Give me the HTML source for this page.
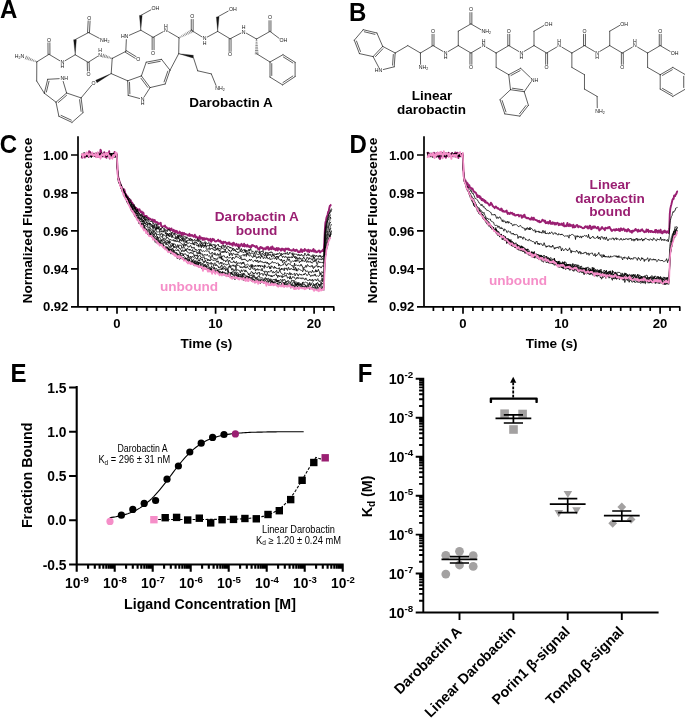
<!DOCTYPE html>
<html lang="en"><head><meta charset="utf-8"><title>Darobactin A binding figure</title>
<style>html,body{margin:0;padding:0;background:#fff}svg{display:block}text{font-family:'Liberation Sans',Arial,Helvetica,sans-serif}</style></head><body>
<svg width="685" height="720" viewBox="0 0 685 720">
<rect width="685" height="720" fill="#fff"/>
<g font-weight="bold" font-size="26" fill="#000">
<text transform="translate(0.1 17.6) scale(0.925 1)">A</text>
<text transform="translate(348.9 21.2) scale(0.925 1)">B</text>
<text transform="translate(-0.2 153.4) scale(0.925 1)">C</text>
<text transform="translate(349.4 153.4) scale(0.925 1)">D</text>
<text transform="translate(10.6 381.9) scale(0.925 1)">E</text>
<text transform="translate(357.8 382.4) scale(0.925 1)">F</text>
</g>
<g id="structA">
<g stroke="#141414" stroke-width="0.68" stroke-linecap="round" fill="none">
<path stroke-width="0.5" d="M36.89 61.67L36.71 62.13M35.4 60.88L35.08 61.67M33.91 60.09L33.46 61.21M32.42 59.3L31.84 60.76M30.93 58.51L30.22 60.3M29.45 57.72L28.59 59.84M27.96 56.93L26.97 59.38M26.47 56.14L25.35 58.92"/>
<path d="M36.8 61.9L49 54.3"/>
<path d="M49 54.3L59.74 60.71"/>
<path d="M65.07 60.73L75.2 54.8"/>
<path d="M75.2 54.8L88.2 62.3"/>
<path d="M88.2 62.3L97.57 56.44"/>
<path stroke-width="0.5" d="M112.27 58.16L112.13 58.64M110.83 57.51L110.56 58.39M109.38 56.86L109 58.14M107.94 56.21L107.43 57.88M106.49 55.56L105.87 57.63M105.05 54.91L104.3 57.38M103.6 54.25L102.74 57.13"/>
<path d="M112.2 58.4L125.8 51.4"/>
<path d="M125.8 51.4L126.35 39.6"/>
<path d="M129.34 35.25L140.8 30.2"/>
<path d="M140.8 30.2L153.1 37.3"/>
<path d="M153.1 37.3L163.19 31.7"/>
<path d="M168.58 31.76L179 37.8"/>
<path stroke-width="0.5" d="M179.12 38.02L178.88 37.58M180.65 37.37L180.28 36.68M182.18 36.71L181.69 35.78M183.71 36.06L183.09 34.88M185.24 35.4L184.49 33.98M186.78 34.75L185.89 33.08M188.31 34.09L187.29 32.18M189.84 33.44L188.69 31.28M191.37 32.78L190.1 30.38M192.9 32.13L191.5 29.47"/>
<path d="M192.2 30.8L201.97 36.86"/>
<path d="M207.33 37.02L217.7 31.4"/>
<path d="M217.7 31.4L230.1 38.8"/>
<path d="M230.1 38.8L240.95 33.13"/>
<path d="M246.39 33.24L256.5 39"/>
<path d="M256.5 39L270 31.4"/>
<path d="M270 31.4L279.13 38.33"/>
<path d="M49.95 54.29L49.87 42.89M48.05 54.31L47.97 42.91"/>
<path d="M87.25 62.32L87.47 70.93M89.15 62.28L89.37 70.88"/>
<path d="M125.3 52.21L135.16 58.28M126.3 50.59L136.16 56.67"/>
<path d="M152.15 37.3L152.15 49.7M154.05 37.3L154.05 49.7"/>
<path d="M193.15 30.8L193.15 19.5M191.25 30.8L191.25 19.5"/>
<path d="M229.15 38.8L229.15 51.4M231.05 38.8L231.05 51.4"/>
<path d="M270.95 31.4L270.95 20.7M269.05 31.4L269.05 20.7"/>
<path d="M89.45 32.65L90.08 21.05M87.55 32.55L88.18 20.94"/>
<path d="M75 39.7L88.5 32.6"/>
<path d="M88.5 32.6L99.26 38.26"/>
<path d="M140.8 15.4L150.88 9.89"/>
<path d="M217.7 16.9L228.19 11.1"/>
<path stroke-width="0.5" d="M256.25 39L256.75 39M256.13 40.65L256.91 40.64M256.02 42.3L257.07 42.28M255.9 43.94L257.23 43.92M255.78 45.59L257.39 45.57M255.67 47.23L257.56 47.21M255.55 48.88L257.72 48.85M255.43 50.53L257.88 50.49M255.32 52.17L258.04 52.14M255.2 53.82L258.2 53.78"/>
<path d="M256.7 53.8L270 62"/>
<path d="M270 62L283 54.7"/>
<path d="M283 54.7L295.1 62.3M283.42 57.03L292.81 62.93"/>
<path d="M295.1 62.3L295.1 76.6"/>
<path d="M295.1 76.6L282.6 84.9M292.8 76.03L282.96 82.56"/>
<path d="M282.6 84.9L270 77.1"/>
<path d="M270 77.1L270 62M271.75 75.5L271.75 63.6"/>
<path d="M36.8 61.9L36.7 81"/>
<path d="M36.7 81L44.3 93.2"/>
<path d="M44.3 93.2L47.7 79.3M46.38 92.06L49.02 81.27"/>
<path d="M47.7 79.3L59.2 78.67"/>
<path d="M63.18 81.47L66.6 93"/>
<path d="M66.6 93L56 102.2M66.54 95.37L58.36 102.47"/>
<path d="M56 102.2L44.3 93.2"/>
<path d="M56 102.2L58.9 116.3"/>
<path d="M58.9 116.3L72 122.4M61.09 115.39L71.29 120.14"/>
<path d="M72 122.4L83 112.7"/>
<path d="M83 112.7L81.1 97.9M81.06 111.34L79.57 99.71"/>
<path d="M81.1 97.9L66.6 93"/>
<path d="M81.1 97.9L91.62 85.28"/>
<path d="M112.2 58.4L111.2 73.6"/>
<path d="M111.2 73.6L127.7 80.8"/>
<path d="M127.7 80.8L128.2 95.4M129.5 82.34L129.89 93.74"/>
<path d="M128.2 95.4L139.61 98.49"/>
<path d="M144.27 96.69L150.1 87.6"/>
<path d="M150.1 87.6L141.4 75.9M147.74 87.36L140.95 78.23"/>
<path d="M141.4 75.9L127.7 80.8"/>
<path d="M141.4 75.9L146.2 62.2"/>
<path d="M146.2 62.2L161.5 59.3M148.1 63.62L160.25 61.32"/>
<path d="M161.5 59.3L170 70.2"/>
<path d="M170 70.2L165.2 84M167.82 71.14L164.07 81.91"/>
<path d="M165.2 84L150.1 87.6"/>
<path d="M170 70.2L178.7 53.7"/>
<path d="M179 37.8L178.7 53.7"/>
<path d="M193.1 56.6L197.7 70.8"/>
<path d="M197.7 70.8L211.3 73.9"/>
<path d="M211.3 73.9L216.02 85.43"/>
</g>
<g fill="#141414" stroke="#141414" stroke-width="0.3"><path d="M75.2 54.8L76.35 39.68L73.65 39.72Z"/><path d="M140.8 30.2L142.15 15.4L139.45 15.4Z"/><path d="M217.7 31.4L219.05 16.9L216.35 16.9Z"/><path d="M111.2 73.6L95.71 80.26L96.97 82.65Z"/><path d="M178.7 53.7L192.83 57.92L193.37 55.28Z"/></g>
<g font-family="'Liberation Sans',Arial,sans-serif" font-size="5.2" fill="#141414" text-anchor="middle">
<text x="19.6" y="58.07">H<tspan font-size="3.6" dy="1.1">2</tspan><tspan dy="-1.1">N</tspan></text>
<text x="48.9" y="41.67">O</text>
<text x="62.4" y="64.17">N</text>
<text x="62.4" y="68.44">H</text>
<text x="89.3" y="19.77">O</text>
<text x="104.81" y="41.57">NH<tspan font-size="3.6" dy="1.1">2</tspan></text>
<text x="88.5" y="75.87">O</text>
<text x="100.2" y="56.67">N</text>
<text x="100.2" y="52.41">H</text>
<text x="138.3" y="60.97">O</text>
<text x="124.63" y="38.37">HN</text>
<text x="155.47" y="10.27">OH</text>
<text x="153.1" y="54.67">O</text>
<text x="165.9" y="32.07">N</text>
<text x="165.9" y="27.81">H</text>
<text x="192.2" y="18.27">O</text>
<text x="204.6" y="40.37">N</text>
<text x="204.6" y="44.64">H</text>
<text x="232.77" y="11.47">OH</text>
<text x="230.1" y="56.37">O</text>
<text x="243.7" y="33.57">N</text>
<text x="243.7" y="29.31">H</text>
<text x="270" y="19.47">O</text>
<text x="283.47" y="42.07">OH</text>
<text x="64.17" y="80.37">NH</text>
<text x="93.6" y="84.77">O</text>
<text x="142.6" y="101.17">N</text>
<text x="142.6" y="105.44">H</text>
<text x="220.01" y="90.17">NH<tspan font-size="3.6" dy="1.1">2</tspan></text>
</g>
<text x="231" y="106.7" font-weight="bold" font-size="13.5" text-anchor="middle" fill="#000">Darobactin A</text>
</g>
<g id="structB">
<g stroke="#141414" stroke-width="0.68" stroke-linecap="round" fill="none">
<path d="M407.8 45.6L420.42 53"/>
<path d="M420.42 53L433.04 45.6"/>
<path d="M433.04 45.6L442.99 51.43"/>
<path d="M448.33 51.43L458.28 45.6"/>
<path d="M458.28 45.6L470.9 53"/>
<path d="M470.9 53L480.85 47.17"/>
<path d="M486.19 47.17L496.14 53"/>
<path d="M496.14 53L508.76 45.6"/>
<path d="M508.76 45.6L518.71 51.43"/>
<path d="M524.05 51.43L534 45.6"/>
<path d="M534 45.6L546.62 53"/>
<path d="M546.62 53L556.57 47.17"/>
<path d="M561.91 47.17L571.86 53"/>
<path d="M571.86 53L584.48 45.6"/>
<path d="M584.48 45.6L594.43 51.43"/>
<path d="M599.77 51.43L609.72 45.6"/>
<path d="M609.72 45.6L622.34 53"/>
<path d="M622.34 53L632.29 47.17"/>
<path d="M637.63 47.17L647.58 53"/>
<path d="M647.58 53L660.2 45.6"/>
<path d="M660.2 45.6L670.15 51.43"/>
<path d="M433.99 45.6L433.99 34.3M432.09 45.6L432.09 34.3"/>
<path d="M509.71 45.6L509.71 34.3M507.81 45.6L507.81 34.3"/>
<path d="M585.43 45.6L585.43 34.3M583.53 45.6L583.53 34.3"/>
<path d="M661.15 45.6L661.15 34.3M659.25 45.6L659.25 34.3"/>
<path d="M469.95 53L469.95 64.3M471.85 53L471.85 64.3"/>
<path d="M545.67 53L545.67 64.3M547.57 53L547.57 64.3"/>
<path d="M621.39 53L621.39 64.3M623.29 53L623.29 64.3"/>
<path d="M420.42 53L420.58 64.3"/>
<path d="M458.28 45.6L458.28 31.2"/>
<path d="M458.28 31.2L470.9 23.9"/>
<path d="M470.9 23.9L480.84 29.65"/>
<path d="M471.85 23.9L471.85 12.6M469.95 23.9L469.95 12.6"/>
<path d="M534 45.6L534 31.2"/>
<path d="M534 31.2L543.94 25.45"/>
<path d="M609.72 45.6L609.72 31.2"/>
<path d="M609.72 31.2L619.66 25.45"/>
<path d="M571.86 53L571.86 67.4"/>
<path d="M571.86 67.4L584.48 74.7"/>
<path d="M584.48 74.7L584.48 89.1"/>
<path d="M584.48 89.1L597.1 96.4"/>
<path d="M597.1 96.4L597.26 107.7"/>
<path d="M647.58 53L647.58 67.4"/>
<path d="M647.58 67.4L660.2 74.7"/>
<path d="M660.2 74.7L672.82 67.4M662.46 75.41L672.31 69.72"/>
<path d="M672.82 67.4L685.44 74.7"/>
<path d="M685.44 74.7L685.44 89.1M683.69 76.3L683.69 87.5"/>
<path d="M685.44 89.1L672.82 96.4"/>
<path d="M672.82 96.4L660.2 89.1M672.31 94.08L662.46 88.39"/>
<path d="M660.2 89.1L660.2 74.7"/>
<path d="M407.8 45.6L395.18 53"/>
<path d="M395.18 53L394.2 66.8M393.32 54.47L392.57 65.08"/>
<path d="M394.2 66.8L383.31 69.54"/>
<path d="M378.86 67.56L373.1 56.6"/>
<path d="M373.1 56.6L382.7 46.4M375.47 56.63L382.88 48.76"/>
<path d="M382.7 46.4L395.18 53"/>
<path d="M382.7 46.4L376.9 33"/>
<path d="M376.9 33L363.2 29.7M374.93 34.33L364.35 31.78"/>
<path d="M363.2 29.7L354.3 40.2"/>
<path d="M354.3 40.2L359.4 53.6M356.5 41.07L360.47 51.48"/>
<path d="M359.4 53.6L373.1 56.6"/>
<path d="M496.14 53L496.14 67.4"/>
<path d="M496.14 67.4L508.76 74.7"/>
<path d="M508.76 74.7L520.7 68.3M511 75.49L520.12 70.6"/>
<path d="M520.7 68.3L530.36 77.56"/>
<path d="M530.82 82.24L524.2 91.7"/>
<path d="M524.2 91.7L510.5 89.7M522.87 89.74L512.34 88.2"/>
<path d="M510.5 89.7L508.76 74.7"/>
<path d="M510.5 89.7L500 99.6"/>
<path d="M500 99.6L504.8 113.9M502.17 100.56L505.95 111.83"/>
<path d="M504.8 113.9L519.9 116.1"/>
<path d="M519.9 116.1L528.4 105.3M519.51 113.76L526.04 105.47"/>
<path d="M528.4 105.3L524.2 91.7"/>
</g>
<g font-family="'Liberation Sans',Arial,sans-serif" font-size="5.2" fill="#141414" text-anchor="middle">
<text x="445.66" y="54.87">N</text>
<text x="445.66" y="59.14">H</text>
<text x="483.52" y="47.47">N</text>
<text x="483.52" y="43.21">H</text>
<text x="521.38" y="54.87">N</text>
<text x="521.38" y="59.14">H</text>
<text x="559.24" y="47.47">N</text>
<text x="559.24" y="43.21">H</text>
<text x="597.1" y="54.87">N</text>
<text x="597.1" y="59.14">H</text>
<text x="634.96" y="47.47">N</text>
<text x="634.96" y="43.21">H</text>
<text x="674.69" y="54.87">OH</text>
<text x="433.04" y="33.07">O</text>
<text x="508.76" y="33.07">O</text>
<text x="584.48" y="33.07">O</text>
<text x="660.2" y="33.07">O</text>
<text x="470.9" y="69.27">O</text>
<text x="546.62" y="69.27">O</text>
<text x="622.34" y="69.27">O</text>
<text x="423.43" y="69.27">NH<tspan font-size="3.6" dy="1.1">2</tspan></text>
<text x="470.9" y="11.37">O</text>
<text x="486.33" y="33.07">NH<tspan font-size="3.6" dy="1.1">2</tspan></text>
<text x="548.49" y="25.77">OH</text>
<text x="624.21" y="25.77">OH</text>
<text x="600.11" y="112.67">NH<tspan font-size="3.6" dy="1.1">2</tspan></text>
<text x="378.43" y="72.17">HN</text>
<text x="534.47" y="81.57">NH</text>
</g>
<text x="432" y="100" font-weight="bold" font-size="13.5" text-anchor="middle" fill="#000">Linear</text>
<text x="431.5" y="113.6" font-weight="bold" font-size="13.5" text-anchor="middle" fill="#000">darobactin</text>
</g>
<g fill="none" stroke-linejoin="round">
<path d="M81.5 158.4L82.1 157.2L82.6 157.4L83.1 155.2L83.7 155.9L84.2 155.8L84.8 157.5L85.3 155.8L85.9 155L86.4 155.7L86.9 155.4L87.5 154.4L88 153.9L88.6 157.1L89.1 151.1L89.7 152.8L90.2 152.1L90.7 154.8L91.3 155.7L91.8 155.8L92.4 153.2L92.9 154.4L93.4 153.9L94 154.3L94.5 154.8L95.1 154.6L95.6 156.6L96.2 155L96.7 153.9L97.2 156.4L97.8 156.6L98.3 156.9L98.9 156.4L99.4 156.9L100 156.5L100.5 149.8L101 150.6L101.6 154L102.1 155.1L102.7 156.4L103.2 155.2L103.7 153.7L104.3 152.2L104.8 153.1L105.4 157.1L105.9 153.7L106.5 157.8L107 153L107.5 154.5L108.1 154.9L108.6 154.1L109.2 151.3L109.7 158.5L110.2 155L110.8 155.5L111.3 154.7L111.9 156.9L112.4 157.5L113 155.7L113.5 154.5L114 156.9L114.6 151.9L115.1 154.2L115.7 155.6L116.2 155.1L116.8 154.3L117.3 164.9L117.8 174.2L118.4 177.6L118.9 178.9L119.5 181.8L120 182.7L120.5 184.1L121.1 185.7L121.6 186.7L122.2 187.9L122.7 189.2L123.3 189.5L123.8 190.9L124.3 189.4L124.9 191.8L125.4 194L126 194.1L126.5 195.6L127.1 197.6L127.6 196.4L128.1 197.9L128.7 199L129.2 198.9L129.8 200.1L130.3 201L130.8 200.2L131.4 202.3L131.9 202.4L132.5 203.2L133 204.1L133.6 205.5L134.1 206L134.6 207L135.2 207.5L135.7 209.6L136.3 207.9L136.8 209.6L137.4 209.2L137.9 209.2L138.4 210.4L139 209.6L139.5 209.3L140.1 210.8L140.6 212.4L141.1 212.1L141.7 211.5L142.2 212.5L142.8 213.8L143.3 212.6L143.9 214.8L144.4 215.8L144.9 216.2L145.5 215.9L146 216.1L146.6 216L147.1 217L147.6 217.6L148.2 218.4L148.7 217.8L149.3 219.4L149.8 219.2L150.4 218.8L150.9 219.5L151.4 220.1L152 220.1L152.5 219.4L153.1 219.8L153.6 221.8L154.2 221.9L154.7 220L155.2 221.5L155.8 222L156.3 222.6L156.9 222L157.4 222.4L157.9 223L158.5 224.4L159 223.3L159.6 223.5L160.1 223.7L160.7 222.7L161.2 226L161.7 226.2L162.3 226.8L162.8 226.5L163.4 226.4L163.9 226.2L164.5 226.4L165 225.6L165.5 227.4L166.1 227.1L166.6 227.4L167.2 228.3L167.7 228.7L168.2 228.4L168.8 229.1L169.3 228.3L169.9 228.7L170.4 230.2L171 229.8L171.5 228.4L172 230.1L172.6 230.3L173.1 231.5L173.7 229.8L174.2 230.6L174.8 231.3L175.3 232.6L175.8 230.7L176.4 231.7L176.9 231L177.5 233L178 233.1L178.5 232.7L179.1 233L179.6 231.6L180.2 232.5L180.7 232.7L181.3 234.5L181.8 235.4L182.3 232.6L182.9 234L183.4 234.6L184 232.9L184.5 234.3L185 234.4L185.6 233.9L186.1 234.4L186.7 234.4L187.2 234.7L187.8 235.5L188.3 235.6L188.8 235L189.4 233.8L189.9 236.1L190.5 235.6L191 235L191.6 235.8L192.1 235.1L192.6 235.7L193.2 236.3L193.7 236.8L194.3 235.6L194.8 234.7L195.3 236.7L195.9 237.6L196.4 236.5L197 237.4L197.5 237.6L198.1 237.9L198.6 239L199.1 237.3L199.7 236.1L200.2 238.3L200.8 238.9L201.3 237.6L201.9 238.3L202.4 237.9L202.9 240L203.5 238.9L204 238L204.6 239.7L205.1 238.5L205.6 239.2L206.2 238.7L206.7 238.4L207.3 239.3L207.8 238.9L208.4 240.5L208.9 239.4L209.4 240.5L210 240.1L210.5 238.8L211.1 241.9L211.6 241.1L212.2 240.5L212.7 238.8L213.2 239.9L213.8 239.2L214.3 240.1L214.9 241.4L215.4 241.5L215.9 241.2L216.5 241.4L217 240.8L217.6 240.6L218.1 239.7L218.7 240.9L219.2 241.5L219.7 241.3L220.3 240.6L220.8 241.4L221.4 243.1L221.9 242.1L222.4 243.1L223 243.9L223.5 241.6L224.1 242.7L224.6 242.4L225.2 241.8L225.7 242.6L226.2 242.8L226.8 244.3L227.3 243.2L227.9 242.9L228.4 242.6L229 244L229.5 242.5L230 244.5L230.6 244L231.1 243.8L231.7 244.7L232.2 243.6L232.7 245.7L233.3 242.8L233.8 242.8L234.4 243.9L234.9 244.7L235.5 245.6L236 244.4L236.5 243.8L237.1 244.9L237.6 246.3L238.2 245.9L238.7 244.5L239.3 246.8L239.8 246.6L240.3 245.2L240.9 244.8L241.4 243.8L242 244.4L242.5 246.2L243 245.7L243.6 246.1L244.1 243.8L244.7 246.6L245.2 244.9L245.8 245.7L246.3 245.6L246.8 246.5L247.4 244.7L247.9 246.6L248.5 246.4L249 245.9L249.5 247.2L250.1 246.1L250.6 246.2L251.2 247.3L251.7 245.2L252.3 245.9L252.8 245L253.3 245.6L253.9 246.1L254.4 245.9L255 246.5L255.5 247.2L256.1 246.4L256.6 246L257.1 247.1L257.7 248.7L258.2 248.3L258.8 249.4L259.3 249.9L259.8 247.9L260.4 247L260.9 247L261.5 248.1L262 247.8L262.6 247.8L263.1 248.9L263.6 249.7L264.2 248.5L264.7 248.7L265.3 248.4L265.8 249.3L266.4 247.2L266.9 247.4L267.4 248.3L268 246.8L268.5 249.7L269.1 249.7L269.6 248.8L270.1 248.1L270.7 247.3L271.2 249.3L271.8 248.7L272.3 246.4L272.9 247.6L273.4 249.2L273.9 248.9L274.5 248.4L275 249.7L275.6 250.3L276.1 249.2L276.7 248L277.2 248.3L277.7 250.6L278.3 248.3L278.8 248.3L279.4 249.2L279.9 249.6L280.4 249.2L281 250.7L281.5 249L282.1 248.5L282.6 249.7L283.2 249.7L283.7 249L284.2 250.8L284.8 251.2L285.3 248.9L285.9 248.4L286.4 248.8L286.9 249.4L287.5 249.4L288 248.4L288.6 249.8L289.1 249.1L289.7 250L290.2 250.2L290.7 250.1L291.3 250.4L291.8 250.8L292.4 250.3L292.9 249.8L293.5 249.1L294 250.6L294.5 250L295.1 251.1L295.6 249.9L296.2 249.9L296.7 249.7L297.2 251L297.8 251.5L298.3 252.3L298.9 251.2L299.4 252L300 252L300.5 250.8L301 249.2L301.6 249.6L302.1 252.1L302.7 251.3L303.2 250.2L303.8 250.1L304.3 250.9L304.8 249L305.4 250.4L305.9 250.3L306.5 250.3L307 250.9L307.5 251.6L308.1 249.8L308.6 249.8L309.2 252.1L309.7 250.6L310.3 250.4L310.8 250.3L311.3 251L311.9 251.3L312.4 250.8L313 249.9L313.5 249L314.1 251.9L314.6 250.7L315.1 250.5L315.7 251.1L316.2 252.3L316.8 251.9L317.3 252.1L317.8 251.3L318.4 251.3L318.9 250.4L319.5 251L320 252.5L320.6 251.9L321.1 251.4L321.6 251.2L322.2 251.1L322.7 250L323.3 249.3L323.8 251.3L324.3 241.8L324.9 229L325.4 222.8L326 220.4L326.5 217.7L327.1 216.2L327.6 214.7L328.1 211.8L328.7 211.2L329.2 208.5L329.8 206L330.3 205.8L330.9 204.8L331.4 204.6" stroke="#9a1f72" stroke-width="1.9"/>
<path d="M81.5 155.1L82.1 156L82.6 155.1L83.1 154.5L83.7 155L84.2 155L84.8 153.7L85.3 155.7L85.9 155.7L86.4 157L86.9 156.2L87.5 156L88 156.2L88.6 155.9L89.1 153.5L89.7 154.8L90.2 155.1L90.7 152.9L91.3 154.5L91.8 156.5L92.4 155L92.9 155.9L93.4 153.7L94 155.8L94.5 155.8L95.1 156.7L95.6 155.3L96.2 156L96.7 155.3L97.2 155.4L97.8 155.7L98.3 154.3L98.9 153.9L99.4 154.7L100 155.8L100.5 156.2L101 155L101.6 152.7L102.1 154.9L102.7 155.7L103.2 155.8L103.7 156.2L104.3 156.2L104.8 155.5L105.4 153.8L105.9 154.7L106.5 155.4L107 156.6L107.5 155.2L108.1 155.1L108.6 156.2L109.2 156.3L109.7 155.4L110.2 154.1L110.8 154.2L111.3 154.6L111.9 155.2L112.4 154.7L113 154.9L113.5 152.9L114 155.6L114.6 155.5L115.1 153.9L115.7 155L116.2 153.6L116.8 154.7L117.3 166.9L117.8 176.4L118.4 181L118.9 182.9L119.5 181.4L120 183.6L120.5 185.3L121.1 186.4L121.6 188.1L122.2 189.1L122.7 191.5L123.3 193.1L123.8 193.3L124.3 195.5L124.9 197.9L125.4 198.4L126 199.7L126.5 199.7L127.1 201.9L127.6 203.6L128.1 204.1L128.7 203.3L129.2 205.4L129.8 206.5L130.3 207.7L130.8 208.4L131.4 208.7L131.9 209.1L132.5 212.8L133 211.6L133.6 213.2L134.1 214.6L134.6 213.1L135.2 215.7L135.7 215.1L136.3 216.4L136.8 219.3L137.4 219.2L137.9 219.5L138.4 221L139 224L139.5 223.5L140.1 223.8L140.6 225.3L141.1 223.4L141.7 225.4L142.2 226.6L142.8 227.3L143.3 228.5L143.9 229.3L144.4 229.1L144.9 229.4L145.5 230.7L146 231.1L146.6 232.9L147.1 232L147.6 233.4L148.2 233.3L148.7 234.8L149.3 235.2L149.8 235.1L150.4 236.8L150.9 234.1L151.4 236.3L152 237.2L152.5 238.5L153.1 237L153.6 237.2L154.2 238.7L154.7 241L155.2 241.1L155.8 240.5L156.3 241.7L156.9 243L157.4 243.7L157.9 243.8L158.5 243.5L159 244.3L159.6 244.3L160.1 241.9L160.7 242.6L161.2 245.8L161.7 245.6L162.3 246.1L162.8 246.8L163.4 246.1L163.9 247.6L164.5 248.2L165 248.7L165.5 248.9L166.1 247.9L166.6 248.4L167.2 250.8L167.7 250.8L168.2 251.5L168.8 250.4L169.3 250.9L169.9 250.7L170.4 251.8L171 254.1L171.5 252.7L172 252.8L172.6 252.8L173.1 254.8L173.7 254.2L174.2 255L174.8 255.5L175.3 254.8L175.8 254.9L176.4 256.3L176.9 257.7L177.5 259L178 257.7L178.5 256L179.1 256.9L179.6 259.5L180.2 259L180.7 257.9L181.3 256.6L181.8 257L182.3 258.1L182.9 258.7L183.4 260.2L184 260.3L184.5 260.4L185 261L185.6 260.5L186.1 261.1L186.7 260.7L187.2 259.8L187.8 260.4L188.3 261L188.8 262L189.4 263.6L189.9 262.9L190.5 262.2L191 263.7L191.6 262.1L192.1 263.4L192.6 263.2L193.2 264L193.7 265.3L194.3 262.6L194.8 265.2L195.3 264L195.9 265.3L196.4 265L197 266.1L197.5 266.2L198.1 265.1L198.6 264L199.1 266.5L199.7 266.5L200.2 265.7L200.8 267.2L201.3 266.4L201.9 267.8L202.4 267L202.9 267.1L203.5 266.5L204 267.3L204.6 269.2L205.1 268L205.6 269.5L206.2 268.3L206.7 267.4L207.3 268.2L207.8 269.6L208.4 268.4L208.9 269.2L209.4 270.9L210 270.6L210.5 269L211.1 270.4L211.6 270.4L212.2 271L212.7 272.6L213.2 272L213.8 271.1L214.3 271.2L214.9 271.7L215.4 273.8L215.9 271.2L216.5 271.2L217 271L217.6 270.8L218.1 272.6L218.7 273.3L219.2 272.7L219.7 271.4L220.3 274.3L220.8 273.8L221.4 274.2L221.9 273.3L222.4 272.3L223 273.8L223.5 275.2L224.1 274.4L224.6 274.6L225.2 276L225.7 274.1L226.2 275.1L226.8 274.3L227.3 276.1L227.9 274.4L228.4 276.5L229 274.7L229.5 277.1L230 274.8L230.6 275.9L231.1 277.5L231.7 276.7L232.2 276L232.7 277.2L233.3 277.2L233.8 276.5L234.4 276.9L234.9 279.8L235.5 278.1L236 277L236.5 276.9L237.1 276.3L237.6 277.9L238.2 275.3L238.7 276.4L239.3 277.2L239.8 276.7L240.3 276.8L240.9 277.8L241.4 278.8L242 277.5L242.5 277.9L243 280.3L243.6 280.2L244.1 278.8L244.7 278.8L245.2 278.8L245.8 278.5L246.3 279L246.8 277.8L247.4 279.6L247.9 280L248.5 279.5L249 279L249.5 279L250.1 278.4L250.6 280.1L251.2 279.1L251.7 279.6L252.3 281.2L252.8 280.8L253.3 278.7L253.9 279.5L254.4 280.9L255 283.2L255.5 282.3L256.1 282.1L256.6 281.3L257.1 279.1L257.7 280.1L258.2 280.8L258.8 282.3L259.3 282.9L259.8 282.3L260.4 282.4L260.9 279.2L261.5 281.7L262 282.6L262.6 281.2L263.1 281.9L263.6 283.4L264.2 281.5L264.7 282.6L265.3 283.9L265.8 282.7L266.4 282.3L266.9 283.1L267.4 282.3L268 282.1L268.5 283.7L269.1 285.3L269.6 286L270.1 284.2L270.7 282.4L271.2 282.3L271.8 281.9L272.3 281.5L272.9 283.2L273.4 282.7L273.9 285L274.5 283.6L275 283.6L275.6 284.1L276.1 284.6L276.7 285.4L277.2 284.5L277.7 283.2L278.3 284.5L278.8 284L279.4 285.1L279.9 284.6L280.4 285.7L281 284.7L281.5 285.1L282.1 284.7L282.6 285.5L283.2 286.3L283.7 285.8L284.2 284.4L284.8 283.6L285.3 285.2L285.9 284.6L286.4 284.6L286.9 284.9L287.5 286.9L288 285.7L288.6 286.7L289.1 284.9L289.7 284.9L290.2 285.1L290.7 288.2L291.3 286L291.8 285.4L292.4 287.2L292.9 285.6L293.5 286.1L294 286.5L294.5 287.1L295.1 287.6L295.6 287.2L296.2 283.8L296.7 285.8L297.2 286.3L297.8 287.3L298.3 287.5L298.9 287.6L299.4 287.9L300 286.4L300.5 287.1L301 286.3L301.6 288L302.1 286.5L302.7 287.1L303.2 286.6L303.8 287.3L304.3 288.2L304.8 286.5L305.4 287.7L305.9 287.7L306.5 288.5L307 287.7L307.5 288.1L308.1 287.6L308.6 287.4L309.2 288.4L309.7 289.4L310.3 287.9L310.8 287.1L311.3 287.2L311.9 289L312.4 287.8L313 287.7L313.5 287.8L314.1 287.8L314.6 288.5L315.1 288.2L315.7 287.5L316.2 288.7L316.8 289.9L317.3 289L317.8 288.5L318.4 290.4L318.9 289.8L319.5 288.4L320 288.8L320.6 288.7L321.1 290L321.6 288.3L322.2 287.1L322.7 288.7L323.3 289.6L323.8 290.3L324.3 277.7L324.9 263.2L325.4 257.8L326 252.2L326.5 249.1L327.1 246.7L327.6 246.6L328.1 243.5L328.7 240.7L329.2 240.6L329.8 237.4L330.3 235.2L330.9 234.1L331.4 234.7" stroke="#000" stroke-width="0.78"/>
<path d="M81.5 155.5L82.1 155.1L82.6 155.7L83.1 157.9L83.7 157.2L84.2 155.7L84.8 154.9L85.3 155.5L85.9 153.9L86.4 155.2L86.9 154.9L87.5 154.6L88 154.9L88.6 153.7L89.1 155L89.7 155.8L90.2 154.4L90.7 155.2L91.3 155.5L91.8 155L92.4 154.5L92.9 155L93.4 154L94 155.4L94.5 156.2L95.1 155.8L95.6 155.4L96.2 153L96.7 152.8L97.2 154.5L97.8 155.3L98.3 155.4L98.9 154.7L99.4 155.6L100 154.6L100.5 155.3L101 156.7L101.6 156.2L102.1 154.8L102.7 153.9L103.2 154.5L103.7 154.8L104.3 153.8L104.8 152.2L105.4 153L105.9 155L106.5 155.5L107 153.8L107.5 154.8L108.1 155.9L108.6 156.7L109.2 156.3L109.7 154.7L110.2 154.9L110.8 155.5L111.3 155L111.9 155.9L112.4 154.4L113 154.3L113.5 153.8L114 154.8L114.6 153.7L115.1 155.4L115.7 153.9L116.2 153.4L116.8 154.3L117.3 165.4L117.8 173.8L118.4 179.8L118.9 182.2L119.5 184.4L120 184.3L120.5 186.6L121.1 189.1L121.6 189.2L122.2 191.4L122.7 190L123.3 192.5L123.8 193.4L124.3 195.9L124.9 197.8L125.4 197.5L126 197.9L126.5 200.4L127.1 202.3L127.6 202.7L128.1 202.8L128.7 204.8L129.2 204.1L129.8 205.7L130.3 206.1L130.8 209.1L131.4 210.9L131.9 211.7L132.5 212.2L133 211.3L133.6 212.6L134.1 213.8L134.6 216L135.2 215.8L135.7 217L136.3 217.5L136.8 218.8L137.4 220.4L137.9 220.3L138.4 220L139 221.9L139.5 222L140.1 221.1L140.6 222.4L141.1 222.8L141.7 225.1L142.2 225.2L142.8 227.2L143.3 227.2L143.9 228.6L144.4 228.8L144.9 230.5L145.5 229.9L146 230.8L146.6 231.1L147.1 232.2L147.6 234.7L148.2 234.1L148.7 233.1L149.3 234L149.8 234.9L150.4 234.5L150.9 233.7L151.4 235L152 236.1L152.5 238L153.1 238.8L153.6 237.6L154.2 238.5L154.7 239.2L155.2 239.2L155.8 240.7L156.3 243.1L156.9 241.8L157.4 240.8L157.9 242.1L158.5 242.4L159 242.3L159.6 241.6L160.1 244.4L160.7 243.9L161.2 243L161.7 245.5L162.3 244.9L162.8 245L163.4 244.5L163.9 245.8L164.5 247L165 248L165.5 248.6L166.1 248.4L166.6 249L167.2 248L167.7 248.3L168.2 250.4L168.8 248.5L169.3 249.2L169.9 251.7L170.4 250.5L171 250.4L171.5 250.7L172 252.4L172.6 252.1L173.1 252.5L173.7 253.7L174.2 252.3L174.8 253.4L175.3 253.6L175.8 254.3L176.4 253.4L176.9 254.6L177.5 256.2L178 257L178.5 258.1L179.1 257.4L179.6 257.3L180.2 257.8L180.7 255.4L181.3 257.4L181.8 258.4L182.3 258.5L182.9 258.7L183.4 257.7L184 258.7L184.5 260.2L185 259.9L185.6 258.5L186.1 259.3L186.7 260.1L187.2 259.7L187.8 260.3L188.3 261.2L188.8 261.6L189.4 259.9L189.9 261.2L190.5 261L191 262.5L191.6 262.6L192.1 260.4L192.6 263.9L193.2 262.3L193.7 262.8L194.3 263.4L194.8 264.6L195.3 263.1L195.9 264.4L196.4 263.9L197 263.3L197.5 265L198.1 265.7L198.6 266.3L199.1 267L199.7 267.1L200.2 266.3L200.8 265.3L201.3 267.2L201.9 268.9L202.4 267.5L202.9 266.2L203.5 265.4L204 266.1L204.6 266L205.1 267.1L205.6 266.6L206.2 267.4L206.7 269.6L207.3 268.5L207.8 269.2L208.4 269.5L208.9 269L209.4 270L210 269.9L210.5 268.3L211.1 268.9L211.6 269.8L212.2 271.1L212.7 269.9L213.2 270.6L213.8 270.3L214.3 270.3L214.9 271.6L215.4 271L215.9 271.7L216.5 271.1L217 271.2L217.6 271.8L218.1 270.7L218.7 272.2L219.2 273.6L219.7 272.9L220.3 272.4L220.8 271.9L221.4 272.5L221.9 272.4L222.4 273.3L223 271.8L223.5 273.5L224.1 273.5L224.6 273.8L225.2 273.8L225.7 273.5L226.2 274.3L226.8 274.1L227.3 273.5L227.9 274.7L228.4 276.1L229 274.8L229.5 275L230 275.6L230.6 274.6L231.1 274.4L231.7 272.5L232.2 273.5L232.7 274.7L233.3 275.1L233.8 278.3L234.4 275.8L234.9 275.1L235.5 275.8L236 276.3L236.5 276.2L237.1 274.4L237.6 275.4L238.2 275.6L238.7 276.8L239.3 275.9L239.8 276.5L240.3 276.8L240.9 275.5L241.4 276.9L242 277.4L242.5 278.2L243 277.8L243.6 276.6L244.1 277.5L244.7 276.8L245.2 276.9L245.8 278.3L246.3 279.7L246.8 276.4L247.4 278.2L247.9 278.7L248.5 279.8L249 278.3L249.5 278L250.1 278.4L250.6 279.6L251.2 281.1L251.7 281.4L252.3 281L252.8 280.8L253.3 279.7L253.9 279.2L254.4 280.4L255 279.9L255.5 280.6L256.1 280.6L256.6 279.8L257.1 280.7L257.7 280.6L258.2 280.3L258.8 279.9L259.3 281.2L259.8 280.7L260.4 283.6L260.9 280.6L261.5 281.7L262 282.9L262.6 281.3L263.1 280.4L263.6 279.8L264.2 280.4L264.7 281.7L265.3 281L265.8 280.9L266.4 281.5L266.9 281.8L267.4 280.9L268 280.4L268.5 282.3L269.1 282.3L269.6 281.4L270.1 280.8L270.7 280.2L271.2 282.9L271.8 281.4L272.3 282.7L272.9 284.7L273.4 282.4L273.9 282.6L274.5 283.1L275 282.8L275.6 282.4L276.1 283.5L276.7 283.1L277.2 284.4L277.7 282.7L278.3 282.9L278.8 283.3L279.4 283.2L279.9 282.8L280.4 282.4L281 282.6L281.5 283.4L282.1 284.8L282.6 283.6L283.2 283L283.7 282.7L284.2 283.9L284.8 282.6L285.3 284.1L285.9 284.8L286.4 284.3L286.9 283.7L287.5 284.6L288 285.5L288.6 286.3L289.1 283.9L289.7 284.5L290.2 284L290.7 285.1L291.3 284.5L291.8 284.7L292.4 284.9L292.9 285.9L293.5 286.3L294 284.6L294.5 287.6L295.1 286.4L295.6 284.3L296.2 284.6L296.7 285.7L297.2 286.1L297.8 287.1L298.3 284.2L298.9 285.9L299.4 285.7L300 284.5L300.5 284.7L301 285.1L301.6 286.1L302.1 285.9L302.7 286.7L303.2 285.8L303.8 286.9L304.3 286.4L304.8 285.9L305.4 285.5L305.9 286.8L306.5 286.5L307 286.9L307.5 287.3L308.1 286.1L308.6 286.1L309.2 287.1L309.7 286.6L310.3 288.1L310.8 287.9L311.3 288.6L311.9 287.9L312.4 286.3L313 286.8L313.5 287.3L314.1 286.9L314.6 287.4L315.1 287.1L315.7 288.5L316.2 287.6L316.8 288.3L317.3 287.5L317.8 287.5L318.4 287.3L318.9 288.7L319.5 286.2L320 288L320.6 288.1L321.1 288.1L321.6 288.4L322.2 289.3L322.7 288L323.3 287.1L323.8 288L324.3 279.1L324.9 264L325.4 256.3L326 253.6L326.5 250.2L327.1 247.4L327.6 245.1L328.1 241.9L328.7 239.3L329.2 240L329.8 239L330.3 234.8L330.9 233.8L331.4 233.2" stroke="#000" stroke-width="0.78"/>
<path d="M81.5 155.3L82.1 154.2L82.6 154.3L83.1 154.9L83.7 154.7L84.2 154.3L84.8 155.1L85.3 155.7L85.9 154L86.4 154.7L86.9 155.5L87.5 154.7L88 156.3L88.6 155.3L89.1 156.3L89.7 155.7L90.2 156.8L90.7 156.1L91.3 154.4L91.8 155L92.4 156.1L92.9 153.7L93.4 155.2L94 153.7L94.5 155.2L95.1 156.4L95.6 153.6L96.2 155.1L96.7 154.3L97.2 153.7L97.8 155.9L98.3 155.2L98.9 155.6L99.4 154.6L100 154.9L100.5 156.1L101 155.2L101.6 154.3L102.1 155.1L102.7 154.5L103.2 155.4L103.7 155.1L104.3 154.7L104.8 154.8L105.4 153.8L105.9 153.8L106.5 153.9L107 154.1L107.5 154.6L108.1 156L108.6 154.3L109.2 153.2L109.7 154.3L110.2 155.1L110.8 155L111.3 153.9L111.9 154.4L112.4 155.8L113 155.3L113.5 155.8L114 155.4L114.6 155.9L115.1 156L115.7 153.9L116.2 153.7L116.8 156.2L117.3 168.2L117.8 176.8L118.4 180L118.9 182.9L119.5 182.6L120 185.9L120.5 185.7L121.1 186.6L121.6 188.9L122.2 190.7L122.7 191.5L123.3 192.5L123.8 195.8L124.3 196.8L124.9 196.3L125.4 197.6L126 199.1L126.5 200.9L127.1 201.9L127.6 203L128.1 200.8L128.7 204.8L129.2 204L129.8 205.5L130.3 206.9L130.8 208L131.4 209.5L131.9 208.8L132.5 210.3L133 211.9L133.6 213L134.1 213.7L134.6 215.7L135.2 216.1L135.7 217.1L136.3 216.8L136.8 217.4L137.4 220.4L137.9 220.2L138.4 219.6L139 222.2L139.5 223.3L140.1 222L140.6 223.3L141.1 224.5L141.7 226L142.2 225.6L142.8 226.7L143.3 226.7L143.9 227L144.4 227.4L144.9 228.9L145.5 229.9L146 230.1L146.6 230.7L147.1 231.1L147.6 232.2L148.2 232.7L148.7 233.6L149.3 234.2L149.8 234.1L150.4 233.5L150.9 235.4L151.4 235.2L152 235.8L152.5 236.5L153.1 236.5L153.6 238.1L154.2 237.8L154.7 238.3L155.2 242.3L155.8 240.1L156.3 239.7L156.9 238.7L157.4 241.6L157.9 241.5L158.5 241.6L159 243.2L159.6 241.9L160.1 242.6L160.7 244.2L161.2 245.3L161.7 245.2L162.3 242.9L162.8 242.8L163.4 247.4L163.9 248.2L164.5 246.4L165 246.9L165.5 247.8L166.1 247.2L166.6 247.8L167.2 248L167.7 248.4L168.2 250L168.8 248.4L169.3 249.9L169.9 249.1L170.4 249.5L171 250.5L171.5 250.9L172 251.4L172.6 253.5L173.1 252.8L173.7 252.2L174.2 254.2L174.8 254.8L175.3 252.8L175.8 252.7L176.4 255.2L176.9 254.1L177.5 254.5L178 253.9L178.5 255.2L179.1 255.6L179.6 256.4L180.2 256L180.7 256.4L181.3 257.2L181.8 257.3L182.3 257.9L182.9 256.9L183.4 258.5L184 259.5L184.5 259.4L185 257.7L185.6 258.9L186.1 258.3L186.7 258.3L187.2 259.6L187.8 259L188.3 259.2L188.8 260L189.4 261L189.9 260.8L190.5 262L191 261.6L191.6 261.9L192.1 261.2L192.6 261.3L193.2 262.4L193.7 261.5L194.3 261.1L194.8 262.2L195.3 263.4L195.9 262.7L196.4 265.4L197 264.5L197.5 263.4L198.1 261.9L198.6 264.3L199.1 262.9L199.7 261.9L200.2 262.3L200.8 266.5L201.3 264.4L201.9 264.9L202.4 264.4L202.9 265.5L203.5 266.4L204 266.3L204.6 264.9L205.1 265.2L205.6 266.5L206.2 266.4L206.7 266L207.3 266.3L207.8 267.1L208.4 268L208.9 268.5L209.4 268.4L210 268.6L210.5 269.8L211.1 270L211.6 268.1L212.2 269.6L212.7 270.3L213.2 269.4L213.8 267.9L214.3 267.8L214.9 269.5L215.4 270.6L215.9 270.5L216.5 271L217 270.8L217.6 270L218.1 271.3L218.7 271.5L219.2 271.2L219.7 271L220.3 271.7L220.8 272.1L221.4 272.6L221.9 272.4L222.4 271.3L223 271.9L223.5 274.8L224.1 272.1L224.6 272.2L225.2 273.1L225.7 272.8L226.2 275.5L226.8 275L227.3 272.3L227.9 270.8L228.4 270.5L229 273.2L229.5 273.3L230 272.7L230.6 274.6L231.1 272.3L231.7 274.2L232.2 273.7L232.7 275.1L233.3 274.1L233.8 274.3L234.4 273.4L234.9 275.4L235.5 274.9L236 273.2L236.5 275.7L237.1 274.9L237.6 274.7L238.2 275.6L238.7 275.7L239.3 274.3L239.8 274.2L240.3 274.9L240.9 275.4L241.4 276.9L242 276.2L242.5 274.5L243 274.9L243.6 277.3L244.1 278.7L244.7 277.8L245.2 276.9L245.8 277.4L246.3 277.4L246.8 276.8L247.4 276.2L247.9 276.8L248.5 276.1L249 278.5L249.5 277.4L250.1 277.2L250.6 279L251.2 277L251.7 279.2L252.3 279.7L252.8 276L253.3 276.5L253.9 277.5L254.4 276.9L255 277L255.5 279.3L256.1 278.4L256.6 277.4L257.1 278.7L257.7 278.8L258.2 279.5L258.8 278.6L259.3 279.6L259.8 280L260.4 280.7L260.9 280.7L261.5 279.7L262 279.2L262.6 280L263.1 280.9L263.6 279.9L264.2 279.6L264.7 278.8L265.3 280.3L265.8 280.7L266.4 279.9L266.9 278.9L267.4 280.1L268 280.6L268.5 281.5L269.1 281.3L269.6 280L270.1 279.9L270.7 279.6L271.2 282.3L271.8 280.6L272.3 281.9L272.9 280.9L273.4 283.5L273.9 282L274.5 282.5L275 280.6L275.6 281.3L276.1 280.4L276.7 281.9L277.2 280L277.7 281.9L278.3 280.2L278.8 282.1L279.4 283.1L279.9 281.6L280.4 282.5L281 282.4L281.5 283.7L282.1 283.1L282.6 282.6L283.2 283.3L283.7 282.4L284.2 284.9L284.8 282.5L285.3 283.1L285.9 281.6L286.4 283L286.9 283.7L287.5 283.7L288 283L288.6 282.6L289.1 283.6L289.7 284.2L290.2 283.2L290.7 282.6L291.3 285L291.8 284.9L292.4 284.6L292.9 282.3L293.5 282.2L294 282.7L294.5 283.1L295.1 284.8L295.6 283.1L296.2 284.2L296.7 284.9L297.2 282.5L297.8 285.2L298.3 283.2L298.9 283.8L299.4 285.1L300 284.4L300.5 285.3L301 284.5L301.6 285.2L302.1 285.9L302.7 282.4L303.2 284.6L303.8 283.8L304.3 284.6L304.8 284.2L305.4 286L305.9 286.2L306.5 288.5L307 285L307.5 284.7L308.1 286.2L308.6 284.7L309.2 284.5L309.7 282.3L310.3 284.4L310.8 284.3L311.3 284.6L311.9 284.5L312.4 285.3L313 285.9L313.5 285L314.1 284.3L314.6 286.5L315.1 287L315.7 286.2L316.2 284.2L316.8 285.7L317.3 287.5L317.8 285.6L318.4 285.2L318.9 284L319.5 285.4L320 284.1L320.6 286.4L321.1 285.4L321.6 285.9L322.2 287.4L322.7 286.9L323.3 285.2L323.8 285.1L324.3 275.7L324.9 260L325.4 253.6L326 249.7L326.5 247.3L327.1 244.8L327.6 243.6L328.1 241.1L328.7 238.9L329.2 238L329.8 236.3L330.3 234.5L330.9 233.1L331.4 231.2" stroke="#000" stroke-width="0.78"/>
<path d="M81.5 156.8L82.1 155L82.6 153.5L83.1 153.5L83.7 153.2L84.2 152.5L84.8 155.3L85.3 155.2L85.9 156.5L86.4 156.6L86.9 154.4L87.5 155.1L88 154.5L88.6 154.8L89.1 154.3L89.7 156.2L90.2 155.4L90.7 155.6L91.3 155.4L91.8 155.1L92.4 154.4L92.9 154.3L93.4 153.5L94 154.9L94.5 154.8L95.1 155.2L95.6 155.4L96.2 154.9L96.7 155L97.2 154.5L97.8 154.1L98.3 155.2L98.9 156.4L99.4 155.3L100 153.3L100.5 156.1L101 156.3L101.6 155.8L102.1 154.4L102.7 155.4L103.2 155.6L103.7 153.7L104.3 154.7L104.8 154L105.4 155.7L105.9 154.7L106.5 155.6L107 154.4L107.5 155.1L108.1 154.9L108.6 154.8L109.2 155.2L109.7 156.2L110.2 155.5L110.8 155.7L111.3 154.8L111.9 154.2L112.4 154.3L113 155.2L113.5 154.1L114 154.6L114.6 153.3L115.1 154.7L115.7 154.9L116.2 157L116.8 154.1L117.3 165.5L117.8 175.6L118.4 178.5L118.9 181.4L119.5 183.7L120 185.2L120.5 186.5L121.1 186.2L121.6 189L122.2 190.5L122.7 192.5L123.3 192.8L123.8 193.8L124.3 195.3L124.9 195.7L125.4 196.8L126 198.6L126.5 198L127.1 202L127.6 201.3L128.1 203.4L128.7 203.7L129.2 205.1L129.8 206.4L130.3 205.3L130.8 207.7L131.4 209.3L131.9 209.2L132.5 209.9L133 213L133.6 213.1L134.1 213.8L134.6 214.4L135.2 215.5L135.7 216.9L136.3 217.9L136.8 216.7L137.4 218.7L137.9 217.1L138.4 219.1L139 220.4L139.5 222.6L140.1 220.9L140.6 222.5L141.1 224.7L141.7 223.8L142.2 222.7L142.8 225.2L143.3 224.7L143.9 225.7L144.4 228.7L144.9 227.8L145.5 229.4L146 228.8L146.6 230.2L147.1 230.4L147.6 231.7L148.2 230.4L148.7 231.5L149.3 232.4L149.8 232.5L150.4 234.9L150.9 235.1L151.4 235.2L152 234.9L152.5 235.2L153.1 235.1L153.6 236.9L154.2 236.8L154.7 238L155.2 239.4L155.8 238.5L156.3 238.9L156.9 240.1L157.4 239.5L157.9 241.2L158.5 240.2L159 241.1L159.6 242.8L160.1 241.6L160.7 241.5L161.2 243.3L161.7 243.9L162.3 244.9L162.8 244.5L163.4 245.2L163.9 245.3L164.5 246.1L165 246.6L165.5 246.7L166.1 247L166.6 246.6L167.2 248L167.7 246.8L168.2 248.7L168.8 248.6L169.3 250.4L169.9 250.3L170.4 250.5L171 249L171.5 252.5L172 250.6L172.6 251.4L173.1 249.9L173.7 250.9L174.2 250.8L174.8 251.8L175.3 253.4L175.8 252.8L176.4 252.5L176.9 252.6L177.5 254.1L178 254L178.5 255L179.1 255.4L179.6 255.6L180.2 253L180.7 254.9L181.3 256.3L181.8 255.5L182.3 255.6L182.9 254.5L183.4 255.3L184 255.8L184.5 256.5L185 257.2L185.6 257.8L186.1 258.9L186.7 259L187.2 258.6L187.8 257.1L188.3 256.3L188.8 258.1L189.4 260.5L189.9 258.3L190.5 258.3L191 259.3L191.6 259.2L192.1 261.2L192.6 260.9L193.2 259.5L193.7 259.4L194.3 262.4L194.8 262.6L195.3 260.5L195.9 262.1L196.4 263.5L197 260.7L197.5 262.1L198.1 263.2L198.6 261.9L199.1 263.9L199.7 263.4L200.2 262.6L200.8 262.1L201.3 263.1L201.9 263.7L202.4 263.2L202.9 264L203.5 263.8L204 265.2L204.6 264.8L205.1 265.1L205.6 264.4L206.2 267L206.7 266L207.3 264.8L207.8 264L208.4 264.7L208.9 266.9L209.4 268L210 267.3L210.5 268.2L211.1 267.5L211.6 265.7L212.2 267.6L212.7 267.4L213.2 267.2L213.8 266.7L214.3 267.9L214.9 267.8L215.4 268.7L215.9 269.3L216.5 268.4L217 268.8L217.6 271L218.1 270.7L218.7 269.5L219.2 269.7L219.7 268.9L220.3 268.9L220.8 269.6L221.4 268.4L221.9 270L222.4 268.2L223 268.8L223.5 269L224.1 269.4L224.6 268.2L225.2 268.2L225.7 270.9L226.2 269.2L226.8 269.3L227.3 270.3L227.9 270.9L228.4 271.3L229 274L229.5 273.5L230 273L230.6 274L231.1 272.4L231.7 273.4L232.2 271.6L232.7 271.8L233.3 272L233.8 271.5L234.4 273.2L234.9 272.2L235.5 272.4L236 271.6L236.5 273.9L237.1 273L237.6 272.5L238.2 272.9L238.7 275.9L239.3 275.3L239.8 274.8L240.3 274.5L240.9 274.6L241.4 273.6L242 274.9L242.5 276.8L243 272.9L243.6 274.7L244.1 273.2L244.7 275.4L245.2 275L245.8 275.2L246.3 276.5L246.8 275.6L247.4 276L247.9 276.9L248.5 277.7L249 277.7L249.5 275.4L250.1 275.2L250.6 275.6L251.2 276.1L251.7 274.8L252.3 274.7L252.8 275.8L253.3 276.4L253.9 274.8L254.4 275.9L255 277L255.5 278L256.1 278.7L256.6 278.3L257.1 277.4L257.7 277.4L258.2 275.8L258.8 276.4L259.3 275.5L259.8 277.4L260.4 278.3L260.9 277.5L261.5 277.9L262 277.8L262.6 277.9L263.1 278.8L263.6 279.4L264.2 279.2L264.7 279.3L265.3 277.4L265.8 278.9L266.4 278.5L266.9 278.2L267.4 279L268 278.5L268.5 278.2L269.1 280.4L269.6 279.2L270.1 279.5L270.7 278.7L271.2 279.6L271.8 280L272.3 280.3L272.9 279.8L273.4 279.2L273.9 280L274.5 279.7L275 279L275.6 280.4L276.1 278.7L276.7 280.5L277.2 281.7L277.7 280.9L278.3 280.5L278.8 280.3L279.4 281L279.9 280.4L280.4 279.5L281 279.4L281.5 280.4L282.1 281.9L282.6 279.4L283.2 279.5L283.7 280.6L284.2 279.7L284.8 279.4L285.3 280.5L285.9 281.8L286.4 281.1L286.9 282.1L287.5 281.8L288 280.2L288.6 281.2L289.1 282.5L289.7 281.7L290.2 281.8L290.7 282.6L291.3 281.9L291.8 279.9L292.4 280.5L292.9 281.1L293.5 281.2L294 280.1L294.5 283.2L295.1 281.6L295.6 282.4L296.2 281.8L296.7 282.4L297.2 282.8L297.8 284.7L298.3 282.8L298.9 282.1L299.4 283.3L300 284.5L300.5 283.5L301 285.2L301.6 284.2L302.1 282.9L302.7 282.3L303.2 282.2L303.8 282.4L304.3 283L304.8 282.7L305.4 282.2L305.9 282.1L306.5 282.7L307 282.9L307.5 282.7L308.1 284.3L308.6 283.8L309.2 285L309.7 284.5L310.3 286L310.8 284.6L311.3 283.3L311.9 283.2L312.4 282.8L313 283.1L313.5 283.5L314.1 285.9L314.6 284.9L315.1 284.2L315.7 284.6L316.2 283.1L316.8 284.3L317.3 282.5L317.8 282.7L318.4 284L318.9 285.6L319.5 285.7L320 285.2L320.6 284.4L321.1 281.9L321.6 284.7L322.2 282.9L322.7 283.8L323.3 284.6L323.8 284.4L324.3 273.5L324.9 258.7L325.4 253L326 249.9L326.5 245.7L327.1 243.4L327.6 240.9L328.1 240.2L328.7 238.3L329.2 236.9L329.8 234.5L330.3 232.9L330.9 231.9L331.4 230.5" stroke="#000" stroke-width="0.78"/>
<path d="M81.5 155.7L82.1 155.8L82.6 156.5L83.1 155.2L83.7 155.4L84.2 154.3L84.8 153.9L85.3 155.6L85.9 156.2L86.4 154.7L86.9 155.8L87.5 155L88 154.4L88.6 155.2L89.1 153.3L89.7 155.3L90.2 154.7L90.7 155.3L91.3 157.8L91.8 155.9L92.4 155.4L92.9 154.5L93.4 155L94 155.7L94.5 155.7L95.1 155.4L95.6 154.4L96.2 155.1L96.7 153.8L97.2 153.9L97.8 155.4L98.3 154.1L98.9 156.9L99.4 155.4L100 156L100.5 155.3L101 154L101.6 154.7L102.1 155.1L102.7 153.8L103.2 155.4L103.7 155.9L104.3 154.3L104.8 154.2L105.4 156.2L105.9 155.1L106.5 154.3L107 155L107.5 155.4L108.1 155L108.6 154.8L109.2 155.6L109.7 154.3L110.2 156.3L110.8 155.4L111.3 153.1L111.9 155.5L112.4 155.2L113 157.2L113.5 156.3L114 156.4L114.6 155.3L115.1 155.5L115.7 153.4L116.2 155.5L116.8 155.1L117.3 166.8L117.8 175.2L118.4 178.3L118.9 182.5L119.5 181L120 184.1L120.5 186.3L121.1 188.7L121.6 189.2L122.2 191.6L122.7 191.2L123.3 192.8L123.8 193.3L124.3 195.3L124.9 195.9L125.4 194.8L126 196.4L126.5 198.6L127.1 201L127.6 200.1L128.1 203.7L128.7 205L129.2 203.6L129.8 205.7L130.3 205.1L130.8 206.4L131.4 205.9L131.9 206.8L132.5 208.9L133 211.2L133.6 211.2L134.1 211.1L134.6 212.9L135.2 216.8L135.7 216L136.3 216.4L136.8 216.8L137.4 217.7L137.9 217.1L138.4 219.8L139 219.3L139.5 222.1L140.1 223.5L140.6 223.2L141.1 223.4L141.7 224.1L142.2 224.5L142.8 223.9L143.3 224.2L143.9 225.2L144.4 225.8L144.9 227.3L145.5 228.4L146 229.5L146.6 229.2L147.1 230.3L147.6 230.2L148.2 229.5L148.7 230L149.3 229.7L149.8 232.2L150.4 234.4L150.9 234.3L151.4 231.7L152 232.6L152.5 234.3L153.1 233.4L153.6 235.2L154.2 234L154.7 236L155.2 236.8L155.8 236.3L156.3 238.3L156.9 238.2L157.4 236.4L157.9 237.8L158.5 239.9L159 239.9L159.6 240L160.1 241L160.7 240.4L161.2 239.8L161.7 241L162.3 240.8L162.8 241.6L163.4 242.3L163.9 243.5L164.5 242.5L165 242.1L165.5 244L166.1 245.1L166.6 244.3L167.2 244.8L167.7 244.2L168.2 244.9L168.8 245.9L169.3 247.6L169.9 246.3L170.4 246.8L171 248.4L171.5 249.2L172 250L172.6 248.1L173.1 248.8L173.7 252L174.2 250.7L174.8 250.3L175.3 250L175.8 249.9L176.4 250.5L176.9 249.8L177.5 249.6L178 250.9L178.5 249.7L179.1 251.3L179.6 252.5L180.2 252.1L180.7 253.7L181.3 253.2L181.8 254L182.3 253.8L182.9 253.3L183.4 255.9L184 254L184.5 253.8L185 254.4L185.6 253.9L186.1 254.3L186.7 255.2L187.2 256.2L187.8 255L188.3 254.8L188.8 257.1L189.4 257.1L189.9 257.7L190.5 256.1L191 257.2L191.6 258.3L192.1 256.1L192.6 256.7L193.2 257.2L193.7 257.5L194.3 258.1L194.8 258.2L195.3 257.5L195.9 258L196.4 259.1L197 259L197.5 257.4L198.1 259.4L198.6 260.8L199.1 260L199.7 261.1L200.2 257.9L200.8 259.2L201.3 259.6L201.9 260.1L202.4 258.8L202.9 261.5L203.5 261.4L204 263L204.6 260.8L205.1 261.6L205.6 260.2L206.2 261.9L206.7 263.2L207.3 263.3L207.8 262L208.4 263.4L208.9 262.8L209.4 263.7L210 264L210.5 264.1L211.1 262.2L211.6 264.4L212.2 263.7L212.7 263.2L213.2 264.6L213.8 265.9L214.3 263.4L214.9 262.7L215.4 264.5L215.9 266L216.5 264.5L217 265.1L217.6 266.1L218.1 266L218.7 268L219.2 267.1L219.7 267.4L220.3 267.7L220.8 266L221.4 266L221.9 264.7L222.4 268.7L223 267.9L223.5 267.9L224.1 266L224.6 265.9L225.2 266.8L225.7 267.2L226.2 268.1L226.8 268.3L227.3 268.3L227.9 270.4L228.4 266.8L229 267.1L229.5 266L230 266.6L230.6 267.6L231.1 267.6L231.7 270.1L232.2 270.1L232.7 268.4L233.3 269.3L233.8 270.8L234.4 269.7L234.9 270.7L235.5 269.8L236 268.2L236.5 270.5L237.1 270.5L237.6 269.6L238.2 270L238.7 270L239.3 271L239.8 270.9L240.3 272.9L240.9 271.4L241.4 269.7L242 271.6L242.5 271.3L243 270.4L243.6 269.8L244.1 269.8L244.7 271.8L245.2 271.9L245.8 269.9L246.3 271.7L246.8 271.4L247.4 272.5L247.9 272.7L248.5 275L249 273.4L249.5 274.6L250.1 273.8L250.6 273.7L251.2 271.5L251.7 271.6L252.3 272L252.8 273.1L253.3 274.2L253.9 272.8L254.4 273.7L255 273.4L255.5 272.3L256.1 273.2L256.6 273.3L257.1 274.4L257.7 272.7L258.2 272.9L258.8 272.8L259.3 272L259.8 274.9L260.4 274.2L260.9 273.4L261.5 273.6L262 273.7L262.6 273.7L263.1 275.6L263.6 274.8L264.2 273.4L264.7 274.3L265.3 274.8L265.8 273.9L266.4 276.3L266.9 274.8L267.4 273.5L268 274.9L268.5 275.8L269.1 274.8L269.6 275.6L270.1 276.2L270.7 275.4L271.2 277L271.8 275.3L272.3 276.7L272.9 276.4L273.4 275.2L273.9 275.7L274.5 275.6L275 274.5L275.6 274.2L276.1 273.6L276.7 276L277.2 275.3L277.7 277.6L278.3 275.9L278.8 275L279.4 276.8L279.9 276.1L280.4 275.7L281 276.5L281.5 277.3L282.1 275.4L282.6 277.7L283.2 276.9L283.7 276L284.2 276.5L284.8 275.4L285.3 275.3L285.9 276.3L286.4 275.3L286.9 276.1L287.5 278.2L288 277.9L288.6 277.3L289.1 277.3L289.7 279.1L290.2 275.8L290.7 278.7L291.3 279.1L291.8 277.7L292.4 277.6L292.9 276.4L293.5 277.3L294 277.5L294.5 277.2L295.1 278.6L295.6 279.5L296.2 279L296.7 277.5L297.2 278.4L297.8 277.2L298.3 278.6L298.9 277.8L299.4 278.3L300 277.7L300.5 278.4L301 278.4L301.6 279.1L302.1 277.6L302.7 278.6L303.2 278.3L303.8 278.1L304.3 279.6L304.8 279.9L305.4 279.3L305.9 277.9L306.5 279.8L307 280.3L307.5 280.4L308.1 279.9L308.6 280.5L309.2 280.4L309.7 279.1L310.3 280.4L310.8 279.7L311.3 280.7L311.9 280L312.4 279.2L313 281.5L313.5 280.1L314.1 279.6L314.6 279.8L315.1 279.6L315.7 279.4L316.2 281L316.8 280.3L317.3 279.4L317.8 278.6L318.4 281L318.9 280.9L319.5 281.6L320 280.6L320.6 281.3L321.1 281.5L321.6 279.8L322.2 278L322.7 281.8L323.3 279.2L323.8 281L324.3 269.3L324.9 255.1L325.4 248.1L326 245.5L326.5 243.4L327.1 240.3L327.6 237.1L328.1 236.5L328.7 233.8L329.2 232.3L329.8 230.8L330.3 229.6L330.9 227.9" stroke="#000" stroke-width="0.78"/>
<path d="M81.5 154.2L82.1 153.9L82.6 153.9L83.1 153.8L83.7 155.1L84.2 154.9L84.8 156.2L85.3 155.8L85.9 155.5L86.4 157.1L86.9 155.1L87.5 155.3L88 155.7L88.6 156.3L89.1 154.9L89.7 155.6L90.2 154.1L90.7 154.9L91.3 155.1L91.8 154.8L92.4 153.6L92.9 154.6L93.4 154.5L94 154.8L94.5 155.8L95.1 154L95.6 155.1L96.2 153.9L96.7 153.9L97.2 154.9L97.8 153.2L98.3 154.8L98.9 156.5L99.4 155.1L100 154.9L100.5 154.8L101 155.5L101.6 155L102.1 154.8L102.7 154.4L103.2 153.9L103.7 153.9L104.3 154.9L104.8 155.1L105.4 153.2L105.9 154L106.5 153.5L107 156.3L107.5 156.8L108.1 154.3L108.6 154.5L109.2 156.2L109.7 154.1L110.2 154.8L110.8 153.4L111.3 154.2L111.9 153.8L112.4 154L113 154.9L113.5 155.4L114 153L114.6 154.7L115.1 155.2L115.7 154.8L116.2 154.3L116.8 155.3L117.3 165.2L117.8 176.2L118.4 181.8L118.9 182.4L119.5 184.1L120 185.6L120.5 184.8L121.1 187L121.6 188.1L122.2 190.3L122.7 190.8L123.3 192.2L123.8 193.2L124.3 191.6L124.9 194.2L125.4 196.8L126 197.1L126.5 197.8L127.1 198.5L127.6 199.9L128.1 201.9L128.7 203.9L129.2 204L129.8 204.6L130.3 206.8L130.8 206.8L131.4 206.9L131.9 208.2L132.5 209.5L133 210L133.6 211L134.1 211.3L134.6 211.4L135.2 212.3L135.7 214.9L136.3 215L136.8 217.2L137.4 216.7L137.9 217.4L138.4 217.5L139 218.8L139.5 219L140.1 219.5L140.6 218.4L141.1 220.2L141.7 221.7L142.2 222L142.8 221L143.3 222.5L143.9 225.5L144.4 226.3L144.9 225.2L145.5 225.6L146 226.4L146.6 226.3L147.1 226.8L147.6 227.4L148.2 228.7L148.7 229.4L149.3 229L149.8 228.8L150.4 230.5L150.9 230.6L151.4 232.3L152 232.6L152.5 233.3L153.1 232.3L153.6 231.8L154.2 233L154.7 233.6L155.2 233.6L155.8 232.7L156.3 234.7L156.9 236.4L157.4 236.8L157.9 238.9L158.5 238.1L159 237L159.6 236.9L160.1 238.1L160.7 239.4L161.2 239.6L161.7 241.4L162.3 239.3L162.8 239.7L163.4 240.6L163.9 239.2L164.5 240.3L165 242.5L165.5 241.4L166.1 242.2L166.6 243.8L167.2 241.8L167.7 242.7L168.2 243.6L168.8 242.1L169.3 243.7L169.9 243.5L170.4 244.9L171 246.7L171.5 247L172 244.8L172.6 246.2L173.1 243.3L173.7 247.8L174.2 246.1L174.8 247.8L175.3 246.7L175.8 247.3L176.4 248.5L176.9 247.3L177.5 246.8L178 246.8L178.5 246.9L179.1 247.9L179.6 249L180.2 248.4L180.7 249.8L181.3 250.2L181.8 251.9L182.3 250.1L182.9 249.7L183.4 250.6L184 251.9L184.5 250.3L185 250.5L185.6 249.7L186.1 251L186.7 250.7L187.2 252L187.8 252.4L188.3 252.6L188.8 252.9L189.4 253.5L189.9 252.7L190.5 252L191 253.4L191.6 252.5L192.1 253.2L192.6 254L193.2 253.4L193.7 254.8L194.3 256.8L194.8 254.7L195.3 255.6L195.9 256L196.4 254.9L197 256.3L197.5 254.7L198.1 257.3L198.6 256.3L199.1 255.6L199.7 255.2L200.2 255.9L200.8 257L201.3 257.7L201.9 257.9L202.4 256.8L202.9 257.4L203.5 257.2L204 256.5L204.6 259.2L205.1 259.3L205.6 258.5L206.2 258.8L206.7 258.7L207.3 258.9L207.8 260.9L208.4 259.4L208.9 260L209.4 260.9L210 259.6L210.5 260.7L211.1 259.3L211.6 259.2L212.2 259.5L212.7 260.3L213.2 260.1L213.8 260.6L214.3 259.9L214.9 260.5L215.4 260.3L215.9 260.3L216.5 260.9L217 262.4L217.6 261L218.1 260.8L218.7 262.1L219.2 264.2L219.7 264.1L220.3 263.4L220.8 262L221.4 263.7L221.9 262.4L222.4 263.1L223 263L223.5 264.6L224.1 263.9L224.6 263.7L225.2 264.4L225.7 263.9L226.2 264.9L226.8 265L227.3 264.7L227.9 264.5L228.4 263.6L229 263.4L229.5 265.6L230 267.6L230.6 265.4L231.1 265.9L231.7 266.4L232.2 265.2L232.7 265L233.3 266.3L233.8 264.8L234.4 266L234.9 266.7L235.5 265.5L236 268.2L236.5 263.7L237.1 264.7L237.6 265.6L238.2 265L238.7 265.5L239.3 266L239.8 266.1L240.3 267.8L240.9 266.5L241.4 266.8L242 268.1L242.5 267.7L243 266.5L243.6 266.7L244.1 267.7L244.7 265.7L245.2 267L245.8 268.1L246.3 267.9L246.8 266.6L247.4 266.2L247.9 267.7L248.5 268.4L249 268.7L249.5 269.1L250.1 269.9L250.6 268.5L251.2 266.5L251.7 267.5L252.3 268.8L252.8 268.5L253.3 268.8L253.9 269.5L254.4 267.9L255 268.6L255.5 271.2L256.1 269.5L256.6 269.4L257.1 270.2L257.7 268.6L258.2 269.1L258.8 270.4L259.3 269.9L259.8 269.4L260.4 270.2L260.9 270.4L261.5 270.6L262 268.3L262.6 270.9L263.1 271.2L263.6 271.3L264.2 271.1L264.7 272.8L265.3 271.2L265.8 271.2L266.4 271.5L266.9 271.1L267.4 273.3L268 272.3L268.5 271L269.1 271.7L269.6 272.2L270.1 271.8L270.7 270.8L271.2 270L271.8 271.1L272.3 272.4L272.9 273.2L273.4 271.4L273.9 271.9L274.5 272.9L275 271.9L275.6 271.7L276.1 271.1L276.7 270.3L277.2 273.1L277.7 272.5L278.3 273L278.8 271.9L279.4 271.2L279.9 269.9L280.4 272.3L281 272.9L281.5 273.1L282.1 274.1L282.6 274.4L283.2 274.3L283.7 274.8L284.2 274.7L284.8 272.5L285.3 273.1L285.9 273.7L286.4 274.1L286.9 274.2L287.5 273.1L288 273.8L288.6 274.2L289.1 274.8L289.7 272.4L290.2 272.8L290.7 274.8L291.3 273.4L291.8 274.4L292.4 274.4L292.9 274.6L293.5 274.2L294 273.6L294.5 273.3L295.1 275.9L295.6 274.8L296.2 273.4L296.7 273.6L297.2 273.7L297.8 275.4L298.3 276.1L298.9 274.2L299.4 274L300 274.3L300.5 275.1L301 274.1L301.6 275.1L302.1 275.4L302.7 274.8L303.2 275L303.8 273.9L304.3 274.9L304.8 273.4L305.4 273.2L305.9 274.3L306.5 274.6L307 275.7L307.5 275.1L308.1 274.7L308.6 273.6L309.2 274L309.7 275.1L310.3 275.3L310.8 276.6L311.3 275.3L311.9 275.5L312.4 275.2L313 276.2L313.5 275.3L314.1 274.6L314.6 275.5L315.1 273.9L315.7 276.1L316.2 276.3L316.8 276.1L317.3 275.7L317.8 276.2L318.4 276.4L318.9 276.2L319.5 275.2L320 275.3L320.6 274.2L321.1 273.1L321.6 277.1L322.2 277.3L322.7 274.9L323.3 276.3L323.8 276.9L324.3 266.8L324.9 251.7L325.4 247.1L326 241.6L326.5 238L327.1 237.2L327.6 233.9L328.1 232.5L328.7 232L329.2 230.8L329.8 228.7L330.3 226.3L330.9 225.5L331.4 224" stroke="#000" stroke-width="0.78"/>
<path d="M81.5 154.8L82.1 154.2L82.6 155L83.1 156L83.7 154.8L84.2 155.7L84.8 155.5L85.3 155L85.9 155.8L86.4 154.2L86.9 156.2L87.5 154.1L88 154.8L88.6 153.3L89.1 153.5L89.7 153.9L90.2 154.4L90.7 154.7L91.3 156.2L91.8 155.8L92.4 156L92.9 155.9L93.4 155.3L94 155.8L94.5 155L95.1 155.2L95.6 155.5L96.2 154.7L96.7 154.4L97.2 156.1L97.8 155.5L98.3 152.3L98.9 154.3L99.4 154.3L100 155.6L100.5 154.2L101 153.3L101.6 154L102.1 154.8L102.7 154.9L103.2 156.7L103.7 154.8L104.3 155.2L104.8 154.6L105.4 154.5L105.9 154.6L106.5 152.9L107 153.6L107.5 155.2L108.1 154.4L108.6 154.2L109.2 154.7L109.7 153.6L110.2 154.9L110.8 156.6L111.3 156.4L111.9 154.9L112.4 155.9L113 155L113.5 156.4L114 154.9L114.6 155.2L115.1 155.9L115.7 155.7L116.2 155.4L116.8 154.2L117.3 166.4L117.8 175.7L118.4 178.8L118.9 180L119.5 181.7L120 182L120.5 185.4L121.1 185.8L121.6 187.5L122.2 189.5L122.7 189.8L123.3 190.5L123.8 191.5L124.3 193L124.9 195.5L125.4 196L126 196.7L126.5 196.4L127.1 198.6L127.6 199.9L128.1 199.6L128.7 201.6L129.2 203.3L129.8 203.8L130.3 204.1L130.8 205.4L131.4 208.1L131.9 208.2L132.5 207.5L133 209.6L133.6 209.2L134.1 210.3L134.6 212.1L135.2 211.6L135.7 214.8L136.3 216.1L136.8 216.4L137.4 215.1L137.9 216L138.4 215.9L139 217L139.5 217.6L140.1 218.8L140.6 219.5L141.1 218.8L141.7 219.3L142.2 221.8L142.8 221.1L143.3 220L143.9 221.3L144.4 223.7L144.9 223.1L145.5 223.8L146 224.9L146.6 224.3L147.1 224.3L147.6 226.3L148.2 226.6L148.7 227.5L149.3 227.7L149.8 226.6L150.4 228.6L150.9 228.5L151.4 229.1L152 229.8L152.5 231.4L153.1 230.5L153.6 232.2L154.2 231.2L154.7 232L155.2 232.3L155.8 233.2L156.3 234.1L156.9 234.8L157.4 234.3L157.9 234.5L158.5 234.5L159 235.3L159.6 234.8L160.1 235.5L160.7 236L161.2 236.7L161.7 236.9L162.3 236.6L162.8 238.1L163.4 239.1L163.9 238.2L164.5 238.1L165 238.7L165.5 238.9L166.1 240.6L166.6 241L167.2 240.4L167.7 240.5L168.2 241.9L168.8 240.8L169.3 243L169.9 240.8L170.4 242.6L171 242.8L171.5 243.5L172 244.2L172.6 243.6L173.1 245.1L173.7 244.3L174.2 243.8L174.8 244.3L175.3 244.3L175.8 245.9L176.4 246.8L176.9 246.7L177.5 244.7L178 245L178.5 247.3L179.1 244.8L179.6 245.3L180.2 245.2L180.7 245.4L181.3 245.4L181.8 248.3L182.3 247.6L182.9 248.3L183.4 246.2L184 247L184.5 248L185 248.6L185.6 250.7L186.1 249.3L186.7 249.9L187.2 248.2L187.8 248.5L188.3 249.5L188.8 250.2L189.4 249.1L189.9 250.5L190.5 249.5L191 250.2L191.6 251L192.1 250.7L192.6 249.5L193.2 252.5L193.7 251.2L194.3 251L194.8 252L195.3 250.8L195.9 251.4L196.4 251.7L197 253.4L197.5 252.5L198.1 254.1L198.6 253L199.1 251.3L199.7 253.9L200.2 252.3L200.8 254.5L201.3 254.1L201.9 253.5L202.4 255.5L202.9 254.5L203.5 255.4L204 255.6L204.6 254.4L205.1 255.1L205.6 254.9L206.2 255.3L206.7 255.2L207.3 254.2L207.8 255.4L208.4 256.2L208.9 256.2L209.4 255.7L210 255.9L210.5 258.5L211.1 257.3L211.6 256.6L212.2 254.5L212.7 257.1L213.2 257.6L213.8 258.6L214.3 258L214.9 259.5L215.4 259.1L215.9 258.4L216.5 259.6L217 258.9L217.6 259.2L218.1 257.5L218.7 256.9L219.2 256.4L219.7 258.2L220.3 258.2L220.8 256.7L221.4 259.3L221.9 257.8L222.4 260L223 258.8L223.5 261L224.1 260.6L224.6 260.4L225.2 260.4L225.7 262.1L226.2 260.7L226.8 260.8L227.3 259.3L227.9 259.8L228.4 262.6L229 261.2L229.5 260.1L230 261L230.6 261.9L231.1 262.8L231.7 262.2L232.2 262.6L232.7 262.2L233.3 262.2L233.8 260.8L234.4 262.6L234.9 261.9L235.5 263.2L236 262.3L236.5 261.4L237.1 262.8L237.6 263.8L238.2 262.9L238.7 262.8L239.3 263.5L239.8 262.7L240.3 262.9L240.9 262.5L241.4 264.4L242 262.9L242.5 262.1L243 264L243.6 261.9L244.1 263.1L244.7 264.9L245.2 265.2L245.8 265L246.3 264.9L246.8 264.6L247.4 264.1L247.9 264.5L248.5 264.8L249 265.5L249.5 266.8L250.1 265.9L250.6 266.2L251.2 264.4L251.7 267.1L252.3 264.5L252.8 267.6L253.3 266L253.9 265.4L254.4 266.4L255 266.6L255.5 265L256.1 266.4L256.6 265.9L257.1 265.7L257.7 265.2L258.2 266.9L258.8 265L259.3 265.9L259.8 265.1L260.4 267.2L260.9 265.5L261.5 266.2L262 265.6L262.6 266.9L263.1 265.8L263.6 266.4L264.2 268.4L264.7 264.8L265.3 266.9L265.8 266.5L266.4 267L266.9 267.5L267.4 267.5L268 266.4L268.5 266.1L269.1 266.1L269.6 268.6L270.1 266.9L270.7 268.8L271.2 265.7L271.8 266.8L272.3 266.4L272.9 267.4L273.4 267.6L273.9 268.5L274.5 266.2L275 267.8L275.6 267L276.1 268.6L276.7 268.4L277.2 268.6L277.7 268.5L278.3 268.9L278.8 267.9L279.4 267.7L279.9 269.8L280.4 269.3L281 270L281.5 268L282.1 269.7L282.6 268.6L283.2 268.6L283.7 268.9L284.2 270.8L284.8 267.8L285.3 268.9L285.9 268.4L286.4 268L286.9 269.9L287.5 270.4L288 267.9L288.6 267.2L289.1 269.6L289.7 269.6L290.2 268.6L290.7 269.5L291.3 268.3L291.8 268.8L292.4 269.5L292.9 269.1L293.5 270.1L294 268.7L294.5 270.2L295.1 268.8L295.6 267.3L296.2 271L296.7 268.7L297.2 271.2L297.8 270.5L298.3 268.6L298.9 268.8L299.4 269.3L300 269.7L300.5 270.1L301 269.9L301.6 270.5L302.1 270.8L302.7 271.8L303.2 269.3L303.8 270.3L304.3 268.8L304.8 269.5L305.4 270L305.9 271.7L306.5 271.3L307 271L307.5 271.1L308.1 271.3L308.6 273.3L309.2 272L309.7 271.6L310.3 271.7L310.8 271.6L311.3 272.8L311.9 272.4L312.4 270.2L313 271.9L313.5 272L314.1 272.3L314.6 271.8L315.1 272L315.7 269.7L316.2 272.1L316.8 270.4L317.3 271.8L317.8 271.3L318.4 269.2L318.9 271.1L319.5 271.6L320 274.5L320.6 272.8L321.1 272.3L321.6 271.9L322.2 271.7L322.7 272.9L323.3 273.1L323.8 271.6L324.3 261.9L324.9 247.8L325.4 241.3L326 238L326.5 235.1L327.1 233.8L327.6 230.9L328.1 230.4L328.7 225.7L329.2 225.8L329.8 222.5L330.3 222.9L330.9 221.8" stroke="#000" stroke-width="0.78"/>
<path d="M81.5 156.5L82.1 156.6L82.6 154L83.1 154.3L83.7 154.7L84.2 153.5L84.8 153.9L85.3 156L85.9 155.2L86.4 154.5L86.9 152.8L87.5 154.9L88 153.9L88.6 155.3L89.1 154.2L89.7 154.5L90.2 154.6L90.7 155.1L91.3 155.1L91.8 154.8L92.4 154.3L92.9 155.4L93.4 154.3L94 154.4L94.5 154.6L95.1 153.9L95.6 155.8L96.2 156.1L96.7 154.3L97.2 154.2L97.8 153.8L98.3 154.4L98.9 154.6L99.4 155.6L100 154.8L100.5 155.6L101 156.5L101.6 154.3L102.1 153.6L102.7 154.6L103.2 156.4L103.7 155.7L104.3 153.8L104.8 155.2L105.4 154.9L105.9 154.4L106.5 155.6L107 155.1L107.5 155.4L108.1 155.2L108.6 155.4L109.2 156L109.7 154.8L110.2 154.8L110.8 153.3L111.3 155.3L111.9 154.4L112.4 155.5L113 154.5L113.5 154.9L114 155.3L114.6 157.3L115.1 155.6L115.7 155.1L116.2 154.7L116.8 154.7L117.3 166.2L117.8 176.6L118.4 179.6L118.9 180.8L119.5 182.6L120 184.1L120.5 184.2L121.1 185.1L121.6 188.3L122.2 190.2L122.7 190L123.3 191.6L123.8 192.5L124.3 192.9L124.9 194.5L125.4 195.5L126 195.5L126.5 198.3L127.1 198.3L127.6 200.5L128.1 199.1L128.7 202L129.2 201.6L129.8 204.5L130.3 204.2L130.8 204L131.4 204L131.9 205.5L132.5 209.8L133 208.2L133.6 209.1L134.1 208.7L134.6 208.4L135.2 212.4L135.7 212L136.3 214.4L136.8 212.9L137.4 214L137.9 214.7L138.4 215.3L139 216.8L139.5 218.6L140.1 218L140.6 217.7L141.1 218.4L141.7 218.8L142.2 219.6L142.8 219.7L143.3 221.8L143.9 220.3L144.4 221.3L144.9 223.6L145.5 223.7L146 222.9L146.6 221.7L147.1 222.8L147.6 224.9L148.2 225.2L148.7 224.6L149.3 224.6L149.8 225.3L150.4 226.1L150.9 225.9L151.4 226.6L152 226.4L152.5 226.4L153.1 229.6L153.6 230.4L154.2 230.2L154.7 230.1L155.2 230.5L155.8 228.7L156.3 231.5L156.9 232L157.4 231.9L157.9 232.2L158.5 232L159 231.5L159.6 231.4L160.1 234.7L160.7 234.5L161.2 234.5L161.7 233.2L162.3 233.9L162.8 236.5L163.4 234.4L163.9 235.1L164.5 235L165 235.6L165.5 236.2L166.1 235.9L166.6 238.5L167.2 237.5L167.7 237.4L168.2 238.4L168.8 238.5L169.3 240L169.9 240.3L170.4 239.3L171 240L171.5 240.2L172 240.3L172.6 240L173.1 240.8L173.7 239.5L174.2 241.4L174.8 240.3L175.3 241.5L175.8 240.2L176.4 241.6L176.9 241.8L177.5 240.6L178 242L178.5 242L179.1 241.3L179.6 242.2L180.2 242.9L180.7 242.8L181.3 243.3L181.8 244.2L182.3 244L182.9 244.9L183.4 246L184 243.3L184.5 243.6L185 246.3L185.6 244.2L186.1 245.3L186.7 244.3L187.2 246L187.8 246.7L188.3 246.7L188.8 247.4L189.4 245.9L189.9 246.5L190.5 245.5L191 245.7L191.6 248L192.1 247.6L192.6 247.4L193.2 248.4L193.7 247.3L194.3 247.3L194.8 249.1L195.3 249.9L195.9 249.1L196.4 250.3L197 249.8L197.5 250.4L198.1 250L198.6 249.6L199.1 249.1L199.7 251.5L200.2 249.6L200.8 249.2L201.3 250.3L201.9 251.4L202.4 251.3L202.9 251.4L203.5 250.8L204 250.9L204.6 251.5L205.1 251.3L205.6 250.6L206.2 251.2L206.7 251L207.3 250.7L207.8 251.1L208.4 251.3L208.9 250.8L209.4 253.1L210 253.5L210.5 254.2L211.1 253L211.6 253.3L212.2 252.1L212.7 253.2L213.2 253.9L213.8 253.7L214.3 254.9L214.9 252.7L215.4 253.8L215.9 255.5L216.5 255L217 254.6L217.6 253.5L218.1 255.7L218.7 254.2L219.2 254.7L219.7 255.4L220.3 252.5L220.8 255.2L221.4 258.3L221.9 256L222.4 256.2L223 256.4L223.5 255.7L224.1 255.6L224.6 257.1L225.2 257.1L225.7 257.6L226.2 257.6L226.8 258.1L227.3 256.2L227.9 257.5L228.4 257.7L229 258.3L229.5 257.6L230 257.5L230.6 257.3L231.1 257.8L231.7 258.7L232.2 259.9L232.7 257L233.3 258L233.8 257.6L234.4 258.6L234.9 258.1L235.5 257L236 256L236.5 256.9L237.1 256.5L237.6 257.3L238.2 257.1L238.7 257.7L239.3 258.4L239.8 258.5L240.3 258.8L240.9 256.8L241.4 258.7L242 260.2L242.5 258.9L243 259.7L243.6 259.2L244.1 260L244.7 258.8L245.2 259L245.8 259.8L246.3 260.8L246.8 260.3L247.4 261.6L247.9 260.9L248.5 260.9L249 260.8L249.5 259.1L250.1 260.3L250.6 260.5L251.2 259.2L251.7 260L252.3 260.6L252.8 261.3L253.3 261.7L253.9 261.2L254.4 260.4L255 260.7L255.5 259.9L256.1 261.9L256.6 260.7L257.1 261.3L257.7 260L258.2 262.7L258.8 261.5L259.3 261.3L259.8 262.2L260.4 260.6L260.9 261.6L261.5 262.1L262 261.3L262.6 262L263.1 263L263.6 262.6L264.2 262.9L264.7 261.9L265.3 262.7L265.8 261.7L266.4 263L266.9 263.6L267.4 262L268 263.6L268.5 263L269.1 264.9L269.6 264.2L270.1 263.2L270.7 263.4L271.2 262.9L271.8 263L272.3 261.4L272.9 262.1L273.4 262.9L273.9 262.9L274.5 262.7L275 262.2L275.6 263L276.1 263.5L276.7 263.4L277.2 263.4L277.7 262.8L278.3 263.2L278.8 266.1L279.4 264.2L279.9 265L280.4 265.7L281 266.1L281.5 265.6L282.1 264.8L282.6 264.9L283.2 265.1L283.7 263.6L284.2 262.4L284.8 262.5L285.3 264.5L285.9 264.3L286.4 266.1L286.9 264.8L287.5 264.8L288 263.4L288.6 263.7L289.1 264.1L289.7 264.1L290.2 263.6L290.7 264.8L291.3 265.5L291.8 265.5L292.4 266.3L292.9 265.3L293.5 268.2L294 267.5L294.5 263L295.1 265.7L295.6 265L296.2 265L296.7 264.9L297.2 265.5L297.8 265.8L298.3 265.1L298.9 265.3L299.4 266.1L300 265.8L300.5 265.8L301 264.1L301.6 265.8L302.1 265.6L302.7 267L303.2 268.9L303.8 267.3L304.3 267L304.8 267.6L305.4 266.7L305.9 265.3L306.5 267.3L307 266.3L307.5 264.5L308.1 265.3L308.6 265.7L309.2 266.7L309.7 266.4L310.3 267L310.8 266.8L311.3 265.5L311.9 266.5L312.4 265.5L313 268.3L313.5 268.5L314.1 266.5L314.6 267.5L315.1 266.8L315.7 265.7L316.2 265.4L316.8 265.1L317.3 267L317.8 267.3L318.4 265.9L318.9 267.2L319.5 266.2L320 266.7L320.6 267L321.1 268.1L321.6 267.1L322.2 266.1L322.7 265.6L323.3 266.7L323.8 266L324.3 256.7L324.9 242L325.4 238.5L326 233.5L326.5 232.5L327.1 228.3L327.6 226.9L328.1 224.8L328.7 223.7L329.2 221.5L329.8 220.7L330.3 216.8L330.9 218.7" stroke="#000" stroke-width="0.78"/>
<path d="M81.5 154.8L82.1 155.3L82.6 155.4L83.1 155L83.7 154.5L84.2 152.8L84.8 154.1L85.3 153.9L85.9 154.9L86.4 153.4L86.9 154.5L87.5 155L88 155.3L88.6 155L89.1 155.4L89.7 154.9L90.2 153.3L90.7 154.5L91.3 155.6L91.8 156.8L92.4 155.5L92.9 156.1L93.4 156L94 155.1L94.5 154.7L95.1 154.5L95.6 153.8L96.2 155.6L96.7 155.7L97.2 156L97.8 156.2L98.3 155.9L98.9 156L99.4 154.6L100 155.9L100.5 153.2L101 156.4L101.6 154.6L102.1 156.3L102.7 155.8L103.2 156.3L103.7 155.3L104.3 154.6L104.8 155.3L105.4 155.7L105.9 156.1L106.5 156L107 156L107.5 155.9L108.1 155.2L108.6 154.2L109.2 155.5L109.7 157L110.2 155.8L110.8 154.5L111.3 155.8L111.9 154.9L112.4 156L113 156.4L113.5 155.2L114 156.8L114.6 155.8L115.1 157.7L115.7 156.7L116.2 155.1L116.8 155.5L117.3 167.5L117.8 175.1L118.4 179.5L118.9 181.8L119.5 182.7L120 183.7L120.5 184.6L121.1 186.1L121.6 186.1L122.2 187.6L122.7 189.5L123.3 188.6L123.8 192.7L124.3 192.9L124.9 194.6L125.4 193.2L126 195.2L126.5 196L127.1 197.3L127.6 197.3L128.1 199.9L128.7 199.8L129.2 202.9L129.8 202.2L130.3 202.1L130.8 202.9L131.4 204L131.9 207.1L132.5 206.6L133 207.4L133.6 206.5L134.1 207.7L134.6 208.4L135.2 208.5L135.7 209.7L136.3 212.2L136.8 212.8L137.4 214.6L137.9 212.5L138.4 213.7L139 215.4L139.5 214.7L140.1 215.7L140.6 216.3L141.1 215.4L141.7 218.6L142.2 219.3L142.8 218.6L143.3 218.9L143.9 218.1L144.4 219.6L144.9 219.6L145.5 218.8L146 221.8L146.6 222.9L147.1 222.9L147.6 222.8L148.2 223.9L148.7 223.2L149.3 224.3L149.8 223.1L150.4 223.7L150.9 224L151.4 224.8L152 225.3L152.5 227.4L153.1 226.9L153.6 228.5L154.2 226.3L154.7 228.3L155.2 228.8L155.8 228.8L156.3 226.6L156.9 229.4L157.4 227.7L157.9 229L158.5 227.3L159 229.7L159.6 230.8L160.1 230.9L160.7 231.6L161.2 232.1L161.7 231.2L162.3 232.2L162.8 231.5L163.4 231.8L163.9 231.8L164.5 231.4L165 232L165.5 234.1L166.1 232.8L166.6 236.2L167.2 233.8L167.7 233.4L168.2 235.6L168.8 234.2L169.3 236.9L169.9 235.2L170.4 236.2L171 236.5L171.5 236.7L172 237.3L172.6 236.4L173.1 237.1L173.7 237.4L174.2 237.6L174.8 238.2L175.3 239.1L175.8 238L176.4 237.7L176.9 239.6L177.5 238.3L178 237.8L178.5 238.9L179.1 238.1L179.6 241.4L180.2 239.1L180.7 240.6L181.3 240.2L181.8 241.4L182.3 238.7L182.9 240.8L183.4 240.5L184 242.5L184.5 242.1L185 241.5L185.6 242L186.1 242.8L186.7 241.1L187.2 243.6L187.8 242.8L188.3 243L188.8 243.4L189.4 242.7L189.9 243L190.5 243.6L191 243.1L191.6 243.8L192.1 243.5L192.6 242.9L193.2 243.8L193.7 244.3L194.3 245.2L194.8 243.7L195.3 243.8L195.9 244.4L196.4 244.8L197 246.1L197.5 245.7L198.1 245.5L198.6 246.9L199.1 247.2L199.7 246.6L200.2 244.7L200.8 245.8L201.3 247.8L201.9 245.9L202.4 245.9L202.9 246.2L203.5 247.5L204 247.5L204.6 245.5L205.1 246.1L205.6 243.2L206.2 248.4L206.7 249.6L207.3 249L207.8 249.4L208.4 249.3L208.9 248.1L209.4 247.4L210 249.8L210.5 248.7L211.1 248.2L211.6 248.8L212.2 248L212.7 248L213.2 250L213.8 249.7L214.3 249.6L214.9 251L215.4 250.5L215.9 249.4L216.5 249.7L217 250.2L217.6 248.1L218.1 249.5L218.7 249.6L219.2 251.4L219.7 250L220.3 251.2L220.8 251.4L221.4 251.7L221.9 252.7L222.4 251.3L223 252.7L223.5 251.2L224.1 252.5L224.6 250.9L225.2 251.5L225.7 250.9L226.2 253L226.8 252L227.3 251.7L227.9 252.1L228.4 252.6L229 253.3L229.5 256L230 253.3L230.6 254.3L231.1 254.4L231.7 253.2L232.2 255.8L232.7 254.7L233.3 253.2L233.8 253.5L234.4 253.9L234.9 254.6L235.5 253.9L236 255.4L236.5 254.9L237.1 253.6L237.6 255L238.2 254.6L238.7 254.8L239.3 255.8L239.8 256.7L240.3 256L240.9 255.8L241.4 256.1L242 255.3L242.5 254.8L243 254.4L243.6 254.7L244.1 256.2L244.7 254.3L245.2 254.8L245.8 254.6L246.3 256.5L246.8 254.9L247.4 253.4L247.9 254.7L248.5 254.6L249 256.1L249.5 255.9L250.1 256.1L250.6 255.5L251.2 255.9L251.7 256L252.3 257.1L252.8 257.7L253.3 256.9L253.9 254.3L254.4 257L255 256.3L255.5 255.5L256.1 257.1L256.6 258.5L257.1 257.1L257.7 257.1L258.2 257.9L258.8 256L259.3 256.3L259.8 257.1L260.4 258.6L260.9 256.6L261.5 256.2L262 256.5L262.6 255.9L263.1 258.2L263.6 258.8L264.2 257.3L264.7 257.3L265.3 257.9L265.8 258.4L266.4 257.2L266.9 257.7L267.4 257.3L268 259.1L268.5 258.5L269.1 258L269.6 257.4L270.1 259.8L270.7 259L271.2 259.3L271.8 258.8L272.3 258.9L272.9 258.4L273.4 258L273.9 258.4L274.5 258.9L275 258.1L275.6 257.5L276.1 258.6L276.7 259.8L277.2 257.7L277.7 258L278.3 256.9L278.8 259.1L279.4 259.7L279.9 259.7L280.4 259.6L281 260.9L281.5 259.1L282.1 260.9L282.6 262.6L283.2 260.5L283.7 261L284.2 259.9L284.8 261L285.3 261.5L285.9 262.3L286.4 261.8L286.9 260.8L287.5 258.3L288 259.1L288.6 260.5L289.1 259L289.7 259.8L290.2 261.9L290.7 262.4L291.3 262.3L291.8 261.5L292.4 260.7L292.9 261.2L293.5 261.2L294 261.7L294.5 260.8L295.1 260L295.6 261.6L296.2 259.8L296.7 261.4L297.2 261.3L297.8 259.4L298.3 260L298.9 260.7L299.4 262.8L300 261.4L300.5 261.5L301 261.4L301.6 260.2L302.1 261.5L302.7 259.6L303.2 260.8L303.8 261.1L304.3 261.6L304.8 261.4L305.4 260.1L305.9 260.9L306.5 262.3L307 262.5L307.5 260.7L308.1 260.9L308.6 262.3L309.2 261.9L309.7 261.7L310.3 261.2L310.8 262.5L311.3 261.9L311.9 263.1L312.4 262.9L313 262.4L313.5 260.8L314.1 261.8L314.6 260.4L315.1 261.3L315.7 260.6L316.2 261.9L316.8 263.8L317.3 264.6L317.8 263.2L318.4 260.8L318.9 262L319.5 262.7L320 261.8L320.6 262.6L321.1 262.8L321.6 262.3L322.2 262L322.7 262.9L323.3 263.4L323.8 261.2L324.3 253.1L324.9 240.1L325.4 233.8L326 230.1L326.5 226.9L327.1 223.2L327.6 221L328.1 220.4L328.7 218.9L329.2 216.6L329.8 216.1L330.3 214.8L330.9 214.9" stroke="#000" stroke-width="0.78"/>
<path d="M81.5 154.1L82.1 154.2L82.6 154.9L83.1 155.2L83.7 154.3L84.2 155.3L84.8 155.2L85.3 155.4L85.9 154.7L86.4 154.7L86.9 154.4L87.5 157L88 154.5L88.6 155.5L89.1 153.7L89.7 153.8L90.2 156.4L90.7 155.4L91.3 155.9L91.8 156.1L92.4 155L92.9 154.5L93.4 154L94 154.3L94.5 155.4L95.1 152.8L95.6 152.9L96.2 154L96.7 154.4L97.2 154.6L97.8 154.3L98.3 155.1L98.9 156.1L99.4 156L100 156L100.5 154.7L101 154L101.6 153.6L102.1 155.5L102.7 154.2L103.2 154.6L103.7 155.3L104.3 155.8L104.8 154.8L105.4 153.7L105.9 155.2L106.5 154.7L107 153.9L107.5 153.6L108.1 154.5L108.6 154.4L109.2 154.6L109.7 156.1L110.2 155.3L110.8 154.8L111.3 153.7L111.9 155.2L112.4 153.7L113 152.9L113.5 153.9L114 155.3L114.6 154.9L115.1 155.3L115.7 153.8L116.2 153L116.8 153.3L117.3 166L117.8 174.2L118.4 177.4L118.9 179.7L119.5 181.1L120 183.2L120.5 184L121.1 184.5L121.6 187L122.2 188.5L122.7 189.1L123.3 189.1L123.8 191.1L124.3 192.2L124.9 194.1L125.4 196.5L126 195.4L126.5 198.2L127.1 197.6L127.6 197.6L128.1 200.1L128.7 201L129.2 202L129.8 202.9L130.3 202.7L130.8 202.7L131.4 203.6L131.9 204.6L132.5 205.8L133 206.5L133.6 205.3L134.1 208.9L134.6 207.2L135.2 206.7L135.7 209.1L136.3 210.2L136.8 211.5L137.4 211L137.9 212.1L138.4 212.3L139 213.1L139.5 213.6L140.1 215.3L140.6 214.7L141.1 215.1L141.7 213.7L142.2 215L142.8 217.2L143.3 217.2L143.9 218.6L144.4 218.5L144.9 220.4L145.5 220.5L146 218.7L146.6 220.2L147.1 220.1L147.6 221.2L148.2 221.2L148.7 221.8L149.3 222.9L149.8 224.4L150.4 223.4L150.9 225.1L151.4 225.3L152 224.7L152.5 226L153.1 225.2L153.6 226.7L154.2 224.7L154.7 226.2L155.2 226.9L155.8 227.7L156.3 229.3L156.9 228.2L157.4 227.9L157.9 227.3L158.5 228.7L159 228.5L159.6 229L160.1 230.4L160.7 228.9L161.2 229.4L161.7 230.5L162.3 230.9L162.8 231L163.4 231.8L163.9 230.1L164.5 230L165 230.8L165.5 231.6L166.1 232.9L166.6 233.3L167.2 233.6L167.7 233.7L168.2 236.1L168.8 234.1L169.3 233L169.9 234.3L170.4 233.5L171 235.4L171.5 233.6L172 237.6L172.6 235L173.1 234.8L173.7 235L174.2 233.7L174.8 234.7L175.3 236L175.8 238.2L176.4 236.7L176.9 236.9L177.5 238.1L178 235.6L178.5 238.2L179.1 235.6L179.6 235.8L180.2 237.7L180.7 236.7L181.3 237.8L181.8 239.1L182.3 239.4L182.9 237L183.4 237.8L184 241.3L184.5 238.7L185 238.6L185.6 239.6L186.1 242.2L186.7 240.7L187.2 241.1L187.8 240.1L188.3 240.1L188.8 240.6L189.4 239.6L189.9 240.9L190.5 240.7L191 240L191.6 240.4L192.1 241.2L192.6 242.2L193.2 244.7L193.7 243.1L194.3 243.3L194.8 241.8L195.3 242.4L195.9 242.9L196.4 241.8L197 243.9L197.5 243.5L198.1 244.3L198.6 246L199.1 244.1L199.7 243.5L200.2 243.7L200.8 245.5L201.3 246.4L201.9 244.5L202.4 244L202.9 246.1L203.5 244.7L204 246.2L204.6 245.9L205.1 244.8L205.6 245L206.2 246.6L206.7 246.6L207.3 245.6L207.8 245.6L208.4 246.2L208.9 245.2L209.4 246.3L210 245.8L210.5 245.1L211.1 245.6L211.6 245.1L212.2 246.8L212.7 246.5L213.2 247.1L213.8 247.8L214.3 248L214.9 246.8L215.4 248.4L215.9 249.4L216.5 249.5L217 247.8L217.6 248.1L218.1 248.4L218.7 248.1L219.2 248.9L219.7 248.8L220.3 248.9L220.8 249.5L221.4 246.9L221.9 248.3L222.4 248.2L223 248.3L223.5 249.2L224.1 249.3L224.6 249.1L225.2 250.8L225.7 248.9L226.2 248.5L226.8 248.6L227.3 248.7L227.9 249L228.4 249.3L229 251L229.5 250L230 251.5L230.6 252.4L231.1 251.4L231.7 250L232.2 250.1L232.7 249.1L233.3 250.8L233.8 250.4L234.4 250.5L234.9 250L235.5 250.4L236 251.9L236.5 251.1L237.1 252.3L237.6 252.4L238.2 252.2L238.7 253.1L239.3 251.3L239.8 250.8L240.3 251.1L240.9 251.8L241.4 251.2L242 252.3L242.5 251.7L243 252.4L243.6 252.5L244.1 252.4L244.7 251.8L245.2 251.7L245.8 250.8L246.3 253.1L246.8 254.7L247.4 253L247.9 252.6L248.5 253.4L249 252.2L249.5 252.1L250.1 254.5L250.6 253.6L251.2 253.6L251.7 252.7L252.3 253.2L252.8 253.6L253.3 253.7L253.9 254L254.4 253.5L255 253.4L255.5 254.3L256.1 254.4L256.6 253.6L257.1 253.8L257.7 254.5L258.2 255L258.8 254.3L259.3 254.3L259.8 251.4L260.4 254.1L260.9 256L261.5 256.6L262 253.1L262.6 253.1L263.1 254.7L263.6 254.8L264.2 254.6L264.7 256L265.3 255.6L265.8 253.1L266.4 257.3L266.9 255.5L267.4 256L268 254.2L268.5 255.3L269.1 254.8L269.6 255.2L270.1 253.9L270.7 255.6L271.2 255.8L271.8 257.2L272.3 253.9L272.9 255.1L273.4 256.2L273.9 254.5L274.5 256.7L275 256.5L275.6 258.3L276.1 257.1L276.7 256L277.2 257L277.7 256.1L278.3 256.8L278.8 257L279.4 255.9L279.9 255.5L280.4 256L281 254L281.5 256L282.1 256.1L282.6 257.6L283.2 256.3L283.7 256.4L284.2 256.7L284.8 257.7L285.3 256.3L285.9 256.3L286.4 257.3L286.9 257.4L287.5 258.1L288 256.6L288.6 257.1L289.1 258.2L289.7 256.8L290.2 257.3L290.7 257.4L291.3 257.8L291.8 256.5L292.4 257.9L292.9 256.8L293.5 255.9L294 256.8L294.5 257.8L295.1 256L295.6 258.9L296.2 259.1L296.7 256.8L297.2 257.9L297.8 259.1L298.3 258.9L298.9 257.7L299.4 257.3L300 259.4L300.5 258.1L301 258.2L301.6 259.5L302.1 259.2L302.7 258.4L303.2 258.1L303.8 257L304.3 259L304.8 258.7L305.4 259.3L305.9 260.3L306.5 258.3L307 257.2L307.5 257.4L308.1 258.6L308.6 259.6L309.2 257.6L309.7 258.8L310.3 258.3L310.8 259L311.3 259.5L311.9 258.6L312.4 260.4L313 259.2L313.5 256.9L314.1 258.5L314.6 257.3L315.1 260.6L315.7 259.6L316.2 260.7L316.8 258.7L317.3 258.5L317.8 259.4L318.4 259.2L318.9 258.5L319.5 259.6L320 259.3L320.6 258.9L321.1 260L321.6 259.7L322.2 258.2L322.7 259.5L323.3 259.9L323.8 259.3L324.3 248.2L324.9 235.5L325.4 231.3L326 228.1L326.5 225.6L327.1 222.4L327.6 219.9L328.1 218.3L328.7 216.4L329.2 213.3L329.8 213.6L330.3 211.7L330.9 212L331.4 210.3L331.9 209.6" stroke="#000" stroke-width="0.78"/>
<path d="M81.5 155.4L82.1 155.3L82.6 155.9L83.1 155.3L83.7 156L84.2 155.6L84.8 155.4L85.3 155.6L85.9 154L86.4 155.6L86.9 155.8L87.5 154.1L88 154.5L88.6 154.4L89.1 155.4L89.7 154.8L90.2 153.7L90.7 154.6L91.3 154.5L91.8 153.7L92.4 154.1L92.9 153.6L93.4 155.7L94 156.8L94.5 156.5L95.1 154.9L95.6 155.6L96.2 157L96.7 153.8L97.2 153.4L97.8 155.1L98.3 155.6L98.9 155.8L99.4 154.5L100 154.4L100.5 154.7L101 153.6L101.6 155.4L102.1 156.2L102.7 155.3L103.2 155.1L103.7 154.9L104.3 154.6L104.8 156.3L105.4 153.8L105.9 156.4L106.5 155L107 154.6L107.5 154.1L108.1 154.5L108.6 155.6L109.2 155.3L109.7 156.4L110.2 155.5L110.8 155.3L111.3 156.8L111.9 153.3L112.4 155.1L113 154.5L113.5 153.6L114 154.7L114.6 155.3L115.1 156.1L115.7 155.9L116.2 155.9L116.8 155.3L117.3 165.9L117.8 174.9L118.4 176.9L118.9 179.5L119.5 181.3L120 185.8L120.5 185.1L121.1 185.5L121.6 188.1L122.2 188.2L122.7 189.7L123.3 190.4L123.8 191.2L124.3 192.4L124.9 193.3L125.4 193.8L126 194.7L126.5 196.5L127.1 196.2L127.6 197.5L128.1 198.2L128.7 197.7L129.2 198.3L129.8 198.5L130.3 201.5L130.8 202.1L131.4 202.8L131.9 203.9L132.5 204.9L133 204.7L133.6 204.9L134.1 204.4L134.6 207.4L135.2 207.6L135.7 209.3L136.3 209.7L136.8 212.2L137.4 209.1L137.9 212.2L138.4 211.8L139 213.9L139.5 213.4L140.1 214.4L140.6 216L141.1 215.8L141.7 215.3L142.2 215.4L142.8 217.5L143.3 216L143.9 216.8L144.4 218.1L144.9 216.3L145.5 218.2L146 218.2L146.6 217.2L147.1 218.7L147.6 219.5L148.2 219L148.7 220.5L149.3 220.7L149.8 221.2L150.4 221.8L150.9 221.2L151.4 221.7L152 221L152.5 222.1L153.1 224.3L153.6 223.4L154.2 224.1L154.7 224.5L155.2 223.6L155.8 224.2L156.3 226.5L156.9 223.8L157.4 225.5L157.9 227.5L158.5 227L159 226.3L159.6 227.9L160.1 228.2L160.7 229.4L161.2 228L161.7 228.5L162.3 227L162.8 227.9L163.4 228.4L163.9 229.5L164.5 228.5L165 230.7L165.5 229.8L166.1 229.6L166.6 230.9L167.2 231.8L167.7 230L168.2 229.1L168.8 230.4L169.3 229.5L169.9 230.8L170.4 231.9L171 232.5L171.5 233.6L172 232L172.6 233.2L173.1 233.7L173.7 233L174.2 232.9L174.8 234.2L175.3 233.8L175.8 234.2L176.4 234.1L176.9 234.6L177.5 235.1L178 237.2L178.5 236.2L179.1 234.4L179.6 235.5L180.2 235.5L180.7 235.2L181.3 236.8L181.8 236.3L182.3 236.6L182.9 236.2L183.4 236L184 236.6L184.5 237.2L185 236.3L185.6 237L186.1 238.9L186.7 236.9L187.2 237.2L187.8 238.4L188.3 238.4L188.8 239.3L189.4 238.6L189.9 240.1L190.5 238.3L191 238.4L191.6 240L192.1 239L192.6 240.8L193.2 240.5L193.7 240.9L194.3 239.6L194.8 239.3L195.3 241.3L195.9 240.5L196.4 240.1L197 240.9L197.5 238.5L198.1 241.9L198.6 240L199.1 239.5L199.7 241.3L200.2 242.5L200.8 240.7L201.3 243.9L201.9 242.5L202.4 243.5L202.9 242.5L203.5 242.9L204 243.8L204.6 242.4L205.1 241.5L205.6 243.8L206.2 242.6L206.7 242.9L207.3 243.8L207.8 243.9L208.4 243L208.9 242.4L209.4 243.6L210 246.1L210.5 243.7L211.1 243.6L211.6 245.9L212.2 245.2L212.7 244.6L213.2 244.8L213.8 244.4L214.3 245.5L214.9 244.4L215.4 247.4L215.9 245.3L216.5 245.8L217 245.5L217.6 244.8L218.1 244L218.7 246.2L219.2 245.9L219.7 246.8L220.3 246.1L220.8 246.6L221.4 247.4L221.9 245.4L222.4 245.7L223 246.2L223.5 245.2L224.1 247.8L224.6 246.6L225.2 245.2L225.7 246.8L226.2 247.8L226.8 248L227.3 246.2L227.9 246L228.4 246.7L229 246.4L229.5 247.9L230 248.1L230.6 247L231.1 248.5L231.7 247.8L232.2 248L232.7 248.8L233.3 248.1L233.8 249.4L234.4 249.2L234.9 250.5L235.5 250.2L236 249.8L236.5 248.6L237.1 248.7L237.6 250L238.2 249.4L238.7 246.9L239.3 248.5L239.8 248.6L240.3 251.1L240.9 250.2L241.4 248.5L242 250.6L242.5 250.6L243 250.6L243.6 250L244.1 249.2L244.7 251.3L245.2 249.6L245.8 252.4L246.3 251.5L246.8 250.1L247.4 251.3L247.9 251.3L248.5 251.1L249 249L249.5 251.1L250.1 249.8L250.6 248.5L251.2 250.5L251.7 251.5L252.3 251L252.8 251.9L253.3 251.5L253.9 252.2L254.4 252.8L255 253.1L255.5 250.8L256.1 251.8L256.6 252.6L257.1 250.7L257.7 251.4L258.2 251.8L258.8 252.4L259.3 251.8L259.8 252L260.4 252.2L260.9 252.1L261.5 251.2L262 251.9L262.6 250.7L263.1 250.8L263.6 252.8L264.2 253.2L264.7 253.7L265.3 253.4L265.8 251.9L266.4 252.6L266.9 253L267.4 252.5L268 254.6L268.5 252.8L269.1 252.9L269.6 252.1L270.1 252.9L270.7 251.9L271.2 251.6L271.8 252.9L272.3 252.4L272.9 253.7L273.4 253.9L273.9 254.4L274.5 253.7L275 254.5L275.6 254.6L276.1 253.9L276.7 254.9L277.2 253.2L277.7 254.3L278.3 254L278.8 254L279.4 252.7L279.9 252.9L280.4 253.7L281 254.3L281.5 253.1L282.1 253.8L282.6 254.9L283.2 254L283.7 253.4L284.2 253.9L284.8 254L285.3 252.7L285.9 254.3L286.4 253.5L286.9 252.5L287.5 252.2L288 254.9L288.6 254L289.1 254.2L289.7 252.1L290.2 252.7L290.7 253.1L291.3 253.1L291.8 253.7L292.4 255.4L292.9 252.7L293.5 255.8L294 254.3L294.5 253.9L295.1 254.4L295.6 253.8L296.2 254.6L296.7 254.1L297.2 254.5L297.8 255.6L298.3 254.2L298.9 255.4L299.4 254.6L300 256L300.5 255.1L301 254.7L301.6 254L302.1 256L302.7 256L303.2 255.5L303.8 256.4L304.3 255.1L304.8 253.1L305.4 254.2L305.9 254.6L306.5 256.1L307 255.2L307.5 255L308.1 253.6L308.6 255.5L309.2 254.5L309.7 255.7L310.3 256L310.8 256.2L311.3 255.7L311.9 257.2L312.4 256.6L313 254.6L313.5 257.3L314.1 255.5L314.6 255.1L315.1 256.2L315.7 256.8L316.2 255.2L316.8 256.2L317.3 255.8L317.8 256.3L318.4 257.3L318.9 255.5L319.5 255.4L320 256.9L320.6 255.4L321.1 257.3L321.6 257.8L322.2 255.9L322.7 256.7L323.3 256.5L323.8 254.9L324.3 247.4L324.9 233.2L325.4 228.3L326 224.5L326.5 222.1L327.1 220.3L327.6 217.6L328.1 216.6L328.7 214.2L329.2 213.5L329.8 211.8L330.3 210.1L330.9 210.4L331.4 208.5" stroke="#000" stroke-width="0.78"/>
<path d="M81.5 153.9L82.1 155.5L82.6 153.6L83.1 157.4L83.7 155.7L84.2 153.9L84.8 154.9L85.3 155.5L85.9 153.2L86.4 152.3L86.9 154.2L87.5 152.7L88 153.9L88.6 156.1L89.1 156.1L89.7 153.9L90.2 154.8L90.7 154.2L91.3 154.7L91.8 154.8L92.4 152.3L92.9 154.4L93.4 156.4L94 154.6L94.5 155.6L95.1 154.9L95.6 152.9L96.2 157.3L96.7 156.2L97.2 156.6L97.8 152.1L98.3 156L98.9 157.1L99.4 156.5L100 155.9L100.5 158.8L101 157.5L101.6 154.2L102.1 154.7L102.7 155.4L103.2 153.9L103.7 154.4L104.3 157.2L104.8 153.9L105.4 152.8L105.9 154L106.5 155.2L107 152.9L107.5 154.2L108.1 153.3L108.6 156L109.2 156.9L109.7 155.5L110.2 158.4L110.8 157.3L111.3 157.8L111.9 157.2L112.4 158.8L113 155.2L113.5 154.8L114 156.9L114.6 155.9L115.1 153.9L115.7 152.4L116.2 154.7L116.8 153.1L117.3 166.2L117.8 177L118.4 179.3L118.9 181.9L119.5 181.5L120 185.9L120.5 186.3L121.1 187.7L121.6 187.2L122.2 190.9L122.7 192.1L123.3 194.9L123.8 193.9L124.3 196.4L124.9 197.3L125.4 198.7L126 198.6L126.5 200.2L127.1 200.5L127.6 202.3L128.1 203.2L128.7 204.7L129.2 205.6L129.8 207L130.3 208.2L130.8 208.3L131.4 210.1L131.9 211L132.5 210.7L133 212.8L133.6 212.3L134.1 214.8L134.6 213.7L135.2 215.6L135.7 216.9L136.3 217L136.8 219.5L137.4 219.9L137.9 219.3L138.4 221.6L139 221.4L139.5 222.8L140.1 222.5L140.6 225L141.1 226.6L141.7 226.2L142.2 225.5L142.8 228.5L143.3 228.9L143.9 230.5L144.4 229.5L144.9 229.2L145.5 230.7L146 233.1L146.6 231L147.1 233.1L147.6 233.7L148.2 233.6L148.7 235.3L149.3 236.3L149.8 235.9L150.4 236.1L150.9 235.7L151.4 235.5L152 237.1L152.5 237.4L153.1 239.7L153.6 238L154.2 239.7L154.7 239.6L155.2 240.1L155.8 240.7L156.3 241.7L156.9 241.1L157.4 243.4L157.9 242.9L158.5 243.1L159 244L159.6 245.7L160.1 244.2L160.7 245L161.2 245.1L161.7 244.5L162.3 246.3L162.8 247L163.4 247.5L163.9 247.8L164.5 246.8L165 249.3L165.5 249.2L166.1 249.5L166.6 249.2L167.2 250.3L167.7 251.5L168.2 252.3L168.8 252.1L169.3 252L169.9 252.1L170.4 251L171 251.8L171.5 252.3L172 252.4L172.6 253.9L173.1 253.4L173.7 253.3L174.2 255.3L174.8 254L175.3 256.2L175.8 254.7L176.4 255.5L176.9 256.7L177.5 257.6L178 257.5L178.5 256L179.1 255.9L179.6 258.1L180.2 257.2L180.7 256.3L181.3 257.4L181.8 257.4L182.3 259L182.9 258.6L183.4 258.7L184 260.8L184.5 260.3L185 260.5L185.6 260.4L186.1 260.4L186.7 262.2L187.2 261.9L187.8 263.4L188.3 263.4L188.8 262.1L189.4 263L189.9 261.8L190.5 264.2L191 263L191.6 263.8L192.1 263.1L192.6 263.7L193.2 264.1L193.7 264.5L194.3 264.6L194.8 265.7L195.3 265L195.9 265.2L196.4 265.8L197 265.6L197.5 266.1L198.1 265.9L198.6 267.2L199.1 266.9L199.7 265.8L200.2 267L200.8 267.2L201.3 266.7L201.9 266.6L202.4 268.2L202.9 270.9L203.5 269.1L204 267.3L204.6 269L205.1 268.2L205.6 269.1L206.2 268.5L206.7 268.7L207.3 269.9L207.8 271.6L208.4 269.6L208.9 271.6L209.4 270.3L210 271.4L210.5 271.1L211.1 271.3L211.6 272.4L212.2 273.8L212.7 270.1L213.2 269.9L213.8 270.5L214.3 271.9L214.9 273.5L215.4 274L215.9 272.7L216.5 271.5L217 272.2L217.6 272.2L218.1 273.6L218.7 273.5L219.2 274.8L219.7 275.4L220.3 274.2L220.8 274.4L221.4 274.1L221.9 275.6L222.4 274.9L223 274.2L223.5 273.7L224.1 274.5L224.6 275L225.2 274.6L225.7 275.7L226.2 276.3L226.8 274.7L227.3 276.1L227.9 276.2L228.4 275.5L229 275.2L229.5 273.8L230 277.5L230.6 277L231.1 278L231.7 277.8L232.2 278.9L232.7 277.2L233.3 276.8L233.8 277.1L234.4 277.5L234.9 278.4L235.5 278L236 276.8L236.5 278.2L237.1 278L237.6 277.8L238.2 279.2L238.7 278.4L239.3 279.6L239.8 278.6L240.3 278L240.9 278.3L241.4 278.5L242 279.5L242.5 279.1L243 278.8L243.6 277.7L244.1 279.7L244.7 280.3L245.2 279.5L245.8 281L246.3 278.9L246.8 278L247.4 280.8L247.9 279.6L248.5 281.2L249 279.2L249.5 278.9L250.1 279.6L250.6 279.3L251.2 280.6L251.7 280.7L252.3 281.4L252.8 281.8L253.3 281L253.9 281.7L254.4 282L255 282.5L255.5 281.2L256.1 281.4L256.6 282.3L257.1 280.7L257.7 281.5L258.2 284L258.8 282.4L259.3 281.9L259.8 282.8L260.4 282.1L260.9 282.1L261.5 281.2L262 281.3L262.6 282.5L263.1 282.4L263.6 282.3L264.2 283.2L264.7 282.3L265.3 281.8L265.8 283.5L266.4 285.8L266.9 283L267.4 283.5L268 283.1L268.5 284.6L269.1 285.2L269.6 284.4L270.1 285.2L270.7 284.5L271.2 285.1L271.8 283.2L272.3 284.5L272.9 284.1L273.4 285.4L273.9 284L274.5 285L275 283.9L275.6 284.9L276.1 284.2L276.7 285L277.2 286.1L277.7 285.5L278.3 286.8L278.8 286.2L279.4 285.2L279.9 285.8L280.4 285.8L281 286.6L281.5 286.2L282.1 285.6L282.6 283.6L283.2 286.6L283.7 286.3L284.2 287.1L284.8 285.6L285.3 285.6L285.9 286.2L286.4 285.9L286.9 286.8L287.5 285.9L288 286.6L288.6 286.3L289.1 285.1L289.7 284.7L290.2 286.8L290.7 286.9L291.3 287.6L291.8 286.8L292.4 287.4L292.9 287L293.5 287.1L294 289.1L294.5 289.1L295.1 289.2L295.6 287.3L296.2 288.3L296.7 288.9L297.2 288L297.8 287.8L298.3 287.4L298.9 289.1L299.4 287.5L300 287.8L300.5 288L301 287.7L301.6 288.1L302.1 288.5L302.7 288.2L303.2 288.3L303.8 287.6L304.3 289L304.8 289.3L305.4 287.8L305.9 288.8L306.5 288.3L307 288.3L307.5 288L308.1 288.2L308.6 288.1L309.2 287.8L309.7 287.5L310.3 287L310.8 288.9L311.3 288.1L311.9 288.5L312.4 289.3L313 289.3L313.5 289.1L314.1 291L314.6 289.4L315.1 289.8L315.7 289.6L316.2 290L316.8 290.2L317.3 290.7L317.8 289.7L318.4 289.9L318.9 291.3L319.5 287.8L320 289.4L320.6 289L321.1 290.7L321.6 289.7L322.2 290.2L322.7 289.3L323.3 288.1L323.8 289.6L324.3 278.8L324.9 264.1L325.4 258.2L326 254.2L326.5 249L327.1 247.1L327.6 244L328.1 243.4L328.7 240.2L329.2 240.5L329.8 238L330.3 237.7L330.9 237.4" stroke="#f58ec8" stroke-width="1.7"/>
</g>
<path d="M78 136.2V306.9H334.4M78 155h-7M78 192.9h-7M78 230.9h-7M78 268.9h-7M78 306.8h-7M87.4 306.9v4M97.3 306.9v4M107.1 306.9v4M117 306.9v6.9M126.9 306.9v4M136.7 306.9v4M146.6 306.9v4M156.4 306.9v4M166.3 306.9v4M176.1 306.9v4M186 306.9v4M195.8 306.9v4M205.7 306.9v4M215.6 306.9v6.9M225.4 306.9v4M235.3 306.9v4M245.1 306.9v4M255 306.9v4M264.8 306.9v4M274.7 306.9v4M284.5 306.9v4M294.4 306.9v4M304.2 306.9v4M314.1 306.9v6.9M324 306.9v4M333.8 306.9v4" fill="none" stroke="#000" stroke-width="1.7"/>
<g font-weight="bold" font-size="13.1" fill="#000">
<text x="68.4" y="159.6" text-anchor="end">1.00</text>
<text x="68.4" y="197.5" text-anchor="end">0.98</text>
<text x="68.4" y="235.5" text-anchor="end">0.96</text>
<text x="68.4" y="273.5" text-anchor="end">0.94</text>
<text x="68.4" y="311.4" text-anchor="end">0.92</text>
<text x="117" y="328" text-anchor="middle">0</text>
<text x="215.6" y="328" text-anchor="middle">10</text>
<text x="314.1" y="328" text-anchor="middle">20</text>
</g>
<text x="206.4" y="348.4" font-weight="bold" font-size="13.6" text-anchor="middle">Time (s)</text>
<text transform="translate(31.5 220.6) rotate(-90)" font-weight="bold" font-size="13.7" text-anchor="middle">Normalized Fluorescence</text>
<g font-weight="bold" font-size="13.6" text-anchor="middle">
<text x="256.8" y="221" fill="#9a1f72">Darobactin A</text>
<text x="256.5" y="234.5" fill="#9a1f72">bound</text>
<text x="189" y="290.5" fill="#f58ec8">unbound</text>
</g>
<g fill="none" stroke-linejoin="round">
<path d="M427.5 151.8L428.1 155.3L428.6 153.2L429.1 153.5L429.7 156.4L430.2 154.4L430.8 154.1L431.3 154L431.9 155.8L432.4 154.8L432.9 155.3L433.5 155L434 152.8L434.6 153.1L435.1 156.2L435.7 154.4L436.2 155L436.7 156.5L437.3 152.7L437.8 153.4L438.4 156.6L438.9 156.7L439.4 158.5L440 158.9L440.5 157.7L441.1 153.6L441.6 156.1L442.2 153.7L442.7 155.4L443.2 156.3L443.8 153.7L444.3 153.7L444.9 155.1L445.4 157.2L446 157.7L446.5 154.9L447 154.6L447.6 154L448.1 156.1L448.7 152.6L449.2 154.1L449.7 154L450.3 154.4L450.8 154.6L451.4 155.2L451.9 153L452.5 153.9L453 156L453.5 156.2L454.1 154.3L454.6 155.8L455.2 152.5L455.7 155.6L456.2 155.5L456.8 152.9L457.3 152.7L457.9 155.2L458.4 158L459 155.6L459.5 153.1L460 152.6L460.6 155.5L461.1 154.2L461.7 155.1L462.2 154.5L462.8 155L463.3 167.7L463.8 176.4L464.4 178.8L464.9 181.8L465.5 180.4L466 182.4L466.5 182.2L467.1 184.1L467.6 183.3L468.2 185.2L468.7 187.4L469.3 185.2L469.8 187.5L470.3 187.7L470.9 187.8L471.4 188.7L472 189.1L472.5 188.5L473.1 190L473.6 191.6L474.1 191.4L474.7 191.9L475.2 192.6L475.8 192.7L476.3 193.8L476.8 195.3L477.4 197L477.9 195.3L478.5 196.9L479 196.6L479.6 195.9L480.1 198.2L480.6 197.1L481.2 199L481.7 200.1L482.3 198.9L482.8 198.9L483.4 200.9L483.9 200.6L484.4 200.1L485 202.2L485.5 201L486.1 202.7L486.6 202.8L487.1 202.5L487.7 203.2L488.2 203.8L488.8 204.2L489.3 205.5L489.9 205.2L490.4 204.7L490.9 202.7L491.5 203.6L492 204.4L492.6 206L493.1 206.2L493.6 207.1L494.2 207.1L494.7 208.2L495.3 206.9L495.8 206.4L496.4 207.3L496.9 207.6L497.4 208.4L498 208L498.5 208.9L499.1 209.1L499.6 209.6L500.2 210.2L500.7 209.4L501.2 208.5L501.8 209L502.3 211.2L502.9 210.5L503.4 211.6L503.9 211.3L504.5 211.8L505 211.5L505.6 211.2L506.1 211.8L506.7 210.6L507.2 212.9L507.7 213.9L508.3 212.8L508.8 213.2L509.4 214L509.9 213.4L510.5 212.5L511 213.6L511.5 213L512.1 212.8L512.6 213.8L513.2 214.7L513.7 213.8L514.2 213.9L514.8 215.3L515.3 215.5L515.9 215.3L516.4 215.2L517 214.9L517.5 215.1L518 214.8L518.6 214.9L519.1 216.4L519.7 215.4L520.2 215.4L520.8 215.3L521.3 215.4L521.8 217.9L522.4 216.4L522.9 216.9L523.5 215.3L524 216.7L524.5 214.7L525.1 216.9L525.6 217.6L526.2 217.5L526.7 218.4L527.3 218.4L527.8 217.8L528.3 218L528.9 218.6L529.4 218.6L530 219.5L530.5 219.3L531 219.6L531.6 217.5L532.1 217.8L532.7 219.2L533.2 219.8L533.8 217.7L534.3 219.4L534.8 219.6L535.4 219.6L535.9 220.2L536.5 220.4L537 220.3L537.6 221.3L538.1 220.9L538.6 221.7L539.2 220.7L539.7 222.3L540.3 222.1L540.8 221.9L541.3 221.5L541.9 220.8L542.4 219.7L543 220L543.5 220.8L544.1 220.5L544.6 221.8L545.1 220.7L545.7 223.2L546.2 222.6L546.8 222.9L547.3 222L547.9 223L548.4 223.6L548.9 222.1L549.5 222.7L550 220.8L550.6 223.8L551.1 222.6L551.6 222.8L552.2 224L552.7 222.3L553.3 222.8L553.8 223.3L554.4 224.4L554.9 222.8L555.4 223.2L556 224.5L556.5 223.6L557.1 222.8L557.6 222.9L558.2 223.4L558.7 225.2L559.2 223.6L559.8 224.7L560.3 224.8L560.9 224.4L561.4 223.6L561.9 224.7L562.5 225.3L563 224L563.6 223.1L564.1 226.3L564.7 226.2L565.2 226.3L565.7 225.6L566.3 226.2L566.8 224.8L567.4 223L567.9 225.8L568.4 225.9L569 226.2L569.5 224.1L570.1 224.5L570.6 225.9L571.2 225.2L571.7 225.3L572.2 225.6L572.8 227.5L573.3 224.8L573.9 225.7L574.4 227.3L575 226.7L575.5 226.9L576 225.8L576.6 225.1L577.1 225L577.7 225.6L578.2 227.3L578.7 226.8L579.3 226.4L579.8 226.3L580.4 227L580.9 226.7L581.5 227.2L582 227.5L582.5 228.1L583.1 228.2L583.6 228.1L584.2 228L584.7 227L585.3 226.4L585.8 226.3L586.3 227.1L586.9 227.5L587.4 226.4L588 228.6L588.5 228.2L589 228.3L589.6 225.6L590.1 225.6L590.7 226.9L591.2 229.2L591.8 228.9L592.3 227.3L592.8 226.6L593.4 226.4L593.9 228L594.5 226.5L595 226.4L595.5 227.3L596.1 228L596.6 228L597.2 228.5L597.7 227L598.3 227.2L598.8 228.5L599.3 230.5L599.9 229.6L600.4 229.5L601 228.9L601.5 227.5L602.1 227.1L602.6 228.3L603.1 228.2L603.7 229L604.2 228.9L604.8 230.2L605.3 227.8L605.8 227.9L606.4 228.4L606.9 228.3L607.5 227.6L608 228.2L608.6 227.4L609.1 226.9L609.6 227L610.2 228.6L610.7 229L611.3 230.3L611.8 230.9L612.4 230.4L612.9 229.9L613.4 229.9L614 229.3L614.5 230.2L615.1 230.6L615.6 230.3L616.1 229L616.7 230L617.2 229.5L617.8 229.9L618.3 230.3L618.9 228.8L619.4 230.7L619.9 231.1L620.5 229.7L621 228.3L621.6 229.4L622.1 230.2L622.7 229.3L623.2 228.9L623.7 228.6L624.3 229.9L624.8 230.9L625.4 229.9L625.9 229.7L626.4 231L627 231.5L627.5 230.8L628.1 229L628.6 230.6L629.2 230L629.7 230.8L630.2 231.8L630.8 231.7L631.3 231.1L631.9 232.7L632.4 230.6L632.9 230.7L633.5 231.4L634 230.8L634.6 230.3L635.1 229.6L635.7 228.9L636.2 230.4L636.7 230.1L637.3 230.2L637.8 231.8L638.4 229.7L638.9 231L639.5 230.7L640 231.4L640.5 231.2L641.1 229.8L641.6 230.3L642.2 229.3L642.7 230.6L643.2 230.9L643.8 231.4L644.3 232.2L644.9 231.8L645.4 231.2L646 232L646.5 229.5L647 230L647.6 231L648.1 229.7L648.7 232.2L649.2 231.1L649.8 231.4L650.3 230.9L650.8 232L651.4 231L651.9 231L652.5 232.1L653 231.9L653.5 232.2L654.1 231.6L654.6 232L655.2 230L655.7 232.5L656.3 230L656.8 230.8L657.3 231.1L657.9 232.7L658.4 230.7L659 230.5L659.5 231.1L660.1 232.6L660.6 229.8L661.1 231.6L661.7 232.9L662.2 233.4L662.8 231.6L663.3 231.1L663.8 232.6L664.4 232.1L664.9 230.6L665.5 231.8L666 232.6L666.6 232.8L667.1 231.2L667.6 231.9L668.2 231.9L668.7 233L669.3 228.2L669.8 213.9L670.3 208.9L670.9 206.1L671.4 204.4L672 201.7L672.5 199.7L673.1 198.6L673.6 199L674.1 195.6L674.7 195.3L675.2 196.1L675.8 194.1L676.3 194L676.9 192.1L677.4 191.3L677.9 191.1" stroke="#9a1f72" stroke-width="1.9"/>
<path d="M427.5 152.3L428.1 153.8L428.6 155.2L429.1 153.9L429.7 154L430.2 155L430.8 155.7L431.3 152.9L431.9 155.6L432.4 156.2L432.9 157.8L433.5 155.2L434 155.1L434.6 155.2L435.1 156.6L435.7 155.5L436.2 156L436.7 156.5L437.3 155.7L437.8 155L438.4 155.2L438.9 155.6L439.4 154.6L440 154.8L440.5 155.4L441.1 154.7L441.6 154.7L442.2 154.2L442.7 154.1L443.2 154.2L443.8 155.5L444.3 154L444.9 153.9L445.4 155.3L446 154L446.5 154.8L447 156L447.6 155.4L448.1 156.4L448.7 154.4L449.2 156.1L449.7 154L450.3 155.7L450.8 155.4L451.4 154L451.9 154.5L452.5 156.5L453 155.6L453.5 157L454.1 155L454.6 156L455.2 155.4L455.7 155.3L456.2 156.6L456.8 155.2L457.3 153.5L457.9 155.6L458.4 155.8L459 154.9L459.5 153.9L460 155.6L460.6 155.1L461.1 154.8L461.7 154L462.2 155.6L462.8 152.9L463.3 165.1L463.8 177.2L464.4 180.5L464.9 181.1L465.5 183L466 184.1L466.5 184.7L467.1 186.2L467.6 187.2L468.2 187.4L468.7 188.7L469.3 189L469.8 189.1L470.3 189.7L470.9 191.4L471.4 190.6L472 193.3L472.5 193.4L473.1 193.1L473.6 195.1L474.1 195.6L474.7 197.4L475.2 198.5L475.8 198.6L476.3 198.8L476.8 199.5L477.4 199.9L477.9 200.8L478.5 201.8L479 203L479.6 203.3L480.1 203.7L480.6 204.2L481.2 205.8L481.7 204.4L482.3 204.6L482.8 205.9L483.4 207.2L483.9 206.5L484.4 207.9L485 208.6L485.5 208.4L486.1 209.7L486.6 209.8L487.1 210.7L487.7 210.3L488.2 210.6L488.8 210.8L489.3 211.4L489.9 211.9L490.4 212.3L490.9 212.3L491.5 214.2L492 215.2L492.6 214.6L493.1 214.6L493.6 215.2L494.2 214.1L494.7 215L495.3 214.7L495.8 216L496.4 217.9L496.9 218.6L497.4 216.8L498 217.5L498.5 218.4L499.1 217.2L499.6 216.7L500.2 218.1L500.7 217.8L501.2 219.4L501.8 220.6L502.3 221.7L502.9 219.7L503.4 221.8L503.9 221.5L504.5 221.1L505 220.8L505.6 223.1L506.1 222.4L506.7 222.9L507.2 221.1L507.7 222.4L508.3 223.3L508.8 221.5L509.4 222.6L509.9 222.5L510.5 223.1L511 223.8L511.5 223.3L512.1 224.7L512.6 225.8L513.2 225.6L513.7 224.5L514.2 225.3L514.8 224.3L515.3 224.5L515.9 225.1L516.4 224.6L517 225.3L517.5 225.6L518 226.4L518.6 226.6L519.1 226.7L519.7 225.8L520.2 225.2L520.8 225.7L521.3 226.7L521.8 227.4L522.4 227.3L522.9 228.2L523.5 228L524 228.3L524.5 228.3L525.1 230.5L525.6 229L526.2 228.1L526.7 229.6L527.3 227.5L527.8 228.5L528.3 229.5L528.9 228L529.4 229.9L530 227.2L530.5 229.7L531 228.9L531.6 228.4L532.1 229L532.7 229.7L533.2 230.8L533.8 230.6L534.3 230.3L534.8 229.6L535.4 232.5L535.9 230.7L536.5 231.9L537 231.8L537.6 231.4L538.1 231.9L538.6 230.9L539.2 232.8L539.7 231.5L540.3 232.6L540.8 232.3L541.3 232.1L541.9 233.3L542.4 232L543 230.2L543.5 232.3L544.1 233.2L544.6 231.2L545.1 230.7L545.7 234L546.2 233.4L546.8 233.7L547.3 232.9L547.9 233.1L548.4 234L548.9 233.7L549.5 232.3L550 233.9L550.6 233.3L551.1 232.8L551.6 231.8L552.2 232.8L552.7 233.2L553.3 234.5L553.8 233.8L554.4 232.7L554.9 233.2L555.4 232.7L556 234.2L556.5 233.5L557.1 234.3L557.6 235L558.2 235.1L558.7 233.5L559.2 233.8L559.8 234.6L560.3 234.9L560.9 234L561.4 235L561.9 233.9L562.5 234.4L563 235.3L563.6 235.3L564.1 236.1L564.7 236.4L565.2 236L565.7 235.9L566.3 235.8L566.8 236.2L567.4 236.3L567.9 235.4L568.4 236.7L569 238.2L569.5 234.8L570.1 235.4L570.6 235.5L571.2 234.7L571.7 234.5L572.2 234.3L572.8 234.7L573.3 235L573.9 235.4L574.4 236.1L575 236.3L575.5 239.5L576 235.6L576.6 236.2L577.1 237.2L577.7 235.6L578.2 236.9L578.7 236.3L579.3 237.3L579.8 237.8L580.4 235.9L580.9 236.4L581.5 238.1L582 236.5L582.5 235.9L583.1 236.9L583.6 236.2L584.2 235.6L584.7 235.5L585.3 236.1L585.8 236.1L586.3 235.3L586.9 236.5L587.4 237.2L588 237.5L588.5 234.3L589 237.5L589.6 237.3L590.1 239L590.7 237.8L591.2 237.7L591.8 237.6L592.3 236.8L592.8 236L593.4 237L593.9 238.2L594.5 238.2L595 237.8L595.5 238.4L596.1 238L596.6 237.3L597.2 237.5L597.7 235.9L598.3 238.9L598.8 238L599.3 237L599.9 238.7L600.4 239.7L601 236.5L601.5 236.8L602.1 237.2L602.6 236.8L603.1 238.7L603.7 239.3L604.2 237L604.8 237.8L605.3 239.6L605.8 238.7L606.4 236.9L606.9 239L607.5 240L608 240.9L608.6 239.2L609.1 238.7L609.6 239.1L610.2 239.2L610.7 238.9L611.3 239.2L611.8 239.2L612.4 237.8L612.9 238.4L613.4 238.1L614 240.2L614.5 239.9L615.1 238.1L615.6 238.4L616.1 237.7L616.7 239.8L617.2 238.4L617.8 239.2L618.3 238.9L618.9 239.5L619.4 239.9L619.9 240.1L620.5 239.3L621 238.1L621.6 239.7L622.1 239.7L622.7 240.1L623.2 240L623.7 238.7L624.3 239.3L624.8 240L625.4 238.7L625.9 238.7L626.4 238.7L627 238.9L627.5 239.6L628.1 238.5L628.6 239.6L629.2 239.1L629.7 239L630.2 238.1L630.8 239.1L631.3 238.5L631.9 240.7L632.4 239.5L632.9 239.2L633.5 239.2L634 241.2L634.6 239.1L635.1 239.9L635.7 240.1L636.2 238.1L636.7 239.3L637.3 238.5L637.8 240.8L638.4 239.2L638.9 239.2L639.5 239.2L640 240.3L640.5 239.4L641.1 239.7L641.6 238.3L642.2 239.7L642.7 241.1L643.2 239L643.8 240.4L644.3 240L644.9 239L645.4 237.9L646 238.7L646.5 238.8L647 239.3L647.6 239.5L648.1 239.7L648.7 239.4L649.2 240.5L649.8 239.7L650.3 238.7L650.8 239.3L651.4 239.8L651.9 239.1L652.5 240.4L653 240.1L653.5 237.8L654.1 238.6L654.6 238.8L655.2 239.7L655.7 240.5L656.3 241L656.8 240.1L657.3 238.7L657.9 239.7L658.4 239.1L659 239.9L659.5 239.8L660.1 239.5L660.6 237.1L661.1 239.1L661.7 240.6L662.2 239.2L662.8 239.8L663.3 239.4L663.8 240.5L664.4 239.3L664.9 240.5L665.5 239.7L666 240.3L666.6 240.8L667.1 239.7L667.6 239.6L668.2 241.8L668.7 239.8L669.3 235.5L669.8 224.8L670.3 220.6L670.9 218.3L671.4 216.5L672 215.6L672.5 213.2L673.1 211.6L673.6 212.4L674.1 211L674.7 211L675.2 210.1L675.8 208L676.3 208L676.9 207.4L677.4 207.4" stroke="#000" stroke-width="0.78"/>
<path d="M427.5 152.8L428.1 155.2L428.6 155.1L429.1 155L429.7 155.3L430.2 156.6L430.8 155.5L431.3 155.6L431.9 155L432.4 154.9L432.9 155.1L433.5 153.5L434 155.4L434.6 153.7L435.1 155.9L435.7 156.1L436.2 154.3L436.7 156.1L437.3 155L437.8 156.4L438.4 154.1L438.9 155.2L439.4 153.9L440 154.4L440.5 154.7L441.1 154.3L441.6 155.4L442.2 157L442.7 153.6L443.2 154.7L443.8 155.5L444.3 156.2L444.9 155.6L445.4 155.7L446 155.6L446.5 155.5L447 152.9L447.6 155.5L448.1 155.8L448.7 155.8L449.2 156.7L449.7 154.7L450.3 153.4L450.8 155.1L451.4 155L451.9 156.2L452.5 152.6L453 153.3L453.5 156.3L454.1 156.7L454.6 155.4L455.2 156.3L455.7 154.4L456.2 155.7L456.8 155.4L457.3 154L457.9 154.9L458.4 153.3L459 154.1L459.5 154.2L460 154.4L460.6 155.5L461.1 154.9L461.7 156L462.2 154.9L462.8 156.3L463.3 168L463.8 177L464.4 180.4L464.9 182L465.5 183L466 185.2L466.5 185.3L467.1 187.1L467.6 188.6L468.2 189.6L468.7 191.4L469.3 192.3L469.8 195.1L470.3 193.5L470.9 195.2L471.4 195.5L472 196.8L472.5 199.4L473.1 198.9L473.6 198.1L474.1 200.9L474.7 201.4L475.2 202.4L475.8 203.9L476.3 205L476.8 206.3L477.4 206.8L477.9 207.8L478.5 208L479 207.6L479.6 209.2L480.1 210L480.6 209.9L481.2 211L481.7 211.1L482.3 212.2L482.8 213L483.4 213.4L483.9 212.3L484.4 213.6L485 215.6L485.5 216L486.1 218.1L486.6 218L487.1 218.7L487.7 218.2L488.2 219.2L488.8 219.4L489.3 218.8L489.9 219.5L490.4 219.1L490.9 221L491.5 221.4L492 221.5L492.6 221.9L493.1 222.3L493.6 222.3L494.2 224.4L494.7 225.2L495.3 225.8L495.8 225.2L496.4 225.4L496.9 225.2L497.4 225.6L498 227.6L498.5 226.2L499.1 226L499.6 227.5L500.2 228.8L500.7 227.6L501.2 227.2L501.8 229L502.3 228.1L502.9 228.6L503.4 229.7L503.9 231.2L504.5 228.8L505 229.7L505.6 229.8L506.1 230.3L506.7 232.3L507.2 232.7L507.7 231.8L508.3 230.7L508.8 231.4L509.4 232.3L509.9 231.7L510.5 231.7L511 233.4L511.5 234.2L512.1 233.4L512.6 234.2L513.2 233L513.7 234.3L514.2 235.1L514.8 234.1L515.3 234.9L515.9 234.7L516.4 234.4L517 234.9L517.5 234.9L518 238.5L518.6 236.7L519.1 237.1L519.7 236.4L520.2 237.7L520.8 236.3L521.3 237.3L521.8 237L522.4 238.1L522.9 239.3L523.5 237L524 237.4L524.5 237.9L525.1 238.2L525.6 240L526.2 239.9L526.7 239.6L527.3 240.3L527.8 240.4L528.3 240.7L528.9 239.3L529.4 239.2L530 240.2L530.5 241.1L531 240.4L531.6 240.9L532.1 241.5L532.7 241.6L533.2 241.5L533.8 241.8L534.3 242.1L534.8 243.9L535.4 244L535.9 241.7L536.5 241.7L537 241.1L537.6 244.2L538.1 244.2L538.6 243.1L539.2 245L539.7 243.5L540.3 244.2L540.8 243.4L541.3 243.8L541.9 244.1L542.4 245.4L543 245.8L543.5 244.9L544.1 242.7L544.6 244L545.1 245.9L545.7 245.9L546.2 247.4L546.8 245.9L547.3 246.8L547.9 245.8L548.4 245.7L548.9 246.4L549.5 245.6L550 247.3L550.6 246.9L551.1 246.1L551.6 247.3L552.2 247L552.7 245.1L553.3 246.5L553.8 247L554.4 249.2L554.9 247.8L555.4 248.5L556 247.2L556.5 248L557.1 247.9L557.6 246.9L558.2 248L558.7 248.5L559.2 246.3L559.8 247.1L560.3 246.6L560.9 248L561.4 251L561.9 248.9L562.5 248.3L563 249.7L563.6 250.8L564.1 250.1L564.7 249.6L565.2 249.4L565.7 248.4L566.3 249.5L566.8 249.4L567.4 250.9L567.9 249.9L568.4 249.9L569 249.9L569.5 247.8L570.1 249.5L570.6 251L571.2 253.1L571.7 250.5L572.2 251.6L572.8 251.1L573.3 251.6L573.9 251.4L574.4 251.6L575 251.6L575.5 251.9L576 251.7L576.6 250.1L577.1 250.9L577.7 252.1L578.2 252L578.7 253.6L579.3 251.3L579.8 252.4L580.4 251.7L580.9 254.2L581.5 252.6L582 253.3L582.5 253.5L583.1 253.5L583.6 253.6L584.2 252.3L584.7 253.1L585.3 252.8L585.8 252L586.3 252.4L586.9 254.6L587.4 253.7L588 253.5L588.5 252.9L589 255.4L589.6 253.7L590.1 253.3L590.7 253.6L591.2 253.3L591.8 253.1L592.3 252.9L592.8 254.2L593.4 255.2L593.9 255.9L594.5 255.1L595 253.4L595.5 256.5L596.1 255.4L596.6 255.9L597.2 254.3L597.7 254.4L598.3 253.9L598.8 252.4L599.3 254.4L599.9 255.4L600.4 255.7L601 254.5L601.5 256.9L602.1 257.6L602.6 256.7L603.1 254.5L603.7 257L604.2 254.9L604.8 257.1L605.3 256.1L605.8 257.2L606.4 257L606.9 256.2L607.5 257L608 257.5L608.6 256L609.1 256.4L609.6 257.5L610.2 257.3L610.7 255.8L611.3 257.2L611.8 256.7L612.4 256.7L612.9 256.3L613.4 256.1L614 256.3L614.5 255.9L615.1 256.1L615.6 255.8L616.1 256.9L616.7 255.7L617.2 257.5L617.8 256L618.3 257.5L618.9 255.6L619.4 257.3L619.9 257.3L620.5 257.3L621 256.6L621.6 257.5L622.1 258.9L622.7 259.9L623.2 257.1L623.7 257.7L624.3 258.4L624.8 256.8L625.4 257.8L625.9 258.3L626.4 258L627 258.1L627.5 259.5L628.1 257.3L628.6 256.5L629.2 259L629.7 257.8L630.2 259L630.8 259.5L631.3 258.2L631.9 259.1L632.4 258.7L632.9 259.4L633.5 258L634 257.3L634.6 258.2L635.1 257.5L635.7 258L636.2 258.1L636.7 258.5L637.3 260.4L637.8 258.9L638.4 257.4L638.9 258.8L639.5 258.6L640 259.9L640.5 260.6L641.1 259.7L641.6 257.6L642.2 259.2L642.7 257.9L643.2 258.9L643.8 259.7L644.3 261.5L644.9 259.2L645.4 259.9L646 260.3L646.5 259.5L647 258.9L647.6 257.7L648.1 259.3L648.7 261.5L649.2 261L649.8 258.7L650.3 258.5L650.8 259.5L651.4 260.2L651.9 259.3L652.5 259.8L653 260L653.5 258.8L654.1 260.2L654.6 259.3L655.2 260.1L655.7 259.3L656.3 260.8L656.8 261.7L657.3 261.3L657.9 260.8L658.4 259.3L659 260.1L659.5 260.2L660.1 260.5L660.6 260.8L661.1 260.1L661.7 260.9L662.2 260.1L662.8 261L663.3 261L663.8 261.7L664.4 261.3L664.9 261.5L665.5 261L666 260.2L666.6 258.7L667.1 260.7L667.6 262.7L668.2 259.9L668.7 260.3L669.3 257.3L669.8 246.7L670.3 242.6L670.9 240.3L671.4 237.4L672 236.1L672.5 233.8L673.1 233.5L673.6 232L674.1 231.3L674.7 230.5L675.2 230.2L675.8 230.5L676.3 229L676.9 228.7" stroke="#000" stroke-width="0.78"/>
<path d="M427.5 155L428.1 153.9L428.6 155.1L429.1 154.1L429.7 154.8L430.2 156.3L430.8 155.2L431.3 153.1L431.9 155.3L432.4 154.1L432.9 155.8L433.5 154L434 155.7L434.6 155.7L435.1 155L435.7 154.7L436.2 155L436.7 153.2L437.3 153.7L437.8 155.1L438.4 154.5L438.9 154.6L439.4 154.4L440 155.1L440.5 155.3L441.1 154.9L441.6 155.8L442.2 155.2L442.7 152.3L443.2 154.6L443.8 156.7L444.3 155.5L444.9 155.6L445.4 156.1L446 155.2L446.5 155.3L447 154.2L447.6 153.3L448.1 156L448.7 155.4L449.2 156.5L449.7 156.5L450.3 155.4L450.8 154.5L451.4 155.3L451.9 153.2L452.5 156.2L453 155.3L453.5 155L454.1 155.9L454.6 155.3L455.2 156.8L455.7 156.6L456.2 155.5L456.8 156.1L457.3 155.1L457.9 154.7L458.4 153.7L459 154.2L459.5 155.4L460 155.9L460.6 154.8L461.1 155.6L461.7 153.1L462.2 154.6L462.8 155.3L463.3 168.5L463.8 177.2L464.4 180.8L464.9 182.1L465.5 184.6L466 186.1L466.5 187.1L467.1 188.6L467.6 190.5L468.2 191L468.7 192.2L469.3 193.4L469.8 194.1L470.3 196.5L470.9 196.8L471.4 197.2L472 198.6L472.5 199.9L473.1 201.6L473.6 202.4L474.1 204.3L474.7 202.1L475.2 203.9L475.8 205L476.3 205.5L476.8 207.1L477.4 208L477.9 209L478.5 210.9L479 213.1L479.6 211.6L480.1 211.3L480.6 212.3L481.2 213.9L481.7 214L482.3 214.3L482.8 214.7L483.4 216.1L483.9 216.3L484.4 219.6L485 218.3L485.5 218.6L486.1 220.9L486.6 221L487.1 220.9L487.7 220.7L488.2 221.4L488.8 221.7L489.3 223.4L489.9 224.2L490.4 224.3L490.9 226L491.5 227.1L492 226.2L492.6 227.1L493.1 227.6L493.6 227L494.2 230.7L494.7 229.9L495.3 229L495.8 230.1L496.4 229.2L496.9 231.8L497.4 231.9L498 232.6L498.5 233L499.1 234.1L499.6 233.7L500.2 234.7L500.7 235.3L501.2 234.3L501.8 234.9L502.3 236.6L502.9 236.1L503.4 235.8L503.9 235.7L504.5 236.7L505 236.1L505.6 237.6L506.1 238.8L506.7 239.2L507.2 238.9L507.7 241.6L508.3 238.6L508.8 239L509.4 240.6L509.9 241L510.5 240.5L511 239.6L511.5 242.6L512.1 241.2L512.6 241.8L513.2 243L513.7 242.6L514.2 244.1L514.8 245.3L515.3 246.1L515.9 242.7L516.4 244.7L517 245.3L517.5 245.4L518 245.9L518.6 246.9L519.1 245.6L519.7 246L520.2 246L520.8 248L521.3 246.1L521.8 246.8L522.4 246.5L522.9 248.1L523.5 248.6L524 249.9L524.5 247.7L525.1 248.4L525.6 250.3L526.2 249.8L526.7 249.9L527.3 250L527.8 249.4L528.3 249.3L528.9 250.1L529.4 251.9L530 252.4L530.5 252.6L531 252.7L531.6 251.8L532.1 252.8L532.7 252.8L533.2 252.1L533.8 253.3L534.3 251.4L534.8 254.9L535.4 253.4L535.9 254.7L536.5 254.1L537 254.4L537.6 254.6L538.1 255.6L538.6 255L539.2 256L539.7 255.4L540.3 256.2L540.8 257L541.3 255.1L541.9 255.9L542.4 257L543 256.2L543.5 255.9L544.1 255.1L544.6 256.3L545.1 256.4L545.7 258.2L546.2 256L546.8 258L547.3 258L547.9 258L548.4 257.5L548.9 258.3L549.5 258.8L550 258.8L550.6 257.6L551.1 257.8L551.6 258.4L552.2 258.8L552.7 260.5L553.3 260.5L553.8 261.4L554.4 258.8L554.9 261.8L555.4 262.2L556 262L556.5 261.8L557.1 263L557.6 262.9L558.2 261.1L558.7 263.1L559.2 261.2L559.8 261.4L560.3 262.7L560.9 265.1L561.4 263.8L561.9 263L562.5 263.5L563 263.4L563.6 263.1L564.1 263.4L564.7 261.6L565.2 262.4L565.7 262.1L566.3 263.2L566.8 266.1L567.4 264.8L567.9 264.2L568.4 265.5L569 264.1L569.5 264.3L570.1 266.5L570.6 264.3L571.2 264.4L571.7 265L572.2 265.9L572.8 264.5L573.3 267.8L573.9 266.8L574.4 264.9L575 264.3L575.5 265.2L576 264.3L576.6 266.3L577.1 267.3L577.7 264.8L578.2 264.9L578.7 266.3L579.3 265.8L579.8 266.3L580.4 267L580.9 266.7L581.5 265.9L582 268.3L582.5 268.3L583.1 268L583.6 268.5L584.2 268.1L584.7 269.4L585.3 268.9L585.8 267.7L586.3 268.4L586.9 268.5L587.4 267.9L588 266.9L588.5 268.9L589 269.5L589.6 268.3L590.1 268.3L590.7 270.1L591.2 270.3L591.8 270.1L592.3 269.7L592.8 269.6L593.4 268.8L593.9 267.9L594.5 268.3L595 270.1L595.5 270.6L596.1 271.1L596.6 271.3L597.2 269.6L597.7 269.8L598.3 272.4L598.8 271.1L599.3 269.8L599.9 272L600.4 270.6L601 269.1L601.5 272.4L602.1 272.1L602.6 272.6L603.1 271.4L603.7 271.2L604.2 270.1L604.8 271L605.3 271.8L605.8 271.9L606.4 270.8L606.9 272.6L607.5 272.4L608 272.8L608.6 272.7L609.1 271.2L609.6 272.6L610.2 271.4L610.7 273L611.3 273.7L611.8 274.3L612.4 270.4L612.9 272.2L613.4 271.5L614 272.8L614.5 272.8L615.1 273.8L615.6 272.2L616.1 272.3L616.7 273.8L617.2 272.7L617.8 272.1L618.3 272.1L618.9 272.9L619.4 272.4L619.9 272.4L620.5 273.3L621 275.4L621.6 275.2L622.1 272.9L622.7 274.5L623.2 274.3L623.7 274.4L624.3 274.9L624.8 272.8L625.4 274.5L625.9 273L626.4 274L627 274.7L627.5 274.6L628.1 275.9L628.6 274.8L629.2 274.3L629.7 274.6L630.2 274.8L630.8 275.7L631.3 274.6L631.9 275.7L632.4 275.8L632.9 276.2L633.5 274.1L634 274.9L634.6 275.6L635.1 274.3L635.7 275.6L636.2 276.7L636.7 275.7L637.3 275.2L637.8 274.6L638.4 277.3L638.9 276.9L639.5 275L640 275.2L640.5 275.9L641.1 277.7L641.6 276.6L642.2 277L642.7 277.4L643.2 276.3L643.8 277.2L644.3 276.4L644.9 275.6L645.4 276.7L646 275.6L646.5 275L647 275L647.6 277.1L648.1 278L648.7 277.9L649.2 278.4L649.8 277.9L650.3 276.9L650.8 276.8L651.4 276.5L651.9 275.5L652.5 277L653 277.9L653.5 278.3L654.1 278.5L654.6 277.1L655.2 275.8L655.7 276.6L656.3 277.5L656.8 277.3L657.3 276.3L657.9 277.6L658.4 276.9L659 277.3L659.5 278L660.1 276.7L660.6 276.5L661.1 277.4L661.7 278.4L662.2 279.2L662.8 279L663.3 276.9L663.8 277.5L664.4 277.6L664.9 277.3L665.5 277.8L666 277.7L666.6 278.7L667.1 277L667.6 278.8L668.2 277.6L668.7 280.5L669.3 274.1L669.8 257.6L670.3 249.3L670.9 246.8L671.4 244.1L672 239.8L672.5 236.2L673.1 234.5L673.6 231.5L674.1 230.9L674.7 231.6L675.2 231.8L675.8 229.6L676.3 228.4L676.9 227.8" stroke="#000" stroke-width="0.78"/>
<path d="M427.5 155L428.1 154.7L428.6 155.4L429.1 154.9L429.7 154.2L430.2 155.1L430.8 155.9L431.3 155.7L431.9 154L432.4 155L432.9 154.4L433.5 154.6L434 155.9L434.6 155.3L435.1 155.3L435.7 154.5L436.2 154.9L436.7 155.5L437.3 155.3L437.8 155.8L438.4 153.7L438.9 157.4L439.4 155.9L440 153.8L440.5 153.4L441.1 153.9L441.6 155.2L442.2 154.4L442.7 155.2L443.2 155.3L443.8 155.9L444.3 156.5L444.9 155.6L445.4 154.6L446 155.6L446.5 154.5L447 154.5L447.6 154.9L448.1 155.8L448.7 156.5L449.2 155L449.7 156.6L450.3 154.3L450.8 155.7L451.4 154.6L451.9 154.7L452.5 155.1L453 156.1L453.5 154.3L454.1 155.4L454.6 156L455.2 157.2L455.7 154.7L456.2 154.3L456.8 155.3L457.3 155.2L457.9 155L458.4 154.3L459 154.3L459.5 155.8L460 154.1L460.6 154.1L461.1 154L461.7 154.5L462.2 155.3L462.8 154.9L463.3 166.6L463.8 178.7L464.4 181.9L464.9 182.5L465.5 183L466 186.6L466.5 188.1L467.1 186.7L467.6 190.1L468.2 190.4L468.7 191.2L469.3 192.7L469.8 194.2L470.3 196.3L470.9 196.3L471.4 199.4L472 200.8L472.5 198.6L473.1 199L473.6 201.6L474.1 203.4L474.7 204.2L475.2 205.4L475.8 204.7L476.3 205.9L476.8 206.5L477.4 207.2L477.9 210.3L478.5 209.8L479 211.5L479.6 210.8L480.1 210.8L480.6 211.9L481.2 213.5L481.7 215.6L482.3 216.1L482.8 216.8L483.4 217.7L483.9 218.4L484.4 218.2L485 219.2L485.5 217.8L486.1 219.6L486.6 221.4L487.1 223L487.7 221.8L488.2 222.2L488.8 223.4L489.3 224.4L489.9 224.4L490.4 226.4L490.9 225.3L491.5 225.4L492 228.1L492.6 226.9L493.1 229.5L493.6 229.5L494.2 229.2L494.7 230.6L495.3 229.3L495.8 227.5L496.4 230.7L496.9 230.1L497.4 231.2L498 232.7L498.5 231.3L499.1 232.3L499.6 233.5L500.2 234.6L500.7 235.1L501.2 233.9L501.8 236.8L502.3 236.9L502.9 237.1L503.4 236.8L503.9 237L504.5 238.4L505 238.1L505.6 237.7L506.1 238.5L506.7 238.4L507.2 238.5L507.7 238.5L508.3 239.3L508.8 239.8L509.4 240.8L509.9 241.7L510.5 241.6L511 242L511.5 242.4L512.1 242L512.6 243.8L513.2 243.6L513.7 243.6L514.2 244.8L514.8 244.2L515.3 244.7L515.9 245.1L516.4 245.3L517 246.5L517.5 244.2L518 245.6L518.6 245.8L519.1 246.3L519.7 246.8L520.2 247.5L520.8 247.8L521.3 249.2L521.8 249.5L522.4 247.1L522.9 246.8L523.5 248.6L524 249.5L524.5 249.1L525.1 248.7L525.6 249.2L526.2 251.8L526.7 250.1L527.3 248.8L527.8 250.6L528.3 251.3L528.9 252.2L529.4 252L530 253.5L530.5 253.2L531 252.4L531.6 252.4L532.1 251.7L532.7 252.4L533.2 253.2L533.8 254.3L534.3 254.3L534.8 256L535.4 255.2L535.9 254.7L536.5 254.3L537 254.8L537.6 255.1L538.1 257.1L538.6 254.7L539.2 255.5L539.7 255.2L540.3 256.4L540.8 254.9L541.3 256.6L541.9 256.6L542.4 256.4L543 256.6L543.5 257.9L544.1 257.6L544.6 257.8L545.1 258.6L545.7 259.7L546.2 257.8L546.8 256.6L547.3 258.7L547.9 258.4L548.4 258.9L548.9 257.9L549.5 259L550 261.4L550.6 259.1L551.1 259.3L551.6 260.2L552.2 260.1L552.7 260.8L553.3 261.3L553.8 258.9L554.4 259.3L554.9 259.8L555.4 260.7L556 261.9L556.5 261.5L557.1 261.5L557.6 262L558.2 261.5L558.7 261.9L559.2 263.5L559.8 263.6L560.3 263.4L560.9 264.4L561.4 266.2L561.9 263.6L562.5 262.7L563 262.8L563.6 264.8L564.1 261.9L564.7 264.7L565.2 264.4L565.7 263.8L566.3 267.1L566.8 265.5L567.4 265.3L567.9 264.8L568.4 264.7L569 264.9L569.5 265.2L570.1 264.6L570.6 265.7L571.2 265.8L571.7 266.7L572.2 265.6L572.8 263.4L573.3 264L573.9 264.9L574.4 265.2L575 266L575.5 267.8L576 266.8L576.6 267.4L577.1 267.6L577.7 267L578.2 267.9L578.7 267.7L579.3 267.4L579.8 267.6L580.4 266.7L580.9 270.1L581.5 268.3L582 268L582.5 269.1L583.1 269.1L583.6 267.8L584.2 268.7L584.7 268L585.3 269.2L585.8 269.7L586.3 267.5L586.9 269.6L587.4 270.2L588 271.1L588.5 269L589 269.6L589.6 271L590.1 269.6L590.7 269.8L591.2 271.1L591.8 269.9L592.3 267.2L592.8 270L593.4 271.9L593.9 270.2L594.5 270.1L595 272.1L595.5 272.6L596.1 271.6L596.6 270.9L597.2 271.5L597.7 273.3L598.3 273.4L598.8 272.5L599.3 272.3L599.9 271.2L600.4 271.4L601 271.5L601.5 271.4L602.1 273.6L602.6 273.6L603.1 273.2L603.7 274.3L604.2 273.1L604.8 272.1L605.3 272.2L605.8 271L606.4 270.2L606.9 273.7L607.5 273.1L608 273.7L608.6 271.7L609.1 272.7L609.6 274.1L610.2 270.8L610.7 272.8L611.3 273.3L611.8 274.4L612.4 271.5L612.9 274L613.4 274.7L614 274.5L614.5 274.7L615.1 274.8L615.6 273.7L616.1 273.6L616.7 274.9L617.2 273.8L617.8 276.4L618.3 275.5L618.9 275.4L619.4 275.7L619.9 276.6L620.5 275.1L621 275.6L621.6 275.8L622.1 276.3L622.7 274.3L623.2 275.4L623.7 276L624.3 275.1L624.8 274.8L625.4 273.8L625.9 274.8L626.4 274.7L627 276.4L627.5 275L628.1 275.4L628.6 275.6L629.2 275.4L629.7 277.2L630.2 277.5L630.8 275.5L631.3 277.4L631.9 276.5L632.4 274.7L632.9 276.1L633.5 275.4L634 276.1L634.6 276.5L635.1 277.1L635.7 277.3L636.2 277.4L636.7 276.7L637.3 276L637.8 274.2L638.4 276.8L638.9 276.7L639.5 278L640 278.8L640.5 278.7L641.1 277.5L641.6 276.4L642.2 278.8L642.7 278.8L643.2 277.4L643.8 277.1L644.3 276.9L644.9 276.6L645.4 277.4L646 278.2L646.5 277.9L647 277.1L647.6 277.1L648.1 278.2L648.7 277.6L649.2 277.1L649.8 278.1L650.3 276.8L650.8 278.4L651.4 277.2L651.9 278.5L652.5 277.7L653 278L653.5 277.7L654.1 277.9L654.6 277.5L655.2 277.9L655.7 279.7L656.3 278.7L656.8 278.2L657.3 277.5L657.9 278.3L658.4 279L659 278.8L659.5 279.1L660.1 277.2L660.6 278.2L661.1 279.9L661.7 279.4L662.2 279.1L662.8 278.5L663.3 279.6L663.8 279.5L664.4 277.5L664.9 278.8L665.5 278.6L666 279.4L666.6 279.9L667.1 278.7L667.6 278.3L668.2 278.3L668.7 279.7L669.3 274.3L669.8 257L670.3 249.9L670.9 245.9L671.4 241.8L672 238.5L672.5 237.5L673.1 235.7L673.6 233.1L674.1 231.4L674.7 228.6L675.2 226.7L675.8 227.4L676.3 226.7L676.9 226.8" stroke="#000" stroke-width="0.78"/>
<path d="M427.5 153.9L428.1 153.8L428.6 152.7L429.1 152.9L429.7 155.6L430.2 154.5L430.8 152.9L431.3 154.9L431.9 154.4L432.4 156L432.9 156.1L433.5 154.4L434 154.8L434.6 155.8L435.1 154L435.7 155.2L436.2 154.6L436.7 155.1L437.3 156.2L437.8 155.3L438.4 155.4L438.9 153.9L439.4 155.6L440 155.2L440.5 155.1L441.1 153.9L441.6 155.3L442.2 154.6L442.7 153.9L443.2 154.4L443.8 155.1L444.3 155.5L444.9 154.7L445.4 155.2L446 154.8L446.5 154.8L447 154.7L447.6 155.5L448.1 153.8L448.7 154.1L449.2 154.7L449.7 154L450.3 155.5L450.8 155.5L451.4 154.4L451.9 155.5L452.5 156.1L453 156.3L453.5 156.8L454.1 155.9L454.6 155.4L455.2 154.6L455.7 156.6L456.2 154.9L456.8 156L457.3 155.1L457.9 153.6L458.4 155.8L459 153.8L459.5 155.2L460 155.5L460.6 156L461.1 155.1L461.7 153.1L462.2 155.9L462.8 157.4L463.3 168L463.8 174.9L464.4 179.5L464.9 180.7L465.5 185.2L466 185L466.5 187.3L467.1 188.8L467.6 189.4L468.2 191.4L468.7 192.3L469.3 194.7L469.8 194.9L470.3 197.6L470.9 196L471.4 196.2L472 198.5L472.5 201.6L473.1 200.3L473.6 202.2L474.1 202.9L474.7 205.1L475.2 204.3L475.8 206.2L476.3 207.1L476.8 207.9L477.4 209.1L477.9 209.4L478.5 209.2L479 210.9L479.6 211.6L480.1 212.5L480.6 212.9L481.2 214.3L481.7 215.9L482.3 214.8L482.8 214.5L483.4 216.4L483.9 218.1L484.4 218.7L485 218.7L485.5 219.4L486.1 221.1L486.6 222.4L487.1 222.4L487.7 222.3L488.2 223.3L488.8 224.5L489.3 225.5L489.9 225L490.4 227.6L490.9 227.6L491.5 226.4L492 229L492.6 228.4L493.1 227.1L493.6 229.2L494.2 230.8L494.7 232L495.3 229.8L495.8 232.6L496.4 231.5L496.9 233.3L497.4 232.3L498 232.6L498.5 232.4L499.1 234.7L499.6 234.6L500.2 236.5L500.7 235.5L501.2 234.8L501.8 236.4L502.3 235.5L502.9 236L503.4 235.9L503.9 235.6L504.5 237.5L505 236.7L505.6 238.4L506.1 240L506.7 238.9L507.2 240.2L507.7 242.5L508.3 240.6L508.8 240.3L509.4 239.7L509.9 240.5L510.5 241.5L511 244.3L511.5 243L512.1 241.9L512.6 244.2L513.2 243L513.7 242.8L514.2 244.1L514.8 244.1L515.3 244.9L515.9 247L516.4 247.1L517 245.8L517.5 246.6L518 245.9L518.6 245.2L519.1 245.9L519.7 247.2L520.2 248.4L520.8 248.9L521.3 245.7L521.8 247.6L522.4 247.5L522.9 246.8L523.5 247.8L524 249.2L524.5 250.9L525.1 250.8L525.6 250.2L526.2 249.9L526.7 249.6L527.3 251.7L527.8 251.4L528.3 252.3L528.9 252.3L529.4 251.7L530 253.5L530.5 252.4L531 252.2L531.6 252.2L532.1 252.4L532.7 254L533.2 253.8L533.8 252.6L534.3 254.2L534.8 255.5L535.4 254.1L535.9 255.1L536.5 255.6L537 256.9L537.6 256.2L538.1 256.4L538.6 255.4L539.2 257L539.7 257.9L540.3 256.6L540.8 257.3L541.3 258.6L541.9 256.3L542.4 257L543 257.5L543.5 257.3L544.1 257.8L544.6 257.8L545.1 257.7L545.7 259.3L546.2 259.1L546.8 260.5L547.3 260.5L547.9 260.1L548.4 259.4L548.9 258.9L549.5 260L550 259.9L550.6 260.2L551.1 260.8L551.6 261.9L552.2 259.9L552.7 261.6L553.3 260.1L553.8 260.5L554.4 258.1L554.9 261.8L555.4 261.3L556 263.2L556.5 261.2L557.1 263.1L557.6 263.6L558.2 262.8L558.7 262.7L559.2 263.1L559.8 263.7L560.3 263.4L560.9 263L561.4 263L561.9 263.9L562.5 261.7L563 263.3L563.6 263.1L564.1 265.3L564.7 265.1L565.2 264.5L565.7 267.3L566.3 265.6L566.8 265.8L567.4 266.3L567.9 265.1L568.4 264.5L569 266.4L569.5 267.3L570.1 265.5L570.6 265.8L571.2 266.5L571.7 266.2L572.2 266.8L572.8 266.6L573.3 267L573.9 266.7L574.4 267.8L575 266.7L575.5 268.4L576 265.6L576.6 266.5L577.1 266.4L577.7 265.8L578.2 266.7L578.7 268.7L579.3 268.2L579.8 268.3L580.4 268.6L580.9 268.2L581.5 268.8L582 269.7L582.5 269.7L583.1 269.3L583.6 268.9L584.2 270.1L584.7 268.3L585.3 269.2L585.8 270.2L586.3 271.1L586.9 270.3L587.4 271.1L588 269.9L588.5 271.9L589 272.5L589.6 270.8L590.1 271.1L590.7 269.8L591.2 270.9L591.8 271.3L592.3 272.6L592.8 272.6L593.4 267.7L593.9 271L594.5 272.5L595 271.2L595.5 269.5L596.1 269.7L596.6 270.1L597.2 271.2L597.7 273.6L598.3 272.1L598.8 270.3L599.3 272.9L599.9 270.6L600.4 272.5L601 272.2L601.5 272.6L602.1 274.2L602.6 273.2L603.1 272L603.7 274.3L604.2 273.5L604.8 274.5L605.3 273.5L605.8 272.9L606.4 273.4L606.9 274.5L607.5 272.7L608 273L608.6 275L609.1 275L609.6 275L610.2 274.3L610.7 273.2L611.3 274.3L611.8 275.6L612.4 275.4L612.9 274.2L613.4 274.5L614 275.9L614.5 273.2L615.1 272.3L615.6 273.7L616.1 275.5L616.7 275.8L617.2 275.5L617.8 277.3L618.3 275.8L618.9 275.7L619.4 275L619.9 276.1L620.5 275.1L621 276.5L621.6 275.7L622.1 276.1L622.7 277.7L623.2 276.4L623.7 276.9L624.3 274.7L624.8 275.1L625.4 275L625.9 274.4L626.4 275.7L627 276.4L627.5 275L628.1 275.3L628.6 275.8L629.2 277L629.7 277L630.2 277.3L630.8 275.6L631.3 277.8L631.9 277.6L632.4 275.7L632.9 276.3L633.5 278.3L634 277.3L634.6 275.2L635.1 276.5L635.7 276L636.2 276.8L636.7 278L637.3 277.3L637.8 277L638.4 277.1L638.9 277.4L639.5 278.2L640 279.6L640.5 277.3L641.1 278.3L641.6 276.3L642.2 277L642.7 277.3L643.2 278.2L643.8 278L644.3 277.5L644.9 277.1L645.4 278.1L646 278.3L646.5 278.4L647 277.8L647.6 279.4L648.1 278.2L648.7 280.2L649.2 278.4L649.8 277.9L650.3 279.8L650.8 281.2L651.4 278.9L651.9 279.2L652.5 278.1L653 278L653.5 278.3L654.1 276.2L654.6 278.5L655.2 279.4L655.7 278.3L656.3 279L656.8 278.2L657.3 278.9L657.9 280.1L658.4 276.6L659 278.9L659.5 279.4L660.1 280.1L660.6 277.5L661.1 278.1L661.7 278L662.2 279.6L662.8 279.8L663.3 279.1L663.8 279.3L664.4 280.2L664.9 280.6L665.5 280.2L666 279.3L666.6 278.1L667.1 278.6L667.6 280.6L668.2 280.7L668.7 279.9L669.3 274.2L669.8 258.1L670.3 252L670.9 248L671.4 245.6L672 242.7L672.5 241.7L673.1 240.7L673.6 237.4L674.1 236.2L674.7 234L675.2 234.9L675.8 231.8L676.3 232.2L676.9 230.2L677.4 231.5" stroke="#000" stroke-width="0.78"/>
<path d="M427.5 155L428.1 156.9L428.6 154.2L429.1 155.3L429.7 156L430.2 155L430.8 155.9L431.3 155.5L431.9 156.7L432.4 154.5L432.9 155.1L433.5 156L434 155.3L434.6 155.4L435.1 155L435.7 156.1L436.2 157.3L436.7 153.4L437.3 154.6L437.8 154.2L438.4 153.2L438.9 154.7L439.4 155L440 153.5L440.5 153.6L441.1 155.5L441.6 155.2L442.2 154.3L442.7 155.8L443.2 155.3L443.8 154.2L444.3 154.8L444.9 155.1L445.4 155.9L446 154.9L446.5 154.9L447 154L447.6 155.1L448.1 155.3L448.7 156L449.2 154.9L449.7 154.2L450.3 155.6L450.8 156L451.4 156.3L451.9 155L452.5 156.7L453 154.6L453.5 154.4L454.1 154.2L454.6 153L455.2 153.8L455.7 155.4L456.2 153.6L456.8 153.1L457.3 154.3L457.9 154.2L458.4 154.2L459 155.6L459.5 154.3L460 154L460.6 156.7L461.1 155.5L461.7 156.5L462.2 154.6L462.8 155.4L463.3 167.9L463.8 176.7L464.4 182.1L464.9 182.9L465.5 183.1L466 184.7L466.5 187.2L467.1 189.2L467.6 189.9L468.2 188.7L468.7 191.5L469.3 193.5L469.8 194.8L470.3 194.7L470.9 197.8L471.4 197.4L472 199.3L472.5 199.6L473.1 200.9L473.6 201.2L474.1 202.3L474.7 204.9L475.2 205.1L475.8 205.1L476.3 206.5L476.8 207.3L477.4 210.5L477.9 210.8L478.5 209.8L479 213.2L479.6 212L480.1 213.4L480.6 211.9L481.2 213.7L481.7 214.8L482.3 216.2L482.8 216.6L483.4 216.8L483.9 217.8L484.4 219.5L485 218.2L485.5 218.1L486.1 219.4L486.6 219.8L487.1 220.8L487.7 222.8L488.2 223.7L488.8 223.8L489.3 225.8L489.9 224.5L490.4 225.6L490.9 225.8L491.5 227.4L492 229.2L492.6 228.1L493.1 227.1L493.6 229.6L494.2 229.3L494.7 230.5L495.3 230.2L495.8 229.7L496.4 231.4L496.9 233.3L497.4 234.5L498 233.7L498.5 234L499.1 234L499.6 234L500.2 234.3L500.7 235L501.2 236.3L501.8 237.5L502.3 238.2L502.9 235.5L503.4 236L503.9 237.1L504.5 236L505 238.5L505.6 238.2L506.1 240.3L506.7 240.8L507.2 242.1L507.7 240.1L508.3 240.2L508.8 242.9L509.4 240.9L509.9 239.7L510.5 242.3L511 242.6L511.5 243.7L512.1 243.3L512.6 242.5L513.2 243.5L513.7 244.2L514.2 243.9L514.8 245.1L515.3 247.7L515.9 246.4L516.4 245.6L517 244.8L517.5 247.6L518 247.7L518.6 247.2L519.1 249.3L519.7 248.4L520.2 249L520.8 248.1L521.3 248.6L521.8 251L522.4 249L522.9 248.9L523.5 250.3L524 250L524.5 249.9L525.1 249.4L525.6 252.1L526.2 250.7L526.7 251.7L527.3 251.7L527.8 253.1L528.3 253L528.9 252.8L529.4 253.2L530 253.7L530.5 252.8L531 253.8L531.6 253.8L532.1 254.2L532.7 253.8L533.2 256.5L533.8 256.7L534.3 256.9L534.8 256.7L535.4 255.6L535.9 255.1L536.5 256L537 254.8L537.6 255L538.1 255.5L538.6 254.7L539.2 257.6L539.7 258.8L540.3 257.8L540.8 258.9L541.3 259.1L541.9 259.5L542.4 258.8L543 259L543.5 258.5L544.1 257.9L544.6 258.9L545.1 260.1L545.7 260.3L546.2 258.9L546.8 259.7L547.3 259.9L547.9 259.4L548.4 260.2L548.9 261.6L549.5 261.5L550 261.3L550.6 260.9L551.1 262.7L551.6 262.6L552.2 263.3L552.7 263.3L553.3 262.2L553.8 262.2L554.4 261.9L554.9 261.1L555.4 263.6L556 263.6L556.5 262.9L557.1 263.2L557.6 263.3L558.2 262.8L558.7 261.7L559.2 262.4L559.8 263.5L560.3 264.4L560.9 263.5L561.4 265.4L561.9 265.7L562.5 265.8L563 264L563.6 263.8L564.1 265L564.7 264.7L565.2 265L565.7 265.2L566.3 264.8L566.8 265.1L567.4 264.2L567.9 265.4L568.4 265.3L569 266.6L569.5 265.8L570.1 265.8L570.6 265.5L571.2 267.3L571.7 268.4L572.2 266.9L572.8 269.6L573.3 267.5L573.9 265.8L574.4 267.3L575 268.8L575.5 266.8L576 268.1L576.6 267.1L577.1 267.6L577.7 267.9L578.2 269.6L578.7 269L579.3 269.5L579.8 269.3L580.4 268.5L580.9 270.7L581.5 271.3L582 271L582.5 271.3L583.1 269.8L583.6 269.1L584.2 270.8L584.7 270L585.3 270.3L585.8 269.3L586.3 269.3L586.9 271.3L587.4 270.4L588 271.2L588.5 270.9L589 272.1L589.6 270.5L590.1 270.5L590.7 271.9L591.2 271L591.8 272.2L592.3 272.3L592.8 269.2L593.4 271.1L593.9 270.2L594.5 270.6L595 271.2L595.5 274.3L596.1 272.9L596.6 272.6L597.2 272.7L597.7 273.2L598.3 273.3L598.8 272.7L599.3 272.7L599.9 273L600.4 273.7L601 274.1L601.5 275L602.1 274.4L602.6 275L603.1 274.8L603.7 273L604.2 274.6L604.8 271.9L605.3 271.8L605.8 272.9L606.4 275.1L606.9 273.3L607.5 273L608 276.6L608.6 274.8L609.1 274.8L609.6 274.9L610.2 275.8L610.7 274.9L611.3 276.5L611.8 275.6L612.4 277.7L612.9 275.6L613.4 275.5L614 274L614.5 275.6L615.1 275.8L615.6 276.1L616.1 275.4L616.7 277.2L617.2 278.5L617.8 276.2L618.3 275.3L618.9 275.9L619.4 276.1L619.9 277.3L620.5 276L621 276.6L621.6 275.6L622.1 277.3L622.7 278.5L623.2 279.5L623.7 277L624.3 277.3L624.8 276.7L625.4 277.2L625.9 277.4L626.4 277.5L627 278.7L627.5 276.1L628.1 277.5L628.6 278.9L629.2 276.7L629.7 275.6L630.2 277.2L630.8 279.1L631.3 278.8L631.9 278L632.4 278.5L632.9 279.1L633.5 280L634 278L634.6 279.2L635.1 277.7L635.7 277.5L636.2 278.2L636.7 278.5L637.3 278.3L637.8 278.1L638.4 278.6L638.9 278.4L639.5 278.9L640 277.2L640.5 278.2L641.1 279.3L641.6 280L642.2 279.8L642.7 279.1L643.2 278L643.8 278.3L644.3 279.3L644.9 280.1L645.4 280L646 278.8L646.5 278.6L647 278L647.6 281.4L648.1 280.1L648.7 280.5L649.2 280.9L649.8 279.8L650.3 279.2L650.8 280L651.4 279.8L651.9 278.8L652.5 279.5L653 278.2L653.5 279.3L654.1 279.6L654.6 281.2L655.2 279.8L655.7 278.6L656.3 280.7L656.8 280.3L657.3 281.7L657.9 280.5L658.4 280.7L659 280.9L659.5 281.3L660.1 278.7L660.6 280.5L661.1 281.4L661.7 279L662.2 281.4L662.8 280.2L663.3 279.7L663.8 279.3L664.4 281.3L664.9 279.5L665.5 279.2L666 280.6L666.6 278.9L667.1 281.6L667.6 280.1L668.2 280.8L668.7 280.2L669.3 276.1L669.8 259.8L670.3 253.9L670.9 250.1L671.4 245.2L672 242.1L672.5 240.5L673.1 237.4L673.6 236.5L674.1 233.3L674.7 232.4L675.2 231.3L675.8 230.8L676.3 231.5L676.9 230.7" stroke="#000" stroke-width="0.78"/>
<path d="M427.5 154L428.1 155.4L428.6 154.4L429.1 156.4L429.7 155.9L430.2 156.5L430.8 156.7L431.3 154.8L431.9 155.9L432.4 155.9L432.9 155.1L433.5 154.3L434 155.2L434.6 154.2L435.1 154.5L435.7 156.3L436.2 153.5L436.7 154.4L437.3 155.7L437.8 154L438.4 155.2L438.9 156.9L439.4 154.4L440 155.2L440.5 155.5L441.1 154.7L441.6 154.9L442.2 155.1L442.7 153.1L443.2 152.3L443.8 154.9L444.3 156.7L444.9 156.1L445.4 153.3L446 156.3L446.5 155L447 154.1L447.6 154.5L448.1 153.2L448.7 152.9L449.2 154.2L449.7 153.7L450.3 154.4L450.8 153.7L451.4 153.8L451.9 155.8L452.5 155.1L453 154.7L453.5 154.8L454.1 154.5L454.6 154.3L455.2 154.9L455.7 154.2L456.2 157.4L456.8 156.4L457.3 156.5L457.9 155.7L458.4 156.7L459 155L459.5 155.5L460 156.8L460.6 156.8L461.1 154.3L461.7 154.1L462.2 154.7L462.8 155.5L463.3 168.3L463.8 175.6L464.4 179.5L464.9 181.4L465.5 184.4L466 185.3L466.5 188.2L467.1 190.2L467.6 188.9L468.2 191.5L468.7 191.1L469.3 191.2L469.8 194.3L470.3 195.5L470.9 197.6L471.4 199.2L472 197.9L472.5 200.4L473.1 201.3L473.6 203.4L474.1 202.9L474.7 203.9L475.2 204.6L475.8 207L476.3 208.4L476.8 208.4L477.4 209.6L477.9 210.7L478.5 211.1L479 209.6L479.6 211.1L480.1 211.3L480.6 214L481.2 215.1L481.7 215.6L482.3 214.5L482.8 216.3L483.4 218.6L483.9 219.7L484.4 220.2L485 221.3L485.5 221.5L486.1 222.7L486.6 222.2L487.1 222.2L487.7 224.1L488.2 223.7L488.8 222.6L489.3 224.2L489.9 224.8L490.4 226.5L490.9 225.8L491.5 226.4L492 226.2L492.6 227.7L493.1 229.8L493.6 229.9L494.2 229.4L494.7 230.1L495.3 231.1L495.8 230L496.4 231.4L496.9 232.1L497.4 233.5L498 235L498.5 232.8L499.1 233.3L499.6 233.8L500.2 235.2L500.7 237L501.2 235.8L501.8 235.7L502.3 236.4L502.9 237.8L503.4 237L503.9 239L504.5 240.8L505 239.2L505.6 240.6L506.1 239.4L506.7 239.6L507.2 240.9L507.7 241L508.3 240.6L508.8 240.9L509.4 242.3L509.9 243.2L510.5 242L511 243L511.5 241.8L512.1 243.7L512.6 242.8L513.2 243.5L513.7 245L514.2 245.3L514.8 246.9L515.3 245.5L515.9 247.7L516.4 245.8L517 246.8L517.5 248L518 249.9L518.6 247.5L519.1 248.5L519.7 248.9L520.2 249.4L520.8 248.9L521.3 249.3L521.8 248.4L522.4 250.1L522.9 247.7L523.5 251L524 251.3L524.5 251.5L525.1 251.8L525.6 252.2L526.2 253.1L526.7 252.8L527.3 252.8L527.8 254.3L528.3 253.4L528.9 253.7L529.4 252.7L530 253.2L530.5 254.1L531 255.5L531.6 254.3L532.1 253.9L532.7 254.1L533.2 253.8L533.8 255.4L534.3 256.1L534.8 255.4L535.4 256.6L535.9 255.6L536.5 257L537 256L537.6 257.9L538.1 258.6L538.6 257.5L539.2 258.3L539.7 257L540.3 257.7L540.8 258.8L541.3 258.5L541.9 259.8L542.4 259.2L543 260L543.5 260.1L544.1 260L544.6 259.7L545.1 259.3L545.7 259.2L546.2 258.7L546.8 258.3L547.3 258.3L547.9 258.3L548.4 260.1L548.9 262.1L549.5 262.8L550 261.8L550.6 262.4L551.1 261.7L551.6 262.8L552.2 262L552.7 262.1L553.3 264L553.8 261.2L554.4 264.4L554.9 264L555.4 262.6L556 263.9L556.5 263.6L557.1 263.9L557.6 264.5L558.2 265L558.7 262.9L559.2 263.4L559.8 264.8L560.3 263.8L560.9 265.5L561.4 264.6L561.9 266.1L562.5 265.7L563 267.5L563.6 268.7L564.1 268.7L564.7 266.8L565.2 265.6L565.7 266.3L566.3 266.6L566.8 268.5L567.4 267.3L567.9 266.2L568.4 267.8L569 269L569.5 269.1L570.1 268.1L570.6 268.5L571.2 266.4L571.7 266.8L572.2 267.6L572.8 267.6L573.3 268.6L573.9 269.8L574.4 269.4L575 269.6L575.5 269.9L576 269.2L576.6 269.6L577.1 270.3L577.7 268.7L578.2 269.7L578.7 269.4L579.3 270.6L579.8 268.5L580.4 270.4L580.9 269.1L581.5 270.8L582 270.3L582.5 271.6L583.1 271.5L583.6 271.7L584.2 271.2L584.7 270.7L585.3 269.6L585.8 271.8L586.3 270.4L586.9 270.1L587.4 272.4L588 272.4L588.5 272.5L589 272L589.6 272.2L590.1 274.4L590.7 270.9L591.2 271.2L591.8 273.1L592.3 272.8L592.8 272.8L593.4 272.6L593.9 272.9L594.5 274.8L595 273.9L595.5 273.9L596.1 273L596.6 274.6L597.2 273.5L597.7 275.3L598.3 274L598.8 272.9L599.3 275.5L599.9 274.8L600.4 275.1L601 275.3L601.5 274.2L602.1 274.8L602.6 273.4L603.1 274.5L603.7 274.5L604.2 274.5L604.8 275L605.3 275.7L605.8 275.5L606.4 274.8L606.9 274.3L607.5 276.5L608 276L608.6 275.1L609.1 274.1L609.6 276.2L610.2 275.9L610.7 275.9L611.3 276.2L611.8 276.7L612.4 277L612.9 277.5L613.4 275.7L614 276.5L614.5 275.4L615.1 277.9L615.6 276.7L616.1 276.3L616.7 278.9L617.2 278.9L617.8 276.5L618.3 277.6L618.9 277.8L619.4 277.8L619.9 277.4L620.5 276.5L621 277.3L621.6 277.9L622.1 278.9L622.7 278.7L623.2 278.1L623.7 277L624.3 275.4L624.8 276.6L625.4 275.9L625.9 278.3L626.4 278.1L627 277.4L627.5 279.4L628.1 278.2L628.6 278.1L629.2 278.9L629.7 279.1L630.2 279.7L630.8 278.6L631.3 277.4L631.9 278L632.4 278.6L632.9 278.3L633.5 277.9L634 277.8L634.6 279.1L635.1 279.4L635.7 278.7L636.2 278.5L636.7 279.3L637.3 280.3L637.8 280.3L638.4 281.2L638.9 279.7L639.5 279.6L640 280.4L640.5 281.7L641.1 279.3L641.6 278.1L642.2 280.3L642.7 280.9L643.2 280.5L643.8 279.5L644.3 279.1L644.9 280.1L645.4 282.4L646 280.5L646.5 279.2L647 279.6L647.6 279.5L648.1 280.7L648.7 279.2L649.2 279.1L649.8 278.6L650.3 281L650.8 280.5L651.4 281.9L651.9 281L652.5 281.1L653 280.5L653.5 282.6L654.1 281.9L654.6 280L655.2 280.3L655.7 280.5L656.3 281.9L656.8 282.2L657.3 280.8L657.9 281.4L658.4 280.5L659 280.5L659.5 281L660.1 282L660.6 280L661.1 281L661.7 279.9L662.2 281.6L662.8 281.3L663.3 281.8L663.8 281.2L664.4 280.9L664.9 282.3L665.5 281.7L666 281.3L666.6 281.5L667.1 282.3L667.6 281.5L668.2 282.6L668.7 282.3L669.3 276.6L669.8 260.3L670.3 253.4L670.9 248.4L671.4 245.8L672 243.2L672.5 241.7L673.1 239.6L673.6 238.3L674.1 235.7L674.7 233.6L675.2 231.7L675.8 232.9L676.3 229.6L676.9 229.3L677.4 227.2L677.9 227.3" stroke="#000" stroke-width="0.78"/>
<path d="M427.5 154.4L428.1 155.8L428.6 154.2L429.1 155.1L429.7 155.9L430.2 156L430.8 155.8L431.3 154.6L431.9 154.4L432.4 154L432.9 152.9L433.5 154.7L434 155.1L434.6 154.8L435.1 153.5L435.7 153.9L436.2 153.9L436.7 154.6L437.3 154.2L437.8 155.1L438.4 153.7L438.9 155.2L439.4 154.8L440 154.4L440.5 153.8L441.1 156.4L441.6 155.3L442.2 154.4L442.7 153.9L443.2 154.8L443.8 155.4L444.3 155L444.9 154.7L445.4 154.6L446 156.8L446.5 156L447 153.4L447.6 153.3L448.1 155.6L448.7 155.2L449.2 153.6L449.7 155.9L450.3 154.8L450.8 156L451.4 154.1L451.9 155.3L452.5 154.3L453 154.4L453.5 155.1L454.1 153.7L454.6 155.6L455.2 155.7L455.7 156.2L456.2 155.4L456.8 156L457.3 154.9L457.9 154.8L458.4 152.9L459 155.7L459.5 156.9L460 154.5L460.6 154.6L461.1 156.2L461.7 155.2L462.2 153.9L462.8 155.4L463.3 168L463.8 176.8L464.4 181.7L464.9 182.6L465.5 183.9L466 184.9L466.5 186.1L467.1 187.9L467.6 190.1L468.2 190.6L468.7 193L469.3 192.2L469.8 195.2L470.3 196.5L470.9 196.5L471.4 199.4L472 200.7L472.5 202.4L473.1 202.8L473.6 205.3L474.1 205.5L474.7 206.7L475.2 205.2L475.8 205.3L476.3 206.3L476.8 208.3L477.4 207.6L477.9 209.9L478.5 211.5L479 214L479.6 213.6L480.1 214.6L480.6 212.3L481.2 214.6L481.7 215.9L482.3 216.5L482.8 218.4L483.4 219.2L483.9 219.3L484.4 219.5L485 218.8L485.5 219.7L486.1 221.7L486.6 221.4L487.1 222.2L487.7 224.1L488.2 223.4L488.8 224.8L489.3 224.7L489.9 225L490.4 226.1L490.9 227L491.5 227.2L492 227.8L492.6 229.1L493.1 228.7L493.6 229.1L494.2 231.2L494.7 230.2L495.3 231.6L495.8 231.9L496.4 233.9L496.9 233.9L497.4 234.4L498 234.5L498.5 234.1L499.1 234.3L499.6 237.1L500.2 235.4L500.7 234.6L501.2 235.5L501.8 238L502.3 239.9L502.9 237.9L503.4 238.7L503.9 237.9L504.5 239.6L505 239.1L505.6 240L506.1 239.9L506.7 241.3L507.2 242.5L507.7 241.7L508.3 243.2L508.8 242.3L509.4 244.5L509.9 243.4L510.5 242.7L511 244.1L511.5 244.8L512.1 245.4L512.6 246.3L513.2 245.9L513.7 244.3L514.2 247L514.8 246.7L515.3 246.1L515.9 246.2L516.4 246.8L517 247L517.5 248L518 249L518.6 247.7L519.1 250.5L519.7 248.4L520.2 248.6L520.8 250.5L521.3 249.6L521.8 250.8L522.4 250.3L522.9 250.7L523.5 251.3L524 249.3L524.5 251.1L525.1 253.5L525.6 252.7L526.2 252.7L526.7 253.5L527.3 252.4L527.8 251.9L528.3 253.7L528.9 255.5L529.4 255.5L530 255.3L530.5 254.4L531 256.1L531.6 256.4L532.1 255.7L532.7 256.8L533.2 255.9L533.8 257.9L534.3 255.6L534.8 256.5L535.4 255.9L535.9 256.5L536.5 257L537 257.1L537.6 256.1L538.1 256.4L538.6 258.6L539.2 258.1L539.7 259.1L540.3 256.6L540.8 257.5L541.3 258.5L541.9 258.4L542.4 259.7L543 260.4L543.5 258.6L544.1 259.7L544.6 258.1L545.1 260.4L545.7 260.7L546.2 260.3L546.8 260.4L547.3 260.1L547.9 260.1L548.4 262.1L548.9 263.3L549.5 261.1L550 261.6L550.6 263.4L551.1 261.5L551.6 262L552.2 263.1L552.7 263L553.3 264L553.8 262.8L554.4 263.4L554.9 263.8L555.4 264.2L556 265.2L556.5 265.9L557.1 264.1L557.6 263.3L558.2 265.7L558.7 263.4L559.2 265L559.8 266.7L560.3 266.4L560.9 265L561.4 264.5L561.9 266.1L562.5 265.8L563 268.6L563.6 266L564.1 266.8L564.7 265.9L565.2 267.9L565.7 269.6L566.3 267.1L566.8 266.8L567.4 267.4L567.9 268.1L568.4 268.9L569 268.6L569.5 270.3L570.1 268.5L570.6 270.2L571.2 267.7L571.7 268.6L572.2 269.7L572.8 269.4L573.3 270.4L573.9 270.4L574.4 269L575 268L575.5 269.5L576 270.3L576.6 270.4L577.1 270.5L577.7 270.4L578.2 271.4L578.7 269.8L579.3 270.2L579.8 269.8L580.4 269.6L580.9 270.4L581.5 270.9L582 270.7L582.5 272.1L583.1 272.6L583.6 273.2L584.2 272.1L584.7 271.8L585.3 272L585.8 273.2L586.3 272L586.9 271.7L587.4 271.5L588 273.2L588.5 273.1L589 271.4L589.6 271.8L590.1 272.7L590.7 273.9L591.2 273.7L591.8 271.6L592.3 272.4L592.8 272.2L593.4 273L593.9 272.6L594.5 273.2L595 275.5L595.5 275L596.1 275.6L596.6 275.7L597.2 275.6L597.7 274.3L598.3 275.8L598.8 275.1L599.3 275.8L599.9 274.3L600.4 275L601 275.6L601.5 274.6L602.1 275.6L602.6 275.9L603.1 277.5L603.7 276.5L604.2 276.2L604.8 275.5L605.3 275L605.8 276.9L606.4 276.1L606.9 275.9L607.5 275.5L608 276.8L608.6 276.6L609.1 275.5L609.6 276.2L610.2 274.2L610.7 275.4L611.3 276.2L611.8 276.3L612.4 277.2L612.9 278.5L613.4 279L614 277.5L614.5 276.4L615.1 276.9L615.6 278.1L616.1 278.4L616.7 276.8L617.2 278.9L617.8 277.7L618.3 276.6L618.9 278.1L619.4 277.4L619.9 278.4L620.5 277.1L621 276.9L621.6 277.2L622.1 276.5L622.7 276.3L623.2 280.4L623.7 279.6L624.3 279.9L624.8 278.3L625.4 279.4L625.9 278.9L626.4 279.6L627 280.2L627.5 280.6L628.1 278.8L628.6 278.6L629.2 279.3L629.7 279.3L630.2 280.7L630.8 277.6L631.3 278.4L631.9 279.6L632.4 279.8L632.9 278.6L633.5 280.3L634 281L634.6 281.8L635.1 280.7L635.7 278.9L636.2 280.5L636.7 279.8L637.3 281.5L637.8 282.5L638.4 280.1L638.9 278.6L639.5 280.9L640 281.9L640.5 281.2L641.1 281.3L641.6 280.9L642.2 282.5L642.7 280.7L643.2 280.5L643.8 279.9L644.3 279.7L644.9 279.2L645.4 281.3L646 281.6L646.5 281.6L647 281.5L647.6 281.7L648.1 280.6L648.7 280.9L649.2 280.4L649.8 280.7L650.3 281.2L650.8 282.4L651.4 282.9L651.9 282.1L652.5 280.4L653 281.7L653.5 280.7L654.1 281.5L654.6 281.2L655.2 282.6L655.7 283.4L656.3 280.8L656.8 281.3L657.3 281.9L657.9 281.8L658.4 281.4L659 280.9L659.5 282.8L660.1 282.1L660.6 280.9L661.1 281.6L661.7 281.5L662.2 283.4L662.8 282.5L663.3 282.6L663.8 283.1L664.4 283.2L664.9 284.4L665.5 284.5L666 283.5L666.6 284L667.1 283.3L667.6 283.4L668.2 283.6L668.7 283.7L669.3 278.3L669.8 259.9L670.3 253.9L670.9 250.8L671.4 248.4L672 244.8L672.5 241.9L673.1 241.1L673.6 238.3L674.1 237.2L674.7 237.9L675.2 236.1L675.8 234.7L676.3 232.6L676.9 233.6" stroke="#000" stroke-width="0.78"/>
<path d="M427.5 156.9L428.1 155.2L428.6 154.3L429.1 153.8L429.7 154.8L430.2 155.7L430.8 155.7L431.3 157.1L431.9 155.2L432.4 155.6L432.9 154.4L433.5 155.8L434 154.8L434.6 155.1L435.1 154L435.7 154.9L436.2 155L436.7 155.2L437.3 155.1L437.8 155.9L438.4 155.1L438.9 155.4L439.4 153.8L440 156L440.5 155.5L441.1 154.5L441.6 154.6L442.2 155L442.7 153.8L443.2 155.9L443.8 155.3L444.3 154.2L444.9 155.1L445.4 155.2L446 152.3L446.5 152.8L447 153.2L447.6 156.1L448.1 156L448.7 155.9L449.2 154.2L449.7 155.6L450.3 153.9L450.8 155.4L451.4 155.6L451.9 154.9L452.5 155.4L453 155.5L453.5 155.5L454.1 155L454.6 153.7L455.2 153.9L455.7 153.5L456.2 153.3L456.8 156L457.3 154.6L457.9 153.9L458.4 153.7L459 155.1L459.5 156.1L460 154.9L460.6 155.5L461.1 154.8L461.7 155.1L462.2 153.3L462.8 154L463.3 167.9L463.8 177.3L464.4 180.6L464.9 182.2L465.5 183L466 185L466.5 187.9L467.1 188.6L467.6 189.8L468.2 190.4L468.7 192.8L469.3 194.6L469.8 194.4L470.3 196.4L470.9 196.9L471.4 198.8L472 199.8L472.5 201.9L473.1 200.8L473.6 201.8L474.1 205.5L474.7 206.1L475.2 206.5L475.8 204.9L476.3 206.7L476.8 207.7L477.4 211.6L477.9 211.7L478.5 211L479 211.2L479.6 213.1L480.1 213.1L480.6 213.8L481.2 215.1L481.7 214.4L482.3 216L482.8 217.5L483.4 218.1L483.9 219L484.4 217.9L485 220.7L485.5 221.2L486.1 220.8L486.6 223.7L487.1 224.1L487.7 223.4L488.2 224.9L488.8 226.3L489.3 224.9L489.9 226.1L490.4 226.7L490.9 227.5L491.5 228.3L492 229.4L492.6 229.3L493.1 230L493.6 229.9L494.2 230.2L494.7 230.9L495.3 230.4L495.8 232.2L496.4 232.9L496.9 234L497.4 233L498 235.8L498.5 233.7L499.1 233.2L499.6 234.8L500.2 234.8L500.7 234.5L501.2 237.3L501.8 237L502.3 236.6L502.9 237.1L503.4 237.6L503.9 239.4L504.5 238.1L505 238.4L505.6 240.4L506.1 240L506.7 243.6L507.2 241.8L507.7 241.5L508.3 242.4L508.8 241.8L509.4 241L509.9 243.8L510.5 241.9L511 243.4L511.5 246.1L512.1 244.8L512.6 245L513.2 246.5L513.7 245.8L514.2 245.4L514.8 247.8L515.3 246.6L515.9 247.8L516.4 248.7L517 248.6L517.5 248.1L518 249.1L518.6 248.1L519.1 248.7L519.7 248L520.2 250.2L520.8 251.1L521.3 250.2L521.8 250.4L522.4 250.2L522.9 251.9L523.5 250.3L524 251.6L524.5 252L525.1 252.6L525.6 251.8L526.2 251.5L526.7 252.3L527.3 251.7L527.8 253.1L528.3 253.5L528.9 254.2L529.4 253.5L530 254.8L530.5 254.6L531 253.6L531.6 254.4L532.1 254.9L532.7 254.2L533.2 257.8L533.8 256.5L534.3 256.6L534.8 258.2L535.4 257.1L535.9 256.5L536.5 257.8L537 258.2L537.6 257.7L538.1 258.1L538.6 259.3L539.2 259.2L539.7 257.9L540.3 258.3L540.8 258.8L541.3 260.8L541.9 261.2L542.4 261.4L543 260.7L543.5 262.3L544.1 260.7L544.6 260.4L545.1 260.2L545.7 260.3L546.2 262.8L546.8 262L547.3 262.6L547.9 261L548.4 261.3L548.9 262.8L549.5 263L550 262.8L550.6 262.7L551.1 263.1L551.6 263.4L552.2 263.9L552.7 263.3L553.3 263.5L553.8 264.6L554.4 265.3L554.9 264.6L555.4 264.2L556 264.9L556.5 263.6L557.1 265.5L557.6 266.1L558.2 266.8L558.7 267.1L559.2 266.9L559.8 267.5L560.3 265.5L560.9 264.6L561.4 267.8L561.9 267L562.5 268L563 267.3L563.6 266L564.1 266L564.7 268.1L565.2 268.2L565.7 267.5L566.3 267.2L566.8 268.2L567.4 268.9L567.9 267L568.4 268.3L569 266.9L569.5 269.3L570.1 268L570.6 268.7L571.2 268.7L571.7 269.2L572.2 269.2L572.8 270.9L573.3 271.2L573.9 270.8L574.4 270.8L575 270.3L575.5 269.5L576 269L576.6 270.5L577.1 271.5L577.7 271.4L578.2 272.2L578.7 271.5L579.3 272.5L579.8 272.1L580.4 269.2L580.9 272.3L581.5 272.6L582 271.9L582.5 272.4L583.1 272.2L583.6 273.9L584.2 274.8L584.7 272.8L585.3 270.8L585.8 273.3L586.3 274L586.9 273.9L587.4 273.1L588 272.6L588.5 274.2L589 272.4L589.6 274.7L590.1 274.2L590.7 273.3L591.2 274.3L591.8 273.3L592.3 272.3L592.8 275.3L593.4 274.9L593.9 275L594.5 273.7L595 274.2L595.5 275.7L596.1 275.8L596.6 275.9L597.2 275.7L597.7 276.6L598.3 276L598.8 275.1L599.3 275.1L599.9 275.3L600.4 277.8L601 276.9L601.5 279.2L602.1 278.1L602.6 276.8L603.1 277.1L603.7 275.8L604.2 276.9L604.8 274.7L605.3 274.9L605.8 278.4L606.4 276.7L606.9 276.1L607.5 275.1L608 276.7L608.6 276.2L609.1 278.2L609.6 276.8L610.2 276.4L610.7 277.3L611.3 278L611.8 279.1L612.4 280.3L612.9 277.5L613.4 278L614 277.8L614.5 278.9L615.1 278.6L615.6 278L616.1 279.1L616.7 279.2L617.2 278.1L617.8 277.4L618.3 276.7L618.9 278L619.4 279.7L619.9 277.9L620.5 277.8L621 278.7L621.6 278.3L622.1 279.1L622.7 278.1L623.2 279.5L623.7 278.8L624.3 280.1L624.8 282.5L625.4 280.6L625.9 279.5L626.4 279.6L627 279.4L627.5 278.7L628.1 279.6L628.6 280.9L629.2 282.3L629.7 281L630.2 279.2L630.8 278.7L631.3 280.7L631.9 282.1L632.4 282.3L632.9 281.6L633.5 280.9L634 282L634.6 282.2L635.1 282.1L635.7 282.5L636.2 281.9L636.7 281.9L637.3 280.3L637.8 280L638.4 281.5L638.9 282.5L639.5 281.3L640 282.9L640.5 283.2L641.1 282.8L641.6 283L642.2 282.1L642.7 281.5L643.2 283.2L643.8 280.6L644.3 281.6L644.9 283.4L645.4 283.7L646 281.4L646.5 280.8L647 281.4L647.6 281.1L648.1 283.2L648.7 282.3L649.2 283.2L649.8 281.7L650.3 282.8L650.8 282.2L651.4 281.9L651.9 281.9L652.5 283.2L653 281.8L653.5 282.8L654.1 281.7L654.6 282.1L655.2 283.4L655.7 282.4L656.3 281.8L656.8 282.5L657.3 283.2L657.9 282.5L658.4 280.7L659 283.9L659.5 282.9L660.1 282.5L660.6 282.1L661.1 283.5L661.7 281.5L662.2 282.3L662.8 284.2L663.3 284.3L663.8 281.9L664.4 284.6L664.9 283L665.5 284L666 283.7L666.6 283.3L667.1 284.3L667.6 283.6L668.2 283.4L668.7 284.4L669.3 278.2L669.8 261.1L670.3 254.6L670.9 249.8L671.4 247.5L672 246.1L672.5 241.5L673.1 240.2L673.6 239.8L674.1 236.1L674.7 235.6L675.2 234L675.8 233.5L676.3 231.8L676.9 231.2" stroke="#000" stroke-width="0.78"/>
<path d="M427.5 157.9L428.1 155.8L428.6 154.5L429.1 156.4L429.7 156.4L430.2 153.8L430.8 153.6L431.3 155.1L431.9 156L432.4 154.2L432.9 153L433.5 153.9L434 157.5L434.6 158.1L435.1 154L435.7 156.2L436.2 153.7L436.7 155.5L437.3 153.1L437.8 152.4L438.4 154.6L438.9 153.2L439.4 154.4L440 152.1L440.5 154.7L441.1 151.7L441.6 153.6L442.2 154.7L442.7 158.4L443.2 154.5L443.8 151L444.3 152.7L444.9 154.6L445.4 154.9L446 153L446.5 153.8L447 152.8L447.6 154.5L448.1 153.9L448.7 157.1L449.2 153.6L449.7 153.2L450.3 155.5L450.8 156.5L451.4 159L451.9 156L452.5 154.3L453 155.4L453.5 155.1L454.1 156.6L454.6 154.8L455.2 155.7L455.7 155L456.2 157.4L456.8 155.4L457.3 154.6L457.9 154.1L458.4 153.6L459 153L459.5 153.2L460 152.3L460.6 154.5L461.1 155.6L461.7 156.6L462.2 155.8L462.8 152.9L463.3 166L463.8 177.5L464.4 180.8L464.9 182.8L465.5 183.6L466 185.7L466.5 188L467.1 189.2L467.6 188.6L468.2 190.6L468.7 191.9L469.3 194.1L469.8 194.6L470.3 195L470.9 198.4L471.4 198.1L472 199.7L472.5 199L473.1 199.4L473.6 202.1L474.1 202.1L474.7 202.9L475.2 204.6L475.8 206.2L476.3 207.3L476.8 207.7L477.4 209.7L477.9 209.5L478.5 211.7L479 211.8L479.6 213.1L480.1 212.5L480.6 213.5L481.2 215.1L481.7 215.9L482.3 216.6L482.8 216.3L483.4 218.2L483.9 218.9L484.4 218.9L485 220.3L485.5 220.5L486.1 221.2L486.6 221.4L487.1 222.5L487.7 222.4L488.2 224.8L488.8 224.3L489.3 224.4L489.9 223.7L490.4 225.7L490.9 225.7L491.5 226.5L492 227.1L492.6 229L493.1 229.2L493.6 229.8L494.2 231.2L494.7 230.8L495.3 231.3L495.8 232.1L496.4 232.4L496.9 232.8L497.4 233.8L498 233.1L498.5 234.4L499.1 234L499.6 235.1L500.2 235.3L500.7 236L501.2 236.9L501.8 237.3L502.3 235.8L502.9 237.4L503.4 237.5L503.9 236.9L504.5 238.3L505 240L505.6 238.9L506.1 239.7L506.7 239.7L507.2 240.9L507.7 241.5L508.3 241.4L508.8 242.9L509.4 242.5L509.9 242.9L510.5 245L511 243.8L511.5 243.4L512.1 243.2L512.6 243.9L513.2 245.8L513.7 245.6L514.2 245.1L514.8 246.3L515.3 244.9L515.9 246L516.4 246.9L517 248.6L517.5 247.6L518 247.4L518.6 246.9L519.1 248.9L519.7 248.9L520.2 249.4L520.8 249.5L521.3 248.9L521.8 249.2L522.4 249.9L522.9 248.8L523.5 248.9L524 250.3L524.5 250.4L525.1 250.8L525.6 251.7L526.2 251.6L526.7 252.1L527.3 253.8L527.8 252.8L528.3 252.8L528.9 253L529.4 254.6L530 252.4L530.5 253.5L531 254.4L531.6 256.8L532.1 254.2L532.7 256.1L533.2 256.8L533.8 254.9L534.3 255.5L534.8 255.1L535.4 253.8L535.9 255.4L536.5 256.2L537 257.5L537.6 255.9L538.1 256.9L538.6 257.9L539.2 259.3L539.7 259.2L540.3 258L540.8 257.6L541.3 258.1L541.9 259.2L542.4 257.8L543 259.2L543.5 260.5L544.1 259.7L544.6 259.7L545.1 258.8L545.7 258.1L546.2 261.1L546.8 260.6L547.3 260.3L547.9 259.7L548.4 261.1L548.9 261.3L549.5 261.8L550 262.5L550.6 261.6L551.1 262.1L551.6 262.3L552.2 261.6L552.7 262.4L553.3 260.6L553.8 262.9L554.4 261.9L554.9 263.2L555.4 262.6L556 263.1L556.5 264.9L557.1 264.8L557.6 266.6L558.2 265.7L558.7 265L559.2 266L559.8 266.3L560.3 265.4L560.9 264.7L561.4 265.7L561.9 265.1L562.5 266.1L563 264.6L563.6 265.8L564.1 266L564.7 267.5L565.2 267.9L565.7 267.3L566.3 267.6L566.8 267L567.4 266.8L567.9 267.3L568.4 267.2L569 266.4L569.5 267.3L570.1 268.5L570.6 267.3L571.2 268.2L571.7 268.9L572.2 268.7L572.8 268.4L573.3 269.3L573.9 268.3L574.4 267.6L575 268.2L575.5 268.6L576 267.5L576.6 268.3L577.1 269.1L577.7 270.5L578.2 270.1L578.7 271.3L579.3 270.4L579.8 270.1L580.4 270.4L580.9 270.1L581.5 270.5L582 271L582.5 271L583.1 270.6L583.6 270L584.2 270L584.7 271.8L585.3 272.5L585.8 272.2L586.3 273L586.9 272.1L587.4 271L588 271L588.5 272.3L589 272.6L589.6 272.8L590.1 271.9L590.7 271.9L591.2 272.1L591.8 271.6L592.3 272.1L592.8 273.1L593.4 273.4L593.9 274.1L594.5 276.2L595 272.9L595.5 274.5L596.1 274.1L596.6 274.2L597.2 273L597.7 274.4L598.3 273.6L598.8 273.5L599.3 274.5L599.9 273.7L600.4 275.6L601 274.9L601.5 274.8L602.1 275.5L602.6 273.9L603.1 274.5L603.7 276L604.2 274.6L604.8 274.9L605.3 275.4L605.8 276.4L606.4 277.5L606.9 275L607.5 275.2L608 276L608.6 275.8L609.1 275.3L609.6 274.8L610.2 276.1L610.7 276.4L611.3 275.8L611.8 275.9L612.4 277.1L612.9 276.3L613.4 276.1L614 276.9L614.5 275.4L615.1 274.6L615.6 275.2L616.1 276.2L616.7 277.4L617.2 277.1L617.8 277.8L618.3 276.5L618.9 277L619.4 277.6L619.9 277.1L620.5 278.4L621 277.6L621.6 278.8L622.1 277.5L622.7 278.4L623.2 278.5L623.7 278L624.3 277.3L624.8 277L625.4 277.3L625.9 278.8L626.4 277.4L627 278.5L627.5 278.3L628.1 277.8L628.6 277.5L629.2 277.8L629.7 276.4L630.2 279.3L630.8 277.5L631.3 279.2L631.9 279.3L632.4 279.8L632.9 280.2L633.5 279.4L634 279.1L634.6 278.7L635.1 279L635.7 279.1L636.2 280.1L636.7 279.1L637.3 278.8L637.8 280.4L638.4 280.9L638.9 279.7L639.5 280.9L640 280.4L640.5 279.7L641.1 280.2L641.6 279.3L642.2 279.8L642.7 279.5L643.2 280.6L643.8 278.1L644.3 279.9L644.9 279.5L645.4 279.4L646 280.7L646.5 281.2L647 280.4L647.6 280.6L648.1 280.3L648.7 281.3L649.2 281.2L649.8 280.5L650.3 279.6L650.8 280.4L651.4 280.7L651.9 281.4L652.5 282.1L653 282.1L653.5 282.2L654.1 280.3L654.6 281.8L655.2 279.7L655.7 280.9L656.3 281.5L656.8 280.3L657.3 279.8L657.9 281.9L658.4 280.8L659 280.1L659.5 281.8L660.1 281.6L660.6 280.1L661.1 282L661.7 282.8L662.2 283.2L662.8 283.6L663.3 283.1L663.8 282.6L664.4 281.4L664.9 281.8L665.5 282.1L666 280.4L666.6 280.5L667.1 281.9L667.6 282.3L668.2 282.1L668.7 283L669.3 276.3L669.8 260.2L670.3 253.9L670.9 249.5L671.4 246.8L672 245L672.5 242.5L673.1 241.8L673.6 238.6L674.1 236.5L674.7 235.5L675.2 235.7L675.8 235.8L676.3 235.1L676.9 231.6L677.4 231.5" stroke="#f58ec8" stroke-width="1.7"/>
</g>
<path d="M424 136.2V306.9H680.4M424 155h-7M424 192.9h-7M424 230.9h-7M424 268.9h-7M424 306.8h-7M433.4 306.9v4M443.3 306.9v4M453.1 306.9v4M463 306.9v6.9M472.9 306.9v4M482.7 306.9v4M492.6 306.9v4M502.4 306.9v4M512.3 306.9v4M522.1 306.9v4M532 306.9v4M541.8 306.9v4M551.7 306.9v4M561.5 306.9v6.9M571.4 306.9v4M581.3 306.9v4M591.1 306.9v4M601 306.9v4M610.8 306.9v4M620.7 306.9v4M630.5 306.9v4M640.4 306.9v4M650.2 306.9v4M660.1 306.9v6.9M670 306.9v4M679.8 306.9v4" fill="none" stroke="#000" stroke-width="1.7"/>
<g font-weight="bold" font-size="13.1" fill="#000">
<text x="414.4" y="159.6" text-anchor="end">1.00</text>
<text x="414.4" y="197.5" text-anchor="end">0.98</text>
<text x="414.4" y="235.5" text-anchor="end">0.96</text>
<text x="414.4" y="273.5" text-anchor="end">0.94</text>
<text x="414.4" y="311.4" text-anchor="end">0.92</text>
<text x="463" y="328" text-anchor="middle">0</text>
<text x="561.5" y="328" text-anchor="middle">10</text>
<text x="660.1" y="328" text-anchor="middle">20</text>
</g>
<text x="551.6" y="348.4" font-weight="bold" font-size="13.6" text-anchor="middle">Time (s)</text>
<text transform="translate(377.3 220.6) rotate(-90)" font-weight="bold" font-size="13.7" text-anchor="middle">Normalized Fluorescence</text>
<g font-weight="bold" font-size="13.6" text-anchor="middle">
<text x="610" y="189" fill="#9a1f72">Linear</text>
<text x="610" y="202.5" fill="#9a1f72">darobactin</text>
<text x="610" y="216" fill="#9a1f72">bound</text>
<text x="518" y="284.5" fill="#f58ec8">unbound</text>
</g>
<path d="M76.7 385.9V564.5H343.7M76.7 387.5h-7.6M76.7 431.7h-7.6M76.7 476h-7.6M76.7 520.2h-7.6M76.7 564.5h-7.6M76.7 564.5v7.2M88.1 564.5v4.2M94.8 564.5v4.2M99.6 564.5v4.2M103.3 564.5v4.2M106.3 564.5v4.2M108.8 564.5v4.2M111 564.5v4.2M113 564.5v4.2M114.7 564.5v7.2M126.1 564.5v4.2M132.8 564.5v4.2M137.6 564.5v4.2M141.3 564.5v4.2M144.3 564.5v4.2M146.8 564.5v4.2M149 564.5v4.2M151 564.5v4.2M152.7 564.5v7.2M164.1 564.5v4.2M170.8 564.5v4.2M175.6 564.5v4.2M179.3 564.5v4.2M182.3 564.5v4.2M184.8 564.5v4.2M187 564.5v4.2M189 564.5v4.2M190.7 564.5v7.2M202.1 564.5v4.2M208.8 564.5v4.2M213.6 564.5v4.2M217.3 564.5v4.2M220.3 564.5v4.2M222.8 564.5v4.2M225 564.5v4.2M227 564.5v4.2M228.7 564.5v7.2M240.1 564.5v4.2M246.8 564.5v4.2M251.6 564.5v4.2M255.3 564.5v4.2M258.3 564.5v4.2M260.8 564.5v4.2M263 564.5v4.2M265 564.5v4.2M266.7 564.5v7.2M278.1 564.5v4.2M284.8 564.5v4.2M289.6 564.5v4.2M293.3 564.5v4.2M296.3 564.5v4.2M298.8 564.5v4.2M301 564.5v4.2M303 564.5v4.2M304.7 564.5v7.2M316.1 564.5v4.2M322.8 564.5v4.2M327.6 564.5v4.2M331.3 564.5v4.2M334.3 564.5v4.2M336.8 564.5v4.2M339 564.5v4.2M341 564.5v4.2M342.7 564.5v7.2" fill="none" stroke="#000" stroke-width="2.1"/>
<g font-weight="bold" font-size="13.8" fill="#000">
<text x="66.5" y="392.6" text-anchor="end">1.5</text>
<text x="66.5" y="436.8" text-anchor="end">1.0</text>
<text x="66.5" y="481.1" text-anchor="end">0.5</text>
<text x="66.5" y="525.3" text-anchor="end">0.0</text>
<text x="66.5" y="569.6" text-anchor="end">-0.5</text>
</g>
<g font-weight="bold" font-size="13.8" fill="#000">
<text x="77" y="588.3" text-anchor="middle">10<tspan font-size="9.6" dy="-5.8">-9</tspan></text>
<text x="115" y="588.3" text-anchor="middle">10<tspan font-size="9.6" dy="-5.8">-8</tspan></text>
<text x="153" y="588.3" text-anchor="middle">10<tspan font-size="9.6" dy="-5.8">-7</tspan></text>
<text x="191" y="588.3" text-anchor="middle">10<tspan font-size="9.6" dy="-5.8">-6</tspan></text>
<text x="229" y="588.3" text-anchor="middle">10<tspan font-size="9.6" dy="-5.8">-5</tspan></text>
<text x="267" y="588.3" text-anchor="middle">10<tspan font-size="9.6" dy="-5.8">-4</tspan></text>
<text x="305" y="588.3" text-anchor="middle">10<tspan font-size="9.6" dy="-5.8">-3</tspan></text>
<text x="343" y="588.3" text-anchor="middle">10<tspan font-size="9.6" dy="-5.8">-2</tspan></text>
</g>
<text x="210" y="608.6" font-weight="bold" font-size="14.2" text-anchor="middle">Ligand Concentration [M]</text>
<text transform="translate(31.6 475.3) rotate(-90)" font-weight="bold" font-size="14.3" text-anchor="middle">Fraction Bound</text>
<path d="M109.7 517.7L111.7 517.4L113.7 517.1L115.7 516.8L117.7 516.4L119.7 516L121.7 515.5L123.7 515L125.7 514.4L127.7 513.8L129.7 513L131.7 512.2L133.7 511.3L135.7 510.4L137.7 509.3L139.7 508.1L141.7 506.8L143.7 505.4L145.7 503.9L147.7 502.2L149.7 500.5L151.7 498.6L153.7 496.6L155.7 494.4L157.7 492.2L159.7 489.8L161.7 487.4L163.7 484.9L165.7 482.3L167.7 479.6L169.7 477L171.7 474.3L173.7 471.7L175.7 469L177.7 466.4L179.7 463.9L181.7 461.5L183.7 459.2L185.7 456.9L187.7 454.8L189.7 452.8L191.7 450.9L193.7 449.1L195.7 447.5L197.7 446L199.7 444.6L201.7 443.3L203.7 442.2L205.7 441.1L207.7 440.1L209.7 439.2L211.7 438.4L213.7 437.7L215.7 437.1L217.7 436.5L219.7 436L221.7 435.5L223.7 435.1L225.7 434.7L227.7 434.4L229.7 434.1L231.7 433.8L233.7 433.6L235.7 433.4L237.7 433.2L239.7 433L241.7 432.9L243.7 432.7L245.7 432.6L247.7 432.5L249.7 432.4L251.7 432.3L253.7 432.3L255.7 432.2L257.7 432.1L259.7 432.1L261.7 432.1L263.7 432L265.7 432L267.7 431.9L269.7 431.9L271.7 431.9L273.7 431.9L275.7 431.9L277.7 431.8L279.7 431.8L281.7 431.8L283.7 431.8L285.7 431.8L287.7 431.8L289.7 431.8L291.7 431.8L293.7 431.8L295.7 431.7L297.7 431.7L299.7 431.7L301.7 431.7L303.7 431.7" fill="none" stroke="#000" stroke-width="1.1"/>
<path d="M153.9 519.5L155.9 519.5L157.9 519.5L159.9 519.5L161.9 519.5L163.9 519.5L165.9 519.5L167.9 519.5L169.9 519.5L171.9 519.5L173.9 519.5L175.9 519.5L177.9 519.5L179.9 519.5L181.9 519.5L183.9 519.5L185.9 519.5L187.9 519.5L189.9 519.5L191.9 519.5L193.9 519.5L195.9 519.5L197.9 519.5L199.9 519.5L201.9 519.5L203.9 519.5L205.9 519.5L207.9 519.4L209.9 519.4L211.9 519.4L213.9 519.4L215.9 519.4L217.9 519.4L219.9 519.4L221.9 519.4L223.9 519.3L225.9 519.3L227.9 519.3L229.9 519.2L231.9 519.2L233.9 519.2L235.9 519.1L237.9 519L239.9 519L241.9 518.9L243.9 518.8L245.9 518.6L247.9 518.5L249.9 518.3L251.9 518.1L253.9 517.9L255.9 517.6L257.9 517.3L259.9 517L261.9 516.6L263.9 516.1L265.9 515.5L267.9 514.9L269.9 514.2L271.9 513.3L273.9 512.3L275.9 511.2L277.9 510L279.9 508.6L281.9 507L283.9 505.2L285.9 503.2L287.9 501L289.9 498.6L291.9 496L293.9 493.2L295.9 490.2L297.9 487L299.9 483.7L301.9 480.4L303.9 476.9L305.9 473.5L307.9 470.1L309.9 466.7L311.9 463.5L313.9 460.3L315.9 457.4L320.5 458.9L325.2 457.8" fill="none" stroke="#000" stroke-width="1.1" stroke-dasharray="2.8 1.5"/>
<circle cx="110" cy="521.4" r="3.6" fill="#f58ec8"/>
<circle cx="121.4" cy="515.2" r="3.6" fill="#000"/>
<circle cx="132.8" cy="509.4" r="3.6" fill="#000"/>
<circle cx="144.2" cy="503.4" r="3.6" fill="#000"/>
<circle cx="155.6" cy="500.5" r="3.6" fill="#000"/>
<circle cx="167" cy="479.2" r="3.6" fill="#000"/>
<circle cx="178.4" cy="466" r="3.6" fill="#000"/>
<circle cx="189.8" cy="452" r="3.6" fill="#000"/>
<circle cx="201.2" cy="443.2" r="3.6" fill="#000"/>
<circle cx="212.6" cy="437.4" r="3.6" fill="#000"/>
<circle cx="224" cy="434.5" r="3.6" fill="#000"/>
<circle cx="235.4" cy="433.9" r="3.6" fill="#9a1f72"/>
<rect x="150.2" y="516" width="7.4" height="7.4" fill="#f58ec8"/>
<rect x="161.5" y="514" width="7.4" height="7.4" fill="#000"/>
<rect x="172.9" y="513.7" width="7.4" height="7.4" fill="#000"/>
<rect x="184" y="516.3" width="7.4" height="7.4" fill="#000"/>
<rect x="195.6" y="514.5" width="7.4" height="7.4" fill="#000"/>
<rect x="207" y="519.2" width="7.4" height="7.4" fill="#000"/>
<rect x="218.4" y="516" width="7.4" height="7.4" fill="#000"/>
<rect x="229.8" y="515.7" width="7.4" height="7.4" fill="#000"/>
<rect x="241.2" y="514.8" width="7.4" height="7.4" fill="#000"/>
<rect x="252.6" y="515.1" width="7.4" height="7.4" fill="#000"/>
<rect x="264.3" y="510.8" width="7.4" height="7.4" fill="#000"/>
<rect x="275.6" y="507" width="7.4" height="7.4" fill="#000"/>
<rect x="287" y="495.9" width="7.4" height="7.4" fill="#000"/>
<rect x="298.4" y="476.6" width="7.4" height="7.4" fill="#000"/>
<rect x="310.1" y="458.8" width="7.4" height="7.4" fill="#000"/>
<rect x="321.5" y="454.1" width="7.4" height="7.4" fill="#9a1f72"/>
<g font-size="10" fill="#000" text-anchor="middle">
<text x="142.6" y="452.4" textLength="50.2" lengthAdjust="spacingAndGlyphs">Darobactin A</text>
<text x="134.3" y="463.2" textLength="71.8" lengthAdjust="spacingAndGlyphs">K<tspan font-size="7" dy="1.7">d</tspan><tspan dy="-1.7"> = 296 ± 31 nM</tspan></text>
<text x="298.5" y="532.6" textLength="73" lengthAdjust="spacingAndGlyphs">Linear Darobactin</text>
<text x="298.5" y="543.6" textLength="85" lengthAdjust="spacingAndGlyphs">K<tspan font-size="7" dy="1.7">d</tspan><tspan dy="-1.7"> ≥ 1.20 ± 0.24 mM</tspan></text>
</g>
<path d="M423.3 377.8V612.5H658.6M423.3 612.5h-7.6M423.3 600.8h-4.2M423.3 593.9h-4.2M423.3 589h-4.2M423.3 585.3h-4.2M423.3 582.2h-4.2M423.3 579.6h-4.2M423.3 577.3h-4.2M423.3 575.3h-4.2M423.3 573.5h-7.6M423.3 561.8h-4.2M423.3 555h-4.2M423.3 550.1h-4.2M423.3 546.3h-4.2M423.3 543.2h-4.2M423.3 540.6h-4.2M423.3 538.4h-4.2M423.3 536.4h-4.2M423.3 534.6h-7.6M423.3 522.9h-4.2M423.3 516h-4.2M423.3 511.1h-4.2M423.3 507.4h-4.2M423.3 504.3h-4.2M423.3 501.7h-4.2M423.3 499.4h-4.2M423.3 497.4h-4.2M423.3 495.7h-7.6M423.3 483.9h-4.2M423.3 477.1h-4.2M423.3 472.2h-4.2M423.3 468.4h-4.2M423.3 465.3h-4.2M423.3 462.7h-4.2M423.3 460.5h-4.2M423.3 458.5h-4.2M423.3 456.7h-7.6M423.3 445h-4.2M423.3 438.1h-4.2M423.3 433.2h-4.2M423.3 429.5h-4.2M423.3 426.4h-4.2M423.3 423.8h-4.2M423.3 421.5h-4.2M423.3 419.5h-4.2M423.3 417.8h-7.6M423.3 406h-4.2M423.3 399.2h-4.2M423.3 394.3h-4.2M423.3 390.5h-4.2M423.3 387.4h-4.2M423.3 384.8h-4.2M423.3 382.6h-4.2M423.3 380.6h-4.2M423.3 378.8h-7.6M459.5 612.5v7.4M513.4 612.5v7.4M567.7 612.5v7.4M621.8 612.5v7.4" fill="none" stroke="#000" stroke-width="1.9"/>
<g font-weight="bold" font-size="14.3" fill="#000">
<text x="413.3" y="618" text-anchor="end">10<tspan font-size="9.8" dy="-6">-8</tspan></text>
<text x="413.3" y="579" text-anchor="end">10<tspan font-size="9.8" dy="-6">-7</tspan></text>
<text x="413.3" y="540.1" text-anchor="end">10<tspan font-size="9.8" dy="-6">-6</tspan></text>
<text x="413.3" y="501.2" text-anchor="end">10<tspan font-size="9.8" dy="-6">-5</tspan></text>
<text x="413.3" y="462.2" text-anchor="end">10<tspan font-size="9.8" dy="-6">-4</tspan></text>
<text x="413.3" y="423.2" text-anchor="end">10<tspan font-size="9.8" dy="-6">-3</tspan></text>
<text x="413.3" y="384.3" text-anchor="end">10<tspan font-size="9.8" dy="-6">-2</tspan></text>
</g>
<text transform="translate(372.2 496.4) rotate(-90)" font-weight="bold" font-size="14.3" text-anchor="middle">K<tspan font-size="10" dy="2.8">d</tspan><tspan dy="-2.8"> (M)</tspan></text>
<g font-weight="bold" font-size="14.3" fill="#000" text-anchor="end">
<text transform="translate(462.5 632.4) rotate(-45)">Darobactin A</text>
<text transform="translate(516.4 632.4) rotate(-45)">Linear Darobactin</text>
<text transform="translate(570.7 632.4) rotate(-45)">Porin1 β-signal</text>
<text transform="translate(624.8 632.4) rotate(-45)">Tom40 β-signal</text>
</g>
<g fill="#a3a1a1">
<circle cx="445.8" cy="555.3" r="4.4"/>
<circle cx="459.5" cy="551.3" r="4.4"/>
<circle cx="473.2" cy="555.7" r="4.4"/>
<circle cx="459.5" cy="565" r="4.4"/>
<circle cx="473.2" cy="566.4" r="4.4"/>
<circle cx="445.8" cy="574.1" r="4.4"/>
<rect x="500.3" y="409.4" width="8.6" height="8.6"/>
<rect x="518.3" y="409.7" width="8.6" height="8.6"/>
<rect x="509.2" y="425.2" width="8.6" height="8.6"/>
<path d="M563.6 490.9h8.6l-4.3 7.2z"/>
<path d="M554.5 510.1h8.6l-4.3 7.2z"/>
<path d="M572.2 507.2h8.6l-4.3 7.2z"/>
<path d="M621.8 502.6l4.4 4.4l-4.4 4.4l-4.4 -4.4z"/>
<path d="M612.7 518.9l4.4 4.4l-4.4 4.4l-4.4 -4.4z"/>
<path d="M631.1 515l4.4 4.4l-4.4 4.4l-4.4 -4.4z"/>
</g>
<path d="M441.5 559.3h35.8M449.8 556.6h19.2M449.8 563h19.2M459.4 556.6V563M495.5 418.4h35.8M503.8 414.9h19.2M503.8 423h19.2M513.4 414.9V423M549.8 504.2h35.8M558.1 498.7h19.2M558.1 512.6h19.2M567.7 498.7V512.6M603.9 515.6h35.8M612.2 511h19.2M612.2 521.2h19.2M621.8 511V521.2" fill="none" stroke="#000" stroke-width="1.7"/>
<path d="M490.9 401.9V398.6H536.6V401.9" fill="none" stroke="#000" stroke-width="2.4" stroke-linejoin="round" stroke-linecap="round"/>
<path d="M513.2 397.5V382.5" fill="none" stroke="#000" stroke-width="1.8" stroke-dasharray="2.8 1.3"/>
<path d="M513.2 376.8l3.1 6h-6.2z" fill="#000"/>
</svg></body></html>
